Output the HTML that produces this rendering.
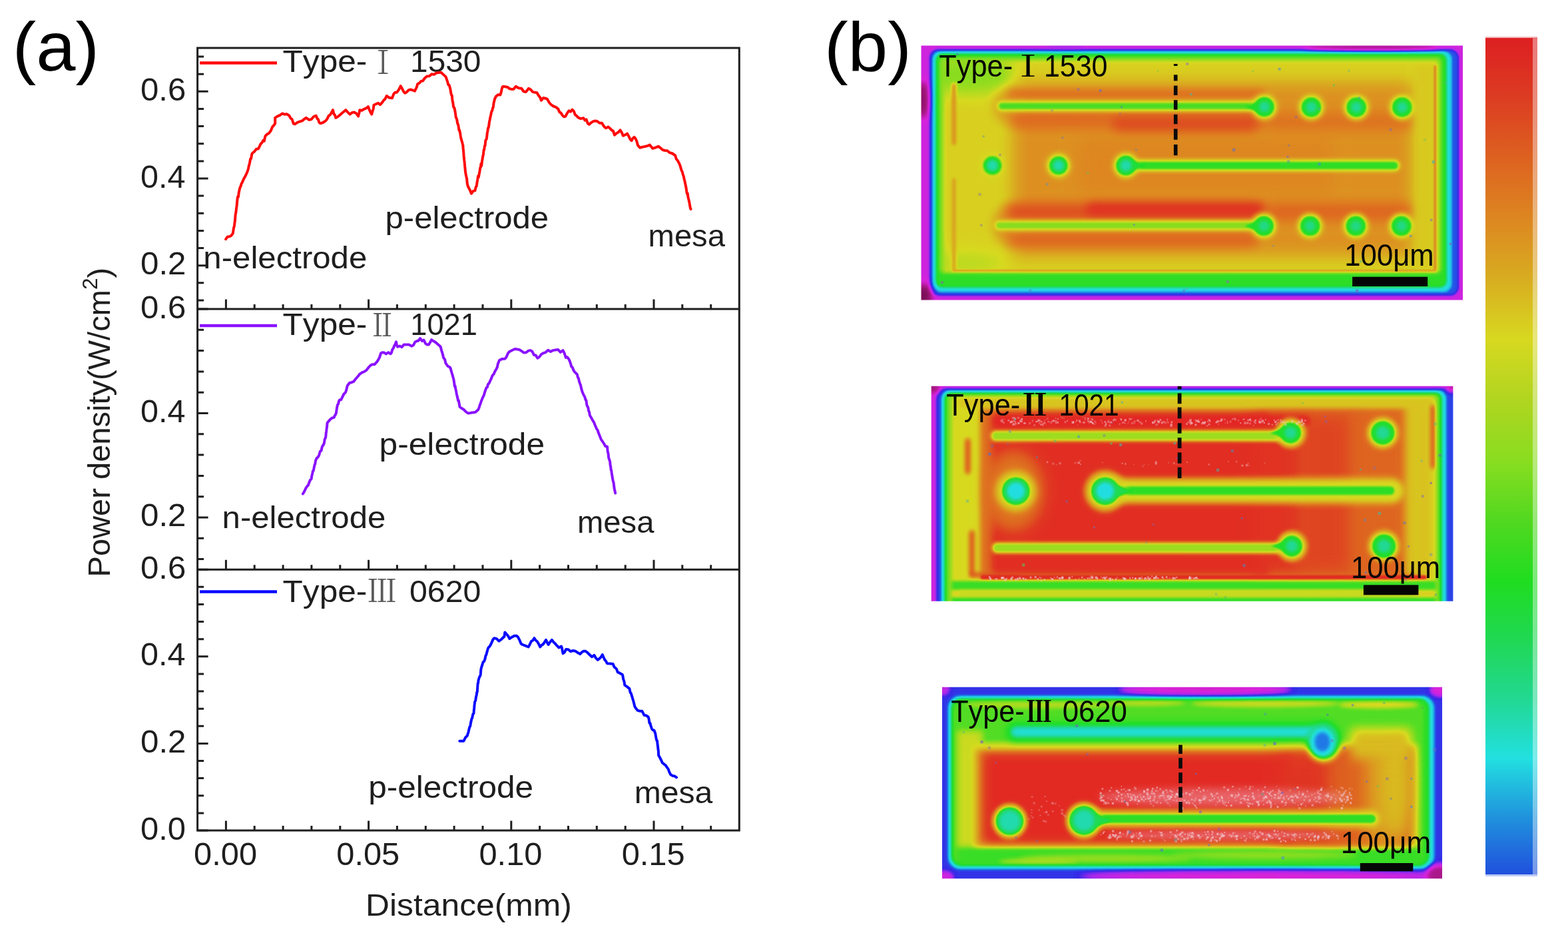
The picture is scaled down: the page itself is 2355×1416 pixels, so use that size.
<!DOCTYPE html>
<html><head><meta charset="utf-8"><title>Figure</title>
<style>
html,body{margin:0;padding:0;background:#fff;}
body{width:2355px;height:1416px;overflow:hidden;}
svg{display:block;font-kerning:none;}
text{font-kerning:none;}
</style></head><body>
<svg width="2355" height="1416" viewBox="0 0 2355 1416">
<rect width="2355" height="1416" fill="#fff"/>
<g stroke="#1e1e1e" stroke-width="3" fill="none" stroke-linecap="butt">
<rect x="296.6" y="72.0" width="813.6999999999999" height="1175.0"/>
<line x1="296.6" y1="464.0" x2="1110.3" y2="464.0"/>
<line x1="296.6" y1="855.2" x2="1110.3" y2="855.2"/>
<path d="M339.4 464.0V449.5M382.2 464.0V457.0M425.1 464.0V457.0M467.9 464.0V457.0M510.8 464.0V457.0M553.6 464.0V449.5M596.4 464.0V457.0M639.3 464.0V457.0M682.1 464.0V457.0M725.0 464.0V457.0M767.8 464.0V449.5M810.6 464.0V457.0M853.5 464.0V457.0M896.3 464.0V457.0M939.2 464.0V457.0M982.0 464.0V449.5M1024.8 464.0V457.0M1067.7 464.0V457.0M339.4 855.2V840.7M382.2 855.2V848.2M425.1 855.2V848.2M467.9 855.2V848.2M510.8 855.2V848.2M553.6 855.2V840.7M596.4 855.2V848.2M639.3 855.2V848.2M682.1 855.2V848.2M725.0 855.2V848.2M767.8 855.2V840.7M810.6 855.2V848.2M853.5 855.2V848.2M896.3 855.2V848.2M939.2 855.2V848.2M982.0 855.2V840.7M1024.8 855.2V848.2M1067.7 855.2V848.2M339.4 1247.0V1232.5M382.2 1247.0V1240.0M425.1 1247.0V1240.0M467.9 1247.0V1240.0M510.8 1247.0V1240.0M553.6 1247.0V1232.5M596.4 1247.0V1240.0M639.3 1247.0V1240.0M682.1 1247.0V1240.0M725.0 1247.0V1240.0M767.8 1247.0V1232.5M810.6 1247.0V1240.0M853.5 1247.0V1240.0M896.3 1247.0V1240.0M939.2 1247.0V1240.0M982.0 1247.0V1232.5M1024.8 1247.0V1240.0M1067.7 1247.0V1240.0M296.6 450.9H306.1M296.6 424.8H306.1M296.6 398.7H312.6M296.6 372.5H306.1M296.6 346.4H306.1M296.6 320.3H306.1M296.6 294.1H306.1M296.6 268.0H312.6M296.6 241.9H306.1M296.6 215.7H306.1M296.6 189.6H306.1M296.6 163.5H306.1M296.6 137.3H312.6M296.6 111.2H306.1M296.6 85.1H306.1M296.6 839.6H306.1M296.6 808.3H306.1M296.6 777.0H312.6M296.6 745.7H306.1M296.6 714.4H306.1M296.6 683.1H306.1M296.6 651.8H306.1M296.6 620.5H312.6M296.6 589.2H306.1M296.6 557.9H306.1M296.6 526.6H306.1M296.6 495.3H306.1M296.6 464.0H312.6M296.6 1247.0H312.6M296.6 1220.9H306.1M296.6 1194.8H306.1M296.6 1168.6H306.1M296.6 1142.5H306.1M296.6 1116.4H312.6M296.6 1090.3H306.1M296.6 1064.2H306.1M296.6 1038.0H306.1M296.6 1011.9H306.1M296.6 985.8H312.6M296.6 959.7H306.1M296.6 933.6H306.1M296.6 907.4H306.1M296.6 881.3H306.1M296.6 855.2H312.6"/>
</g>
<text transform="translate(210.98,412.17) scale(1.0387,1)" font-size="47.5" font-family='"Liberation Sans", Arial, sans-serif' fill="#1e1e1e">0.2</text>
<text transform="translate(211.01,281.50) scale(1.0222,1)" font-size="47.5" font-family='"Liberation Sans", Arial, sans-serif' fill="#1e1e1e">0.4</text>
<text transform="translate(210.99,150.83) scale(1.0345,1)" font-size="47.5" font-family='"Liberation Sans", Arial, sans-serif' fill="#1e1e1e">0.6</text>
<text transform="translate(210.98,790.46) scale(1.0387,1)" font-size="47.5" font-family='"Liberation Sans", Arial, sans-serif' fill="#1e1e1e">0.2</text>
<text transform="translate(211.01,633.98) scale(1.0222,1)" font-size="47.5" font-family='"Liberation Sans", Arial, sans-serif' fill="#1e1e1e">0.4</text>
<text transform="translate(210.99,477.50) scale(1.0345,1)" font-size="47.5" font-family='"Liberation Sans", Arial, sans-serif' fill="#1e1e1e">0.6</text>
<text transform="translate(211.00,1260.50) scale(1.0304,1)" font-size="47.5" font-family='"Liberation Sans", Arial, sans-serif' fill="#1e1e1e">0.0</text>
<text transform="translate(210.98,1129.90) scale(1.0387,1)" font-size="47.5" font-family='"Liberation Sans", Arial, sans-serif' fill="#1e1e1e">0.2</text>
<text transform="translate(211.01,999.30) scale(1.0222,1)" font-size="47.5" font-family='"Liberation Sans", Arial, sans-serif' fill="#1e1e1e">0.4</text>
<text transform="translate(210.99,868.70) scale(1.0345,1)" font-size="47.5" font-family='"Liberation Sans", Arial, sans-serif' fill="#1e1e1e">0.6</text>
<text transform="translate(291.10,1298.80) scale(1.0270,1)" font-size="47.5" font-family='"Liberation Sans", Arial, sans-serif' fill="#1e1e1e">0.00</text>
<text transform="translate(505.30,1298.80) scale(1.0270,1)" font-size="47.5" font-family='"Liberation Sans", Arial, sans-serif' fill="#1e1e1e">0.05</text>
<text transform="translate(719.50,1298.80) scale(1.0270,1)" font-size="47.5" font-family='"Liberation Sans", Arial, sans-serif' fill="#1e1e1e">0.10</text>
<text transform="translate(933.70,1298.80) scale(1.0270,1)" font-size="47.5" font-family='"Liberation Sans", Arial, sans-serif' fill="#1e1e1e">0.15</text>
<text transform="translate(549.03,1374.50) scale(1.0593,1)" font-size="47" font-family='"Liberation Sans", Arial, sans-serif' fill="#1e1e1e">Distance(mm)</text>
<g transform="translate(165.2,866.4) rotate(-90)"><text transform="scale(1.023,1)" font-size="46" font-family='"Liberation Sans", Arial, sans-serif' fill="#1e1e1e">Power density(W/cm<tspan font-size="31" dy="-19">2</tspan><tspan dy="19">)</tspan></text></g>
<text transform="translate(18.74,106.00) scale(1.0241,1)" font-size="104" font-family='"Liberation Sans", Arial, sans-serif' fill="#000">(a)</text>
<text transform="translate(1237.90,106.00) scale(1.0311,1)" font-size="104" font-family='"Liberation Sans", Arial, sans-serif' fill="#000">(b)</text>
<text transform="translate(578.46,342.50) scale(1.0453,1)" font-size="47" font-family='"Liberation Sans", Arial, sans-serif' fill="#1e1e1e">p-electrode</text>
<text transform="translate(973.59,369.50) scale(1.0040,1)" font-size="47" font-family='"Liberation Sans", Arial, sans-serif' fill="#1e1e1e">mesa</text>
<text transform="translate(305.36,402.50) scale(1.0462,1)" font-size="47" font-family='"Liberation Sans", Arial, sans-serif' fill="#1e1e1e">n-electrode</text>
<text transform="translate(569.53,682.70) scale(1.0574,1)" font-size="47" font-family='"Liberation Sans", Arial, sans-serif' fill="#1e1e1e">p-electrode</text>
<text transform="translate(333.56,793.00) scale(1.0453,1)" font-size="47" font-family='"Liberation Sans", Arial, sans-serif' fill="#1e1e1e">n-electrode</text>
<text transform="translate(867.09,800.30) scale(1.0031,1)" font-size="47" font-family='"Liberation Sans", Arial, sans-serif' fill="#1e1e1e">mesa</text>
<text transform="translate(553.14,1197.90) scale(1.0548,1)" font-size="47" font-family='"Liberation Sans", Arial, sans-serif' fill="#1e1e1e">p-electrode</text>
<text transform="translate(952.63,1206.00) scale(1.0236,1)" font-size="47" font-family='"Liberation Sans", Arial, sans-serif' fill="#1e1e1e">mesa</text>
<line x1="300" y1="94.4" x2="416" y2="94.4" stroke="#ff0a0a" stroke-width="4.5"/>
<text transform="translate(424.54,108.40) scale(1.0559,1)" font-size="47" font-family='"Liberation Sans", Arial, sans-serif' fill="#1e1e1e">Type-</text>
<text transform="translate(616.04,108.40) scale(1.0181,1)" font-size="47" font-family='"Liberation Sans", Arial, sans-serif' fill="#1e1e1e">1530</text>
<text transform="translate(554.67,111.00) scale(0.8597,1)" font-size="47.7" font-family='"Liberation Serif", "Noto Serif CJK SC", serif' fill="#5a5a5a">Ⅰ</text>
<line x1="300" y1="489.0" x2="416" y2="489.0" stroke="#8a12ff" stroke-width="4.5"/>
<text transform="translate(424.54,502.80) scale(1.0559,1)" font-size="47" font-family='"Liberation Sans", Arial, sans-serif' fill="#1e1e1e">Type-</text>
<text transform="translate(616.23,502.80) scale(0.9636,1)" font-size="47" font-family='"Liberation Sans", Arial, sans-serif' fill="#1e1e1e">1021</text>
<text transform="translate(553.16,505.00) scale(0.8966,1)" font-size="46.6" font-family='"Liberation Serif", "Noto Serif CJK SC", serif' fill="#5a5a5a">Ⅱ</text>
<line x1="300" y1="888.6" x2="416" y2="888.6" stroke="#0a0aff" stroke-width="4.5"/>
<text transform="translate(424.54,903.70) scale(1.0559,1)" font-size="47" font-family='"Liberation Sans", Arial, sans-serif' fill="#1e1e1e">Type-</text>
<text transform="translate(615.00,903.70) scale(1.0281,1)" font-size="47" font-family='"Liberation Sans", Arial, sans-serif' fill="#1e1e1e">0620</text>
<text transform="translate(551.58,904.30) scale(0.9435,1)" font-size="47.0" font-family='"Liberation Serif", "Noto Serif CJK SC", serif' fill="#5a5a5a">Ⅲ</text>
<polyline points="339.1,359.1 341.8,355.4 344.4,355.3 347.1,354.0 349.7,350.6 350.4,346.4 351.1,341.8 351.8,340.0 352.2,336.5 352.6,333.7 353.0,331.1 353.4,324.7 353.8,321.1 354.2,320.3 354.6,316.6 355.0,312.5 355.4,311.1 355.8,307.0 356.2,302.2 356.6,298.5 357.0,295.5 357.9,295.7 358.8,288.8 359.7,284.9 360.6,281.3 361.5,279.7 362.4,276.4 364.1,273.2 365.8,269.2 367.4,266.2 369.1,263.2 370.8,259.5 371.9,256.7 372.9,253.5 373.9,248.7 375.0,244.7 376.1,238.6 377.1,238.2 378.2,231.7 379.3,229.8 382.1,227.5 385.0,223.7 387.8,223.5 389.6,220.3 391.5,216.1 393.4,214.3 395.2,210.8 396.8,211.9 398.4,204.4 401.2,201.5 404.1,199.9 406.9,196.0 409.0,190.7 411.1,188.5 413.2,185.3 413.2,182.0 413.2,176.9 416.7,174.6 420.3,173.1 423.8,170.5 427.3,171.7 430.9,171.3 434.4,173.7 436.5,177.6 438.6,179.0 440.8,185.7 442.9,186.4 447.1,183.6 451.4,182.2 454.2,181.3 457.0,178.7 459.8,176.9 464.1,180.0 467.6,179.1 471.2,175.0 474.7,173.7 476.3,177.9 477.9,179.3 479.4,184.0 481.0,185.3 485.2,184.0 489.5,181.1 491.6,178.1 493.7,173.7 495.8,172.6 497.9,169.0 500.0,165.2 501.4,171.2 502.9,172.5 504.3,176.9 507.3,175.3 510.3,172.9 513.2,170.2 516.2,167.8 519.2,165.2 522.4,168.6 525.5,171.6 528.7,169.2 531.9,168.4 535.0,170.2 538.2,174.7 538.9,171.0 539.6,169.1 540.3,165.2 543.5,165.9 546.6,163.9 549.8,162.7 553.0,160.0 554.8,164.9 556.5,168.6 558.3,171.6 559.1,168.4 559.9,165.7 560.7,163.6 561.5,157.8 564.7,156.3 567.9,154.8 571.0,157.2 574.2,153.6 576.3,150.7 578.5,148.5 580.6,144.0 584.8,146.7 589.0,147.2 591.1,141.5 593.3,138.7 596.1,138.7 599.0,134.7 601.8,129.2 603.9,133.0 606.0,137.2 608.1,139.8 610.9,138.2 613.8,135.1 616.6,134.5 619.8,135.4 623.0,136.6 624.4,133.6 625.8,131.0 627.2,126.0 629.9,124.8 632.5,121.8 635.1,121.4 637.8,117.5 641.3,114.4 644.9,114.3 648.4,111.2 651.9,111.9 655.5,109.4 659.0,109.0 662.5,108.8 666.1,112.1 669.6,115.4 670.9,119.1 672.2,122.9 673.4,127.6 674.7,127.7 676.0,132.4 676.7,135.9 677.4,140.3 678.1,142.8 678.8,143.5 679.5,151.1 680.2,153.6 681.0,159.9 681.7,161.5 682.5,162.2 683.3,166.2 684.0,170.3 684.8,176.5 685.5,177.3 686.3,179.9 687.1,185.1 687.8,186.2 688.6,189.6 689.4,195.5 690.2,195.6 691.0,199.3 691.8,204.3 692.6,208.6 693.4,211.1 694.2,214.1 695.0,217.1 695.3,218.0 695.6,222.7 696.0,226.1 696.3,229.5 696.6,234.2 696.9,236.2 697.3,241.0 697.6,243.3 697.9,246.0 698.2,249.9 698.6,253.5 698.9,257.4 699.2,259.5 699.8,262.3 700.5,266.0 701.1,268.0 701.7,275.3 702.4,278.5 703.0,280.0 704.7,283.3 706.3,286.5 708.0,290.7 710.6,286.9 713.3,286.4 714.1,283.4 714.9,280.3 715.7,279.7 716.5,274.0 717.3,269.5 718.1,264.2 718.9,266.0 719.7,261.0 720.4,258.0 721.1,252.3 721.8,251.4 722.5,245.8 723.2,249.1 723.9,242.7 724.6,238.7 725.3,234.5 726.0,231.4 726.6,225.2 727.3,224.5 727.9,219.2 728.6,218.6 729.2,211.7 729.8,209.9 730.5,209.3 731.1,206.4 731.8,199.4 732.4,197.5 733.0,192.1 733.7,191.8 734.3,188.4 735.0,182.6 735.6,180.5 736.3,176.4 737.1,173.2 737.8,169.4 738.6,166.9 739.3,166.2 740.0,162.3 740.8,160.9 741.5,154.9 742.3,151.7 743.0,148.7 745.1,144.5 748.2,142.2 751.4,142.4 752.5,139.1 753.5,134.3 754.6,130.6 755.7,129.7 762.0,130.7 765.2,133.2 768.4,133.9 771.5,133.7 774.7,129.7 779.0,132.3 783.2,132.8 786.4,137.2 789.6,138.1 791.7,135.8 793.8,132.8 797.0,134.5 800.2,138.1 806.5,139.2 808.1,142.2 809.7,144.5 811.3,146.5 812.9,150.8 816.0,147.0 819.2,147.7 822.0,148.9 824.9,154.0 827.7,157.2 831.2,159.5 834.8,160.8 838.3,163.6 840.4,168.4 842.5,169.6 844.7,173.1 846.8,175.2 849.3,174.7 851.9,169.9 854.4,166.3 857.0,167.7 859.5,164.6 861.6,166.6 863.8,172.2 865.9,173.8 868.0,176.3 872.2,178.1 876.4,177.3 878.5,180.7 880.6,179.4 882.8,185.4 884.9,186.9 887.7,184.3 890.6,182.4 893.4,181.6 896.9,182.1 900.5,184.7 904.0,184.7 906.1,188.3 908.2,191.0 910.3,192.2 913.5,190.5 916.7,193.2 918.8,195.6 920.9,196.5 923.0,202.8 925.8,200.2 928.7,198.6 931.5,195.3 933.6,198.6 935.8,203.8 939.0,202.5 942.1,200.6 944.2,204.4 946.4,209.0 948.5,211.2 950.6,207.5 952.7,205.9 954.4,208.0 956.1,211.3 957.8,217.7 959.5,220.0 961.2,221.8 965.5,220.6 969.7,219.7 972.9,218.9 976.0,217.6 978.1,220.4 980.3,222.9 984.5,221.6 988.7,219.7 991.9,222.1 995.1,225.0 998.6,226.0 1002.2,226.2 1005.7,229.2 1010.0,230.5 1014.2,233.5 1015.8,238.8 1017.4,240.5 1018.9,243.1 1020.5,246.2 1021.6,249.1 1022.6,252.6 1023.7,256.2 1024.8,258.1 1025.8,262.4 1026.9,265.3 1027.6,269.1 1028.3,271.4 1029.0,274.8 1029.7,278.1 1030.4,281.5 1031.1,286.4 1031.9,291.0 1032.7,290.2 1033.5,296.4 1034.3,299.4 1035.1,302.8 1035.9,307.2 1036.7,312.0 1037.5,314.0" fill="none" stroke="#ff0a0a" stroke-width="4" stroke-linejoin="round" stroke-linecap="round"/>
<polyline points="454.9,741.6 456.5,738.9 458.1,735.8 459.7,732.4 461.2,730.3 462.8,728.8 464.4,724.4 466.0,720.6 467.6,719.3 468.4,714.2 469.2,711.0 470.0,707.1 470.8,706.9 471.6,702.5 472.4,698.3 473.2,697.0 474.0,691.7 475.7,687.9 477.4,686.7 479.1,683.8 480.8,677.8 482.5,676.8 483.6,671.6 484.6,669.2 485.6,668.4 486.7,665.8 487.8,659.3 488.8,657.7 489.3,655.7 489.7,650.5 490.2,647.2 490.6,643.7 491.1,640.6 491.5,635.4 492.0,634.4 495.2,630.6 498.4,627.8 501.6,626.9 502.7,624.2 503.7,623.0 504.8,620.5 505.9,613.2 506.9,608.1 508.0,606.5 509.0,602.5 510.1,600.4 512.2,600.3 514.4,595.8 516.5,591.5 518.6,589.8 519.6,587.5 520.7,583.4 521.7,579.2 524.9,575.0 528.1,574.2 531.3,572.8 533.4,569.8 535.5,567.5 537.7,565.0 539.8,562.2 543.3,559.6 546.9,558.2 550.4,555.8 553.2,552.2 556.1,549.0 558.9,547.3 562.6,547.2 566.3,543.1 568.2,540.1 570.0,536.8 571.9,530.7 573.8,529.3 577.0,529.6 580.1,531.4 583.3,529.2 586.5,531.4 587.9,529.8 589.3,524.9 590.8,522.9 592.2,519.2 593.6,516.7 595.0,513.4 596.0,518.7 597.1,520.8 600.3,519.5 603.5,521.2 606.7,517.4 609.9,517.6 614.1,517.4 618.3,519.7 620.9,518.3 623.4,513.6 626.0,512.2 628.5,511.5 631.1,508.0 633.8,512.0 636.4,510.5 639.1,515.9 641.7,517.6 643.8,517.6 646.0,514.2 648.1,510.2 651.3,512.3 654.5,514.2 657.6,516.9 660.8,519.7 661.9,521.4 662.9,525.7 664.0,529.0 665.0,532.3 666.1,537.2 667.2,538.5 668.2,540.1 669.3,545.2 672.5,549.8 675.7,551.6 676.8,553.4 677.8,557.4 678.9,561.0 679.9,564.3 680.6,567.0 681.3,569.4 682.0,573.5 682.8,579.9 683.5,579.4 684.2,583.4 685.0,586.7 685.8,591.8 686.6,594.7 687.4,598.2 688.1,601.8 688.9,601.5 689.7,606.4 690.5,611.0 693.7,613.3 696.9,615.3 700.1,618.6 703.3,620.6 709.6,619.5 713.9,619.1 718.1,615.3 719.4,612.5 720.7,608.2 721.9,605.2 723.2,601.4 724.5,598.3 725.7,595.6 726.9,593.1 728.1,588.7 729.4,585.1 730.6,582.0 731.8,581.5 733.0,577.0 734.6,575.5 736.2,571.9 737.8,568.6 739.4,564.3 741.5,561.8 743.6,557.2 745.7,553.7 746.8,551.4 747.9,546.0 748.9,543.9 750.0,541.0 754.2,538.9 758.4,538.8 760.5,536.2 762.7,531.0 764.8,528.2 769.1,526.0 773.4,524.0 779.7,525.0 783.2,527.0 786.8,529.6 790.3,529.3 793.5,526.7 796.7,526.1 799.4,527.8 802.0,533.0 804.6,533.4 807.3,537.8 810.1,535.9 813.0,532.1 815.8,530.3 819.5,529.1 823.2,525.8 827.0,528.1 830.7,526.1 834.4,525.4 838.1,524.9 841.8,528.8 845.5,526.1 847.6,530.2 849.8,537.0 851.9,536.2 854.0,538.8 855.4,541.5 856.8,545.3 858.2,550.4 859.7,551.5 861.1,555.3 862.5,557.9 866.8,562.2 867.8,566.4 868.9,568.1 870.0,573.0 871.0,575.7 872.0,578.2 873.1,583.4 874.4,587.9 875.7,591.1 876.9,593.7 878.2,595.8 879.5,600.4 880.4,601.1 881.3,607.7 882.2,610.3 883.2,611.6 884.1,617.0 885.0,618.5 885.9,623.8 888.0,627.3 890.1,631.1 892.2,634.4 893.5,638.0 894.9,641.1 896.2,644.2 897.5,645.7 898.8,649.8 900.1,652.9 901.5,656.4 902.8,659.9 904.9,662.9 907.0,666.0 909.2,670.0 911.3,670.5 912.0,670.7 912.7,678.1 913.5,680.8 914.2,687.6 914.9,689.4 915.6,691.7 916.1,692.7 916.6,698.6 917.2,700.6 917.7,705.7 918.2,706.3 918.8,710.7 919.3,713.8 919.8,717.2 920.4,720.4 921.0,723.1 921.6,724.8 922.3,731.1 922.9,735.1 923.5,737.1 924.1,740.5" fill="none" stroke="#8a12ff" stroke-width="4" stroke-linejoin="round" stroke-linecap="round"/>
<polyline points="690.3,1112.7 696.5,1112.7 699.1,1107.4 701.8,1104.8 702.7,1101.8 703.6,1099.0 704.5,1094.8 705.3,1091.8 706.2,1090.4 707.1,1085.3 708.2,1080.3 709.3,1077.5 710.4,1072.2 711.5,1071.2 711.8,1066.8 712.2,1063.2 712.5,1059.4 712.9,1056.2 713.2,1053.6 714.1,1052.4 715.0,1046.3 715.9,1043.0 716.3,1039.3 716.8,1038.8 717.2,1032.3 717.6,1026.6 718.1,1025.9 718.5,1021.8 719.9,1017.0 721.2,1014.7 721.8,1012.7 722.4,1004.9 723.0,1002.4 724.3,998.5 725.6,994.1 727.0,993.2 728.3,990.0 729.3,985.2 730.4,982.9 731.4,979.0 732.5,975.1 733.5,972.4 735.3,970.8 737.1,967.9 738.8,964.0 740.6,959.9 742.4,958.2 745.9,959.1 749.4,962.7 753.0,960.0 756.5,956.5 757.4,956.1 758.3,949.4 760.6,952.0 763.0,954.8 765.3,959.1 768.8,956.7 772.4,954.7 775.9,954.7 778.1,956.8 780.3,961.1 782.5,966.5 784.7,968.0 789.2,969.7 793.6,971.5 795.8,967.5 798.0,962.8 800.2,961.8 802.4,958.2 804.6,961.5 806.8,963.3 809.0,966.8 811.2,971.5 813.4,968.8 815.6,967.5 817.8,964.4 820.0,960.9 821.8,964.7 823.6,968.0 826.2,964.0 828.9,960.9 831.2,964.0 833.6,966.2 835.9,968.8 839.5,972.5 843.0,970.6 843.9,972.7 844.7,977.2 845.6,981.2 847.8,979.7 850.0,975.0 853.5,975.3 857.1,978.2 860.7,977.0 864.2,977.7 867.7,980.1 871.2,982.1 873.9,979.4 876.5,977.7 879.5,977.7 882.4,980.0 885.4,983.0 888.9,986.3 892.4,983.8 895.0,988.2 897.7,990.9 900.1,989.1 902.4,986.9 904.8,983.0 906.5,987.0 908.3,990.9 910.0,992.6 911.8,996.2 916.2,996.4 920.7,997.1 922.5,1001.5 924.2,1002.8 926.0,1004.6 927.7,1009.4 931.2,1010.9 934.8,1013.0 935.5,1015.5 936.2,1020.2 936.9,1021.6 937.6,1024.3 938.3,1028.9 941.8,1031.1 945.4,1034.1 946.6,1039.7 947.7,1041.1 948.9,1044.7 950.0,1048.4 951.0,1051.8 952.1,1055.7 953.1,1060.1 954.2,1062.4 957.8,1066.9 961.3,1067.7 964.4,1067.8 967.5,1073.9 970.5,1074.3 973.6,1076.5 974.5,1079.2 975.4,1085.8 976.3,1085.6 977.2,1088.9 979.0,1094.5 980.7,1096.3 982.5,1096.8 984.2,1101.2 984.9,1105.4 985.6,1109.2 986.3,1111.7 987.0,1112.3 987.7,1118.9 988.1,1121.6 988.4,1125.0 988.8,1127.0 989.1,1134.0 989.5,1134.8 991.3,1138.0 993.0,1141.4 994.8,1145.4 997.2,1147.3 999.5,1149.0 1001.9,1152.4 1003.7,1154.9 1005.4,1159.6 1007.2,1163.0 1010.1,1164.9 1013.1,1165.3 1016.0,1167.4" fill="none" stroke="#0a0aff" stroke-width="4" stroke-linejoin="round" stroke-linecap="round"/>
<clipPath id="cp1"><rect x="1383.5" y="68.5" width="813.5" height="382.0"/></clipPath>
<g clip-path="url(#cp1)"><g filter="url(#cm)">
<rect x="1378.5" y="63.5" width="823.5" height="392.0" rx="0" fill="#999999"/>
<rect x="1400.0" y="80.0" width="780.0" height="360.0" rx="0" fill="#999999"/>
<ellipse cx="1455.0" cy="112.0" rx="70.0" ry="30.0" fill="#808080" filter="url(#f0)"/>
<ellipse cx="1450.0" cy="395.0" rx="60.0" ry="18.0" fill="#8c8c8c" filter="url(#f1)"/>
<rect x="1522.0" y="124.0" width="600.0" height="260.0" rx="0" fill="#b8b8b8" filter="url(#f2)"/>
<rect x="1620.0" y="205.0" width="380.0" height="85.0" rx="0" fill="#bdbdbd" filter="url(#f3)"/>
<ellipse cx="1515.0" cy="160.0" rx="22.0" ry="26.0" fill="#b2b2b2" filter="url(#f4)"/>
<ellipse cx="1515.0" cy="338.0" rx="22.0" ry="30.0" fill="#b8b8b8" filter="url(#f5)"/>
<line x1="1520.0" y1="141.0" x2="1895.0" y2="141.0" stroke="#cccccc" stroke-width="12" stroke-linecap="round" filter="url(#f6)"/>
<line x1="1530.0" y1="180.0" x2="1890.0" y2="180.0" stroke="#cccccc" stroke-width="26" stroke-linecap="round" filter="url(#f7)"/>
<line x1="1680.0" y1="186.0" x2="1880.0" y2="186.0" stroke="#dedede" stroke-width="20" stroke-linecap="round" filter="url(#f8)"/>
<line x1="1525.0" y1="318.0" x2="1890.0" y2="318.0" stroke="#dbdbdb" stroke-width="26" stroke-linecap="round" filter="url(#f9)"/>
<line x1="1640.0" y1="314.0" x2="1890.0" y2="314.0" stroke="#ebebeb" stroke-width="18" stroke-linecap="round" filter="url(#f10)"/>
<line x1="1525.0" y1="360.0" x2="1880.0" y2="360.0" stroke="#d1d1d1" stroke-width="20" stroke-linecap="round" filter="url(#f11)"/>
<line x1="1910.0" y1="182.0" x2="2110.0" y2="182.0" stroke="#c9c9c9" stroke-width="24" stroke-linecap="round" filter="url(#f12)"/>
<line x1="1910.0" y1="318.0" x2="2110.0" y2="318.0" stroke="#d1d1d1" stroke-width="24" stroke-linecap="round" filter="url(#f13)"/>
<rect x="2126.0" y="100.0" width="26.0" height="300.0" rx="0" fill="#9c9c9c" filter="url(#f14)"/>
<line x1="1432.7" y1="128.0" x2="1432.7" y2="215.0" stroke="#b8b8b8" stroke-width="6" stroke-linecap="round" filter="url(#f15)"/>
<line x1="1432.7" y1="270.0" x2="1432.7" y2="405.0" stroke="#b2b2b2" stroke-width="5" stroke-linecap="round" filter="url(#f16)"/>
<line x1="2155.5" y1="100.0" x2="2155.5" y2="407.0" stroke="#bdbdbd" stroke-width="4" stroke-linecap="round" filter="url(#f17)"/>
<line x1="1432.7" y1="407.0" x2="2155.5" y2="407.0" stroke="#b8b8b8" stroke-width="4" stroke-linecap="round" filter="url(#f18)"/>
<line x1="1505.0" y1="159.3" x2="1890.0" y2="159.3" stroke="#8f8f8f" stroke-width="17" stroke-linecap="round" filter="url(#f19)"/>
<line x1="1505.0" y1="159.3" x2="1890.0" y2="159.3" stroke="#737373" stroke-width="9" stroke-linecap="round" filter="url(#f20)"/>
<ellipse cx="1899.0" cy="160.5" rx="20.0" ry="20.0" fill="#949494" filter="url(#f21)"/>
<path d="M1870.5 160.5L1899.0 147.8L1899.0 173.2Z" fill="#6b6b6b" filter="url(#f22)"/>
<ellipse cx="1899.0" cy="160.5" rx="15.0" ry="15.0" fill="#6b6b6b" filter="url(#f23)"/>
<ellipse cx="1899.0" cy="160.5" rx="8.0" ry="8.0" fill="#5c5c5c" filter="url(#f24)"/>
<ellipse cx="1969.5" cy="161.0" rx="20.0" ry="20.0" fill="#949494" filter="url(#f25)"/>
<ellipse cx="1969.5" cy="161.0" rx="15.0" ry="15.0" fill="#6b6b6b" filter="url(#f26)"/>
<ellipse cx="1969.5" cy="161.0" rx="8.0" ry="8.0" fill="#5c5c5c" filter="url(#f27)"/>
<ellipse cx="2037.2" cy="161.0" rx="20.0" ry="20.0" fill="#949494" filter="url(#f28)"/>
<ellipse cx="2037.2" cy="161.0" rx="15.0" ry="15.0" fill="#6b6b6b" filter="url(#f29)"/>
<ellipse cx="2037.2" cy="161.0" rx="8.0" ry="8.0" fill="#5c5c5c" filter="url(#f30)"/>
<ellipse cx="2105.8" cy="161.0" rx="20.0" ry="20.0" fill="#949494" filter="url(#f31)"/>
<ellipse cx="2105.8" cy="161.0" rx="15.0" ry="15.0" fill="#6b6b6b" filter="url(#f32)"/>
<ellipse cx="2105.8" cy="161.0" rx="8.0" ry="8.0" fill="#5c5c5c" filter="url(#f33)"/>
<line x1="1691.0" y1="248.6" x2="2094.0" y2="248.6" stroke="#8f8f8f" stroke-width="19" stroke-linecap="round" filter="url(#f34)"/>
<line x1="1691.0" y1="248.6" x2="2094.0" y2="248.6" stroke="#6e6e6e" stroke-width="11" stroke-linecap="round" filter="url(#f35)"/>
<ellipse cx="1691.0" cy="248.6" rx="20.0" ry="20.0" fill="#949494" filter="url(#f36)"/>
<path d="M1719.5 248.6L1691.0 235.8L1691.0 261.4Z" fill="#696969" filter="url(#f37)"/>
<ellipse cx="1691.0" cy="248.6" rx="15.0" ry="15.0" fill="#696969" filter="url(#f38)"/>
<ellipse cx="1691.0" cy="248.6" rx="8.0" ry="8.0" fill="#575757" filter="url(#f39)"/>
<ellipse cx="1490.5" cy="248.6" rx="19.0" ry="19.0" fill="#949494" filter="url(#f40)"/>
<ellipse cx="1490.5" cy="248.6" rx="14.0" ry="14.0" fill="#6b6b6b" filter="url(#f41)"/>
<ellipse cx="1490.5" cy="248.6" rx="8.0" ry="8.0" fill="#575757" filter="url(#f42)"/>
<ellipse cx="1589.8" cy="248.6" rx="19.0" ry="19.0" fill="#949494" filter="url(#f43)"/>
<ellipse cx="1589.8" cy="248.6" rx="14.0" ry="14.0" fill="#6b6b6b" filter="url(#f44)"/>
<ellipse cx="1589.8" cy="248.6" rx="8.0" ry="8.0" fill="#575757" filter="url(#f45)"/>
<line x1="1501.0" y1="338.4" x2="1890.0" y2="338.4" stroke="#949494" stroke-width="17" stroke-linecap="round" filter="url(#f46)"/>
<line x1="1501.0" y1="338.4" x2="1890.0" y2="338.4" stroke="#808080" stroke-width="9" stroke-linecap="round" filter="url(#f47)"/>
<ellipse cx="1898.2" cy="339.3" rx="20.0" ry="20.0" fill="#949494" filter="url(#f48)"/>
<path d="M1869.7 339.3L1898.2 326.6L1898.2 352.1Z" fill="#6b6b6b" filter="url(#f49)"/>
<ellipse cx="1898.2" cy="339.3" rx="15.0" ry="15.0" fill="#6b6b6b" filter="url(#f50)"/>
<ellipse cx="1898.2" cy="339.3" rx="8.0" ry="8.0" fill="#5e5e5e" filter="url(#f51)"/>
<ellipse cx="1967.7" cy="339.3" rx="20.0" ry="20.0" fill="#949494" filter="url(#f52)"/>
<ellipse cx="1967.7" cy="339.3" rx="15.0" ry="15.0" fill="#6b6b6b" filter="url(#f53)"/>
<ellipse cx="1967.7" cy="339.3" rx="8.0" ry="8.0" fill="#5e5e5e" filter="url(#f54)"/>
<ellipse cx="2036.3" cy="339.3" rx="20.0" ry="20.0" fill="#949494" filter="url(#f55)"/>
<ellipse cx="2036.3" cy="339.3" rx="15.0" ry="15.0" fill="#6b6b6b" filter="url(#f56)"/>
<ellipse cx="2036.3" cy="339.3" rx="8.0" ry="8.0" fill="#5e5e5e" filter="url(#f57)"/>
<ellipse cx="2104.8" cy="339.3" rx="20.0" ry="20.0" fill="#949494" filter="url(#f58)"/>
<ellipse cx="2104.8" cy="339.3" rx="15.0" ry="15.0" fill="#6b6b6b" filter="url(#f59)"/>
<ellipse cx="2104.8" cy="339.3" rx="8.0" ry="8.0" fill="#5e5e5e" filter="url(#f60)"/>
<path d="M1323.5 8.5H2257V510.5H1323.5ZM1424.0 92.0H2154.0A6 6 0 0 1 2160.0 98.0V403.0A6 6 0 0 1 2154.0 409.0H1424.0A6 6 0 0 1 1418.0 403.0V98.0A6 6 0 0 1 1424.0 92.0Z" fill-rule="evenodd" fill="#808080" filter="url(#f61)"/>
<path d="M1323.5 8.5H2257V510.5H1323.5ZM1419.0 86.0H2157.0A8 8 0 0 1 2165.0 94.0V403.0A8 8 0 0 1 2157.0 411.0H1419.0A8 8 0 0 1 1411.0 403.0V94.0A8 8 0 0 1 1419.0 86.0Z" fill-rule="evenodd" fill="#6e6e6e" filter="url(#f62)"/>
<path d="M1323.5 8.5H2257V510.5H1323.5ZM1415.0 80.0H2163.0A10 10 0 0 1 2173.0 90.0V422.0A10 10 0 0 1 2163.0 432.0H1415.0A10 10 0 0 1 1405.0 422.0V90.0A10 10 0 0 1 1415.0 80.0Z" fill-rule="evenodd" fill="#4c4c4c" filter="url(#f62)"/>
<path d="M1323.5 8.5H2257V510.5H1323.5ZM1413.0 77.0H2168.0A12 12 0 0 1 2180.0 89.0V426.0A12 12 0 0 1 2168.0 438.0H1413.0A12 12 0 0 1 1401.0 426.0V89.0A12 12 0 0 1 1413.0 77.0Z" fill-rule="evenodd" fill="#363636" filter="url(#f62)"/>
<path d="M1323.5 8.5H2257V510.5H1323.5ZM1409.0 74.0H2178.0A13 13 0 0 1 2191.0 87.0V431.0A13 13 0 0 1 2178.0 444.0H1409.0A13 13 0 0 1 1396.0 431.0V87.0A13 13 0 0 1 1409.0 74.0Z" fill-rule="evenodd" fill="#1c1c1c" filter="url(#f62)"/>
<ellipse cx="1386.0" cy="150.0" rx="7.0" ry="28.0" fill="#080808" filter="url(#f63)"/>
<ellipse cx="1387.0" cy="445.0" rx="12.0" ry="18.0" fill="#050505" filter="url(#f64)"/>
<ellipse cx="2060.0" cy="71.0" rx="100.0" ry="4.0" fill="#0f0f0f" filter="url(#f65)"/>
<ellipse cx="1600.0" cy="70.0" rx="30.0" ry="3.0" fill="#242424" filter="url(#f66)"/>
</g>
<rect x="1650.8" y="134.3" width="3.8" height="3.8" fill="#5a70c8" opacity="0.64"/>
<rect x="1469.4" y="289.8" width="4.3" height="4.3" fill="#7a60c0" opacity="0.36"/>
<rect x="1737.6" y="105.1" width="2.7" height="2.7" fill="#60c060" opacity="0.37"/>
<rect x="1841.7" y="421.1" width="3.8" height="3.8" fill="#8070b0" opacity="0.68"/>
<rect x="1850.9" y="222.8" width="4.5" height="4.5" fill="#5a70c8" opacity="0.54"/>
<rect x="1500.2" y="230.9" width="3.6" height="3.6" fill="#8070b0" opacity="0.46"/>
<rect x="2039.7" y="145.1" width="3.7" height="3.7" fill="#4a8ad0" opacity="0.42"/>
<rect x="1472.0" y="336.4" width="3.6" height="3.6" fill="#8070b0" opacity="0.42"/>
<rect x="1932.5" y="233.9" width="3.1" height="3.1" fill="#8070b0" opacity="0.67"/>
<rect x="1680.7" y="169.4" width="2.9" height="2.9" fill="#7a60c0" opacity="0.38"/>
<rect x="1632.2" y="258.2" width="3.2" height="3.2" fill="#60c060" opacity="0.45"/>
<rect x="2169.3" y="122.5" width="3.3" height="3.3" fill="#50b0a0" opacity="0.40"/>
<rect x="1781.3" y="94.1" width="3.8" height="3.8" fill="#8070b0" opacity="0.55"/>
<rect x="2086.6" y="192.9" width="3.9" height="3.9" fill="#8070b0" opacity="0.52"/>
<rect x="2024.5" y="104.8" width="2.7" height="2.7" fill="#50b0a0" opacity="0.52"/>
<rect x="1919.7" y="101.8" width="3.9" height="3.9" fill="#4a8ad0" opacity="0.55"/>
<rect x="1933.2" y="240.4" width="3.9" height="3.9" fill="#4a8ad0" opacity="0.47"/>
<rect x="2138.1" y="208.0" width="3.7" height="3.7" fill="#60c060" opacity="0.37"/>
<rect x="2001.9" y="126.6" width="3.0" height="3.0" fill="#60c060" opacity="0.67"/>
<rect x="1787.2" y="139.9" width="3.3" height="3.3" fill="#50b0a0" opacity="0.66"/>
<rect x="2042.2" y="391.0" width="3.1" height="3.1" fill="#60c060" opacity="0.70"/>
<rect x="1934.4" y="217.0" width="3.0" height="3.0" fill="#5a70c8" opacity="0.41"/>
<rect x="1578.2" y="164.0" width="3.5" height="3.5" fill="#8070b0" opacity="0.41"/>
<rect x="1617.7" y="132.4" width="3.6" height="3.6" fill="#8070b0" opacity="0.55"/>
<rect x="2147.9" y="328.6" width="3.5" height="3.5" fill="#8070b0" opacity="0.58"/>
<rect x="1979.4" y="244.4" width="4.2" height="4.2" fill="#4a8ad0" opacity="0.63"/>
<rect x="1705.0" y="223.6" width="2.7" height="2.7" fill="#4a8ad0" opacity="0.49"/>
<rect x="1545.6" y="434.5" width="3.4" height="3.4" fill="#5a70c8" opacity="0.47"/>
<rect x="1436.5" y="80.1" width="2.8" height="2.8" fill="#5a70c8" opacity="0.68"/>
<rect x="1879.9" y="105.3" width="2.9" height="2.9" fill="#60c060" opacity="0.40"/>
<rect x="1594.3" y="205.1" width="3.2" height="3.2" fill="#5a70c8" opacity="0.39"/>
<rect x="1780.6" y="432.0" width="3.5" height="3.5" fill="#50b0a0" opacity="0.38"/>
<rect x="1475.7" y="203.3" width="3.0" height="3.0" fill="#4a8ad0" opacity="0.41"/>
<rect x="1413.2" y="422.4" width="3.6" height="3.6" fill="#7a60c0" opacity="0.59"/>
<rect x="2117.2" y="352.9" width="3.1" height="3.1" fill="#4a8ad0" opacity="0.65"/>
<rect x="1945.0" y="174.0" width="3.2" height="3.2" fill="#7a60c0" opacity="0.47"/>
<rect x="1571.0" y="275.0" width="3.5" height="3.5" fill="#4a8ad0" opacity="0.43"/>
<rect x="2036.1" y="434.6" width="4.2" height="4.2" fill="#7a60c0" opacity="0.64"/>
<rect x="1979.5" y="161.6" width="3.5" height="3.5" fill="#50b0a0" opacity="0.61"/>
<rect x="2176.8" y="364.4" width="3.4" height="3.4" fill="#7a60c0" opacity="0.59"/>
<rect x="2150.6" y="241.0" width="4.4" height="4.4" fill="#50b0a0" opacity="0.68"/>
<rect x="1683.1" y="159.4" width="3.0" height="3.0" fill="#7a60c0" opacity="0.47"/>
<rect x="1776.3" y="434.7" width="3.7" height="3.7" fill="#5a70c8" opacity="0.52"/>
<rect x="1910.9" y="367.9" width="2.7" height="2.7" fill="#4a8ad0" opacity="0.39"/>
<rect x="1701.9" y="336.1" width="2.9" height="2.9" fill="#7a60c0" opacity="0.50"/>
<rect x="1762.9" y="96" width="5.6" height="3.0" fill="#0a0a0a"/>
<rect x="1762.9" y="112.3" width="5.6" height="9.1" fill="#0a0a0a"/>
<rect x="1762.9" y="128.6" width="5.6" height="14.4" fill="#0a0a0a"/>
<rect x="1762.9" y="150.2" width="5.6" height="14.5" fill="#0a0a0a"/>
<rect x="1762.9" y="171.9" width="5.6" height="14.4" fill="#0a0a0a"/>
<rect x="1762.9" y="193.5" width="5.6" height="16.3" fill="#0a0a0a"/>
<rect x="1762.9" y="217" width="5.6" height="16.3" fill="#0a0a0a"/>
<text transform="translate(1410.36,114.60) scale(0.9418,1)" font-size="46" font-family='"Liberation Sans", Arial, sans-serif' fill="#050505">Type-</text>
<text transform="translate(1567.93,114.60) scale(0.9344,1)" font-size="46" font-family='"Liberation Sans", Arial, sans-serif' fill="#050505">1530</text>
<text transform="translate(2019.28,399.40) scale(0.9499,1)" font-size="46" font-family='"Liberation Sans", Arial, sans-serif' fill="#050505">100μm</text>
<rect x="2031.1" y="415.7" width="113.1" height="14.3" fill="#050505"/>
<text transform="translate(1518.06,114.60) scale(1.1683,1)" font-size="44.7" font-family='"Liberation Serif", "Noto Serif CJK SC", serif' font-weight="500" fill="#050505">Ⅰ</text>
</g>
<clipPath id="cp2"><rect x="1398.7" y="579.7" width="783.7" height="323.0999999999999"/></clipPath>
<g clip-path="url(#cp2)"><g filter="url(#cm)">
<rect x="1393.7" y="574.7" width="793.7" height="333.1" rx="0" fill="#999999"/>
<rect x="1410.0" y="590.0" width="762.0" height="320.0" rx="0" fill="#999999"/>
<rect x="1470.0" y="613.0" width="665.0" height="253.0" rx="0" fill="#cccccc" filter="url(#f67)"/>
<rect x="1490.0" y="621.0" width="415.0" height="241.0" rx="0" fill="#f2f2f2" filter="url(#f68)"/>
<rect x="1880.0" y="622.0" width="80.0" height="238.0" rx="0" fill="#ededed" filter="url(#f69)"/>
<rect x="1950.0" y="620.0" width="90.0" height="242.0" rx="0" fill="#e0e0e0" filter="url(#f70)"/>
<line x1="1500.0" y1="632.0" x2="1960.0" y2="632.0" stroke="#fafafa" stroke-width="14" stroke-linecap="round" filter="url(#f71)"/>
<ellipse cx="1522.0" cy="737.0" rx="48.0" ry="62.0" fill="#c7c7c7" filter="url(#f72)"/>
<rect x="2030.0" y="618.0" width="96.0" height="246.0" rx="0" fill="#cfcfcf" filter="url(#f73)"/>
<rect x="2110.0" y="605.0" width="38.0" height="260.0" rx="0" fill="#9e9e9e" filter="url(#f74)"/>
<rect x="1430.0" y="598.0" width="40.0" height="274.0" rx="0" fill="#949494" filter="url(#f75)"/>
<rect x="1440.0" y="596.0" width="710.0" height="16.0" rx="0" fill="#9e9e9e" filter="url(#f76)"/>
<line x1="1453.5" y1="662.0" x2="1453.5" y2="708.0" stroke="#e0e0e0" stroke-width="7" stroke-linecap="round" filter="url(#f77)"/>
<line x1="1459.6" y1="800.0" x2="1459.6" y2="862.0" stroke="#e0e0e0" stroke-width="7" stroke-linecap="round" filter="url(#f78)"/>
<line x1="1460.0" y1="863.0" x2="1530.0" y2="865.0" stroke="#e0e0e0" stroke-width="6" stroke-linecap="round" filter="url(#f79)"/>
<line x1="2152.6" y1="612.0" x2="2152.6" y2="700.0" stroke="#e0e0e0" stroke-width="7" stroke-linecap="round" filter="url(#f80)"/>
<line x1="1476.0" y1="867.0" x2="2140.0" y2="867.0" stroke="#f7f7f7" stroke-width="6" stroke-linecap="round" filter="url(#f81)"/>
<rect x="1420.0" y="872.0" width="745.0" height="14.0" rx="0" fill="#707070" filter="url(#f82)"/>
<rect x="1440.0" y="887.0" width="685.0" height="8.0" rx="0" fill="#8f8f8f" filter="url(#f83)"/>
<rect x="1420.0" y="897.0" width="745.0" height="18.0" rx="0" fill="#6e6e6e" filter="url(#f84)"/>
<line x1="1660.0" y1="737.0" x2="2090.0" y2="737.0" stroke="#949494" stroke-width="38" stroke-linecap="round" filter="url(#f85)"/>
<line x1="1496.0" y1="654.4" x2="1925.0" y2="654.4" stroke="#9e9e9e" stroke-width="18" stroke-linecap="round" filter="url(#f86)"/>
<line x1="1496.0" y1="654.4" x2="1925.0" y2="654.4" stroke="#858585" stroke-width="12" stroke-linecap="round" filter="url(#f87)"/>
<ellipse cx="1938.4" cy="650.0" rx="23.0" ry="23.0" fill="#999999" filter="url(#f88)"/>
<path d="M1908.0 650.0L1938.4 636.4L1938.4 663.6Z" fill="#6b6b6b" filter="url(#f89)"/>
<ellipse cx="1938.4" cy="650.0" rx="16.0" ry="16.0" fill="#6b6b6b" filter="url(#f90)"/>
<ellipse cx="1938.4" cy="650.0" rx="9.0" ry="9.0" fill="#5c5c5c" filter="url(#f91)"/>
<ellipse cx="2076.8" cy="650.0" rx="24.0" ry="24.0" fill="#999999" filter="url(#f92)"/>
<ellipse cx="2076.8" cy="650.0" rx="18.0" ry="18.0" fill="#6b6b6b" filter="url(#f93)"/>
<ellipse cx="2076.8" cy="650.0" rx="10.0" ry="10.0" fill="#5c5c5c" filter="url(#f94)"/>
<line x1="1659.8" y1="736.8" x2="2088.0" y2="736.8" stroke="#6e6e6e" stroke-width="13" stroke-linecap="round" filter="url(#f95)"/>
<ellipse cx="1659.8" cy="737.4" rx="31.0" ry="31.0" fill="#999999" filter="url(#f96)"/>
<path d="M1699.7 737.4L1659.8 719.5L1659.8 755.2Z" fill="#666666" filter="url(#f97)"/>
<ellipse cx="1659.8" cy="737.4" rx="21.0" ry="21.0" fill="#666666" filter="url(#f98)"/>
<ellipse cx="1659.8" cy="737.4" rx="13.0" ry="13.0" fill="#4c4c4c" filter="url(#f99)"/>
<ellipse cx="1525.8" cy="737.4" rx="31.0" ry="31.0" fill="#999999" filter="url(#f100)"/>
<ellipse cx="1525.8" cy="737.4" rx="21.0" ry="21.0" fill="#666666" filter="url(#f101)"/>
<ellipse cx="1525.8" cy="737.4" rx="13.0" ry="13.0" fill="#4c4c4c" filter="url(#f102)"/>
<line x1="1498.0" y1="822.7" x2="1925.0" y2="822.7" stroke="#9e9e9e" stroke-width="18" stroke-linecap="round" filter="url(#f103)"/>
<line x1="1498.0" y1="822.7" x2="1925.0" y2="822.7" stroke="#858585" stroke-width="12" stroke-linecap="round" filter="url(#f104)"/>
<ellipse cx="1940.2" cy="820.0" rx="23.0" ry="23.0" fill="#999999" filter="url(#f105)"/>
<path d="M1909.8 820.0L1940.2 806.4L1940.2 833.6Z" fill="#6b6b6b" filter="url(#f106)"/>
<ellipse cx="1940.2" cy="820.0" rx="16.0" ry="16.0" fill="#6b6b6b" filter="url(#f107)"/>
<ellipse cx="1940.2" cy="820.0" rx="9.0" ry="9.0" fill="#5c5c5c" filter="url(#f108)"/>
<ellipse cx="2078.6" cy="820.0" rx="24.0" ry="24.0" fill="#999999" filter="url(#f109)"/>
<ellipse cx="2078.6" cy="820.0" rx="18.0" ry="18.0" fill="#6b6b6b" filter="url(#f110)"/>
<ellipse cx="2078.6" cy="820.0" rx="10.0" ry="10.0" fill="#5c5c5c" filter="url(#f111)"/>
<path d="M1338.7 519.7H2242.4V1020H1338.7ZM1436.0 596.0H2150.0A6 6 0 0 1 2156.0 602.0V994.0A6 6 0 0 1 2150.0 1000.0H1436.0A6 6 0 0 1 1430.0 994.0V602.0A6 6 0 0 1 1436.0 596.0Z" fill-rule="evenodd" fill="#808080" filter="url(#f112)"/>
<path d="M1338.7 519.7H2242.4V1020H1338.7ZM1431.0 592.0H2153.0A8 8 0 0 1 2161.0 600.0V992.0A8 8 0 0 1 2153.0 1000.0H1431.0A8 8 0 0 1 1423.0 992.0V600.0A8 8 0 0 1 1431.0 592.0Z" fill-rule="evenodd" fill="#6e6e6e" filter="url(#f113)"/>
<path d="M1338.7 519.7H2242.4V1020H1338.7ZM1428.0 589.0H2156.0A10 10 0 0 1 2166.0 599.0V990.0A10 10 0 0 1 2156.0 1000.0H1428.0A10 10 0 0 1 1418.0 990.0V599.0A10 10 0 0 1 1428.0 589.0Z" fill-rule="evenodd" fill="#4c4c4c" filter="url(#f113)"/>
<path d="M1338.7 519.7H2242.4V1020H1338.7ZM1426.0 586.0H2160.0A12 12 0 0 1 2172.0 598.0V988.0A12 12 0 0 1 2160.0 1000.0H1426.0A12 12 0 0 1 1414.0 988.0V598.0A12 12 0 0 1 1426.0 586.0Z" fill-rule="evenodd" fill="#333333" filter="url(#f113)"/>
<path d="M1338.7 519.7H2242.4V1020H1338.7ZM1419.0 583.0H2179.0A13 13 0 0 1 2192.0 596.0V987.0A13 13 0 0 1 2179.0 1000.0H1419.0A13 13 0 0 1 1406.0 987.0V596.0A13 13 0 0 1 1419.0 583.0Z" fill-rule="evenodd" fill="#1c1c1c" filter="url(#f113)"/>
<ellipse cx="1401.0" cy="583.0" rx="10.0" ry="8.0" fill="#0d0d0d" filter="url(#f114)"/>
<ellipse cx="2180.0" cy="583.0" rx="8.0" ry="6.0" fill="#141414" filter="url(#f115)"/>
</g>
<rect x="1665.3" y="637.5" width="2.9" height="2.9" fill="#f2c8d0" opacity="0.39"/>
<rect x="1693.3" y="635.3" width="1.7" height="1.7" fill="#f2c8d0" opacity="0.26"/>
<rect x="1758.2" y="635.5" width="2.4" height="2.4" fill="#f2c8d0" opacity="0.46"/>
<rect x="1659.0" y="632.6" width="2.7" height="2.7" fill="#f2c8d0" opacity="0.39"/>
<rect x="1743.7" y="633.9" width="1.5" height="1.5" fill="#f2c8d0" opacity="0.52"/>
<rect x="1688.9" y="634.8" width="1.7" height="1.7" fill="#f2c8d0" opacity="0.50"/>
<rect x="1536.2" y="633.7" width="3.2" height="3.2" fill="#f2c8d0" opacity="0.21"/>
<rect x="1555.3" y="631.9" width="2.5" height="2.5" fill="#f2c8d0" opacity="0.51"/>
<rect x="1584.8" y="627.2" width="1.6" height="1.6" fill="#f2c8d0" opacity="0.50"/>
<rect x="1733.4" y="630.6" width="2.8" height="2.8" fill="#f2c8d0" opacity="0.53"/>
<rect x="1634.4" y="634.5" width="1.8" height="1.8" fill="#f2c8d0" opacity="0.26"/>
<rect x="1632.7" y="627.2" width="3.2" height="3.2" fill="#f2c8d0" opacity="0.51"/>
<rect x="1658.2" y="632.2" width="1.8" height="1.8" fill="#f2c8d0" opacity="0.45"/>
<rect x="1531.3" y="630.5" width="1.6" height="1.6" fill="#f2c8d0" opacity="0.47"/>
<rect x="1638.0" y="627.5" width="3.3" height="3.3" fill="#f2c8d0" opacity="0.22"/>
<rect x="1549.7" y="632.5" width="1.6" height="1.6" fill="#f2c8d0" opacity="0.24"/>
<rect x="1617.6" y="637.5" width="1.6" height="1.6" fill="#f2c8d0" opacity="0.33"/>
<rect x="1753.1" y="633.0" width="2.7" height="2.7" fill="#f2c8d0" opacity="0.28"/>
<rect x="1572.1" y="627.2" width="2.5" height="2.5" fill="#f2c8d0" opacity="0.30"/>
<rect x="1636.0" y="631.8" width="3.3" height="3.3" fill="#f2c8d0" opacity="0.57"/>
<rect x="1739.9" y="633.4" width="2.4" height="2.4" fill="#f2c8d0" opacity="0.37"/>
<rect x="1602.0" y="630.9" width="2.1" height="2.1" fill="#f2c8d0" opacity="0.47"/>
<rect x="1611.4" y="632.5" width="1.7" height="1.7" fill="#f2c8d0" opacity="0.51"/>
<rect x="1744.3" y="634.2" width="2.8" height="2.8" fill="#f2c8d0" opacity="0.35"/>
<rect x="1565.8" y="633.9" width="3.0" height="3.0" fill="#f2c8d0" opacity="0.24"/>
<rect x="1730.1" y="634.3" width="1.8" height="1.8" fill="#f2c8d0" opacity="0.47"/>
<rect x="1558.2" y="629.7" width="2.3" height="2.3" fill="#f2c8d0" opacity="0.37"/>
<rect x="1592.7" y="626.0" width="1.7" height="1.7" fill="#f2c8d0" opacity="0.35"/>
<rect x="1587.9" y="628.0" width="2.3" height="2.3" fill="#f2c8d0" opacity="0.41"/>
<rect x="1576.8" y="633.1" width="3.4" height="3.4" fill="#f2c8d0" opacity="0.25"/>
<rect x="1738.8" y="632.7" width="1.7" height="1.7" fill="#f2c8d0" opacity="0.31"/>
<rect x="1735.5" y="637.3" width="1.9" height="1.9" fill="#f2c8d0" opacity="0.50"/>
<rect x="1713.1" y="634.3" width="3.4" height="3.4" fill="#f2c8d0" opacity="0.36"/>
<rect x="1639.5" y="628.8" width="2.5" height="2.5" fill="#f2c8d0" opacity="0.40"/>
<rect x="1585.0" y="631.1" width="1.9" height="1.9" fill="#f2c8d0" opacity="0.56"/>
<rect x="1569.9" y="636.7" width="1.5" height="1.5" fill="#f2c8d0" opacity="0.24"/>
<rect x="1567.7" y="630.5" width="2.0" height="2.0" fill="#f2c8d0" opacity="0.25"/>
<rect x="1503.0" y="630.8" width="3.5" height="3.5" fill="#f2c8d0" opacity="0.37"/>
<rect x="1738.0" y="631.4" width="2.9" height="2.9" fill="#f2c8d0" opacity="0.58"/>
<rect x="1752.0" y="631.5" width="2.0" height="2.0" fill="#f2c8d0" opacity="0.27"/>
<rect x="1742.4" y="629.8" width="1.9" height="1.9" fill="#f2c8d0" opacity="0.38"/>
<rect x="1674.8" y="629.7" width="2.0" height="2.0" fill="#f2c8d0" opacity="0.52"/>
<rect x="1758.6" y="632.5" width="2.5" height="2.5" fill="#f2c8d0" opacity="0.59"/>
<rect x="1633.7" y="632.1" width="2.0" height="2.0" fill="#f2c8d0" opacity="0.38"/>
<rect x="1671.2" y="629.7" width="2.6" height="2.6" fill="#f2c8d0" opacity="0.56"/>
<rect x="1752.3" y="628.9" width="2.1" height="2.1" fill="#f2c8d0" opacity="0.29"/>
<rect x="1559.7" y="633.7" width="3.0" height="3.0" fill="#f2c8d0" opacity="0.26"/>
<rect x="1757.3" y="637.2" width="3.5" height="3.5" fill="#f2c8d0" opacity="0.53"/>
<rect x="1503.7" y="628.2" width="2.4" height="2.4" fill="#f2c8d0" opacity="0.22"/>
<rect x="1673.0" y="628.1" width="2.3" height="2.3" fill="#f2c8d0" opacity="0.40"/>
<rect x="1752.4" y="628.7" width="1.6" height="1.6" fill="#f2c8d0" opacity="0.27"/>
<rect x="1569.9" y="629.6" width="1.5" height="1.5" fill="#f2c8d0" opacity="0.35"/>
<rect x="1585.5" y="634.3" width="1.6" height="1.6" fill="#f2c8d0" opacity="0.55"/>
<rect x="1556.6" y="631.8" width="1.9" height="1.9" fill="#f2c8d0" opacity="0.33"/>
<rect x="1521.8" y="631.3" width="2.0" height="2.0" fill="#f2c8d0" opacity="0.51"/>
<rect x="1523.6" y="635.8" width="3.1" height="3.1" fill="#f2c8d0" opacity="0.26"/>
<rect x="1652.6" y="630.2" width="2.8" height="2.8" fill="#f2c8d0" opacity="0.23"/>
<rect x="1749.0" y="633.4" width="3.2" height="3.2" fill="#f2c8d0" opacity="0.26"/>
<rect x="1732.1" y="632.8" width="3.0" height="3.0" fill="#f2c8d0" opacity="0.49"/>
<rect x="1628.5" y="628.5" width="2.1" height="2.1" fill="#f2c8d0" opacity="0.45"/>
<rect x="1537.6" y="633.9" width="2.5" height="2.5" fill="#f2c8d0" opacity="0.37"/>
<rect x="1682.3" y="628.3" width="2.5" height="2.5" fill="#f2c8d0" opacity="0.56"/>
<rect x="1695.7" y="627.6" width="1.5" height="1.5" fill="#f2c8d0" opacity="0.47"/>
<rect x="1707.5" y="630.0" width="2.9" height="2.9" fill="#f2c8d0" opacity="0.58"/>
<rect x="1667.2" y="632.7" width="2.8" height="2.8" fill="#f2c8d0" opacity="0.58"/>
<rect x="1597.9" y="632.4" width="2.4" height="2.4" fill="#f2c8d0" opacity="0.22"/>
<rect x="1504.9" y="630.1" width="2.0" height="2.0" fill="#f2c8d0" opacity="0.38"/>
<rect x="1518.2" y="631.6" width="3.4" height="3.4" fill="#f2c8d0" opacity="0.56"/>
<rect x="1523.9" y="627.7" width="2.4" height="2.4" fill="#f2c8d0" opacity="0.52"/>
<rect x="1720.0" y="631.3" width="2.0" height="2.0" fill="#f2c8d0" opacity="0.50"/>
<rect x="1560.0" y="630.3" width="3.2" height="3.2" fill="#f2c8d0" opacity="0.23"/>
<rect x="1736.7" y="629.6" width="2.1" height="2.1" fill="#f2c8d0" opacity="0.22"/>
<rect x="1664.5" y="633.1" width="2.2" height="2.2" fill="#f2c8d0" opacity="0.46"/>
<rect x="1680.2" y="635.4" width="2.7" height="2.7" fill="#f2c8d0" opacity="0.25"/>
<rect x="1625.4" y="626.0" width="1.7" height="1.7" fill="#f2c8d0" opacity="0.29"/>
<rect x="1627.3" y="632.6" width="2.9" height="2.9" fill="#f2c8d0" opacity="0.31"/>
<rect x="1621.1" y="632.9" width="2.6" height="2.6" fill="#f2c8d0" opacity="0.32"/>
<rect x="1522.3" y="626.0" width="2.4" height="2.4" fill="#f2c8d0" opacity="0.32"/>
<rect x="1519.9" y="626.0" width="3.5" height="3.5" fill="#f2c8d0" opacity="0.35"/>
<rect x="1738.3" y="631.6" width="3.4" height="3.4" fill="#f2c8d0" opacity="0.23"/>
<rect x="1523.5" y="632.0" width="2.2" height="2.2" fill="#f2c8d0" opacity="0.44"/>
<rect x="1664.2" y="629.9" width="2.1" height="2.1" fill="#f2c8d0" opacity="0.25"/>
<rect x="1594.9" y="626.6" width="2.3" height="2.3" fill="#f2c8d0" opacity="0.26"/>
<rect x="1747.0" y="632.1" width="2.9" height="2.9" fill="#f2c8d0" opacity="0.36"/>
<rect x="1689.1" y="629.8" width="1.7" height="1.7" fill="#f2c8d0" opacity="0.33"/>
<rect x="1584.4" y="633.3" width="2.2" height="2.2" fill="#f2c8d0" opacity="0.36"/>
<rect x="1744.4" y="632.1" width="3.0" height="3.0" fill="#f2c8d0" opacity="0.30"/>
<rect x="1516.9" y="632.4" width="2.3" height="2.3" fill="#f2c8d0" opacity="0.55"/>
<rect x="1519.9" y="636.0" width="3.2" height="3.2" fill="#f2c8d0" opacity="0.31"/>
<rect x="1513.4" y="630.0" width="2.8" height="2.8" fill="#f2c8d0" opacity="0.45"/>
<rect x="1538.7" y="634.8" width="2.1" height="2.1" fill="#f2c8d0" opacity="0.51"/>
<rect x="1704.1" y="631.5" width="2.4" height="2.4" fill="#f2c8d0" opacity="0.21"/>
<rect x="1698.0" y="627.6" width="2.6" height="2.6" fill="#f2c8d0" opacity="0.28"/>
<rect x="1520.9" y="635.2" width="3.4" height="3.4" fill="#f2c8d0" opacity="0.36"/>
<rect x="1659.9" y="635.4" width="2.5" height="2.5" fill="#f2c8d0" opacity="0.56"/>
<rect x="1643.0" y="636.1" width="1.8" height="1.8" fill="#f2c8d0" opacity="0.37"/>
<rect x="1573.3" y="631.8" width="2.8" height="2.8" fill="#f2c8d0" opacity="0.36"/>
<rect x="1562.1" y="636.3" width="2.5" height="2.5" fill="#f2c8d0" opacity="0.47"/>
<rect x="1531.1" y="631.4" width="2.5" height="2.5" fill="#f2c8d0" opacity="0.52"/>
<rect x="1643.1" y="631.2" width="2.4" height="2.4" fill="#f2c8d0" opacity="0.33"/>
<rect x="1697.4" y="629.0" width="2.0" height="2.0" fill="#f2c8d0" opacity="0.27"/>
<rect x="1644.5" y="633.5" width="2.1" height="2.1" fill="#f2c8d0" opacity="0.35"/>
<rect x="1710.4" y="632.2" width="3.2" height="3.2" fill="#f2c8d0" opacity="0.35"/>
<rect x="1693.9" y="632.5" width="1.9" height="1.9" fill="#f2c8d0" opacity="0.31"/>
<rect x="1695.5" y="628.6" width="2.2" height="2.2" fill="#f2c8d0" opacity="0.47"/>
<rect x="1637.6" y="632.0" width="3.1" height="3.1" fill="#f2c8d0" opacity="0.54"/>
<rect x="1524.1" y="634.1" width="2.8" height="2.8" fill="#f2c8d0" opacity="0.37"/>
<rect x="1581.1" y="630.4" width="3.1" height="3.1" fill="#f2c8d0" opacity="0.59"/>
<rect x="1533.1" y="628.0" width="3.1" height="3.1" fill="#f2c8d0" opacity="0.59"/>
<rect x="1627.4" y="634.0" width="1.6" height="1.6" fill="#f2c8d0" opacity="0.57"/>
<rect x="1741.3" y="629.1" width="2.4" height="2.4" fill="#f2c8d0" opacity="0.51"/>
<rect x="1558.2" y="631.5" width="1.8" height="1.8" fill="#f2c8d0" opacity="0.59"/>
<rect x="1528.3" y="633.9" width="3.2" height="3.2" fill="#f2c8d0" opacity="0.56"/>
<rect x="1522.1" y="628.3" width="3.1" height="3.1" fill="#f2c8d0" opacity="0.20"/>
<rect x="1532.7" y="631.3" width="2.9" height="2.9" fill="#f2c8d0" opacity="0.58"/>
<rect x="1662.9" y="631.7" width="2.6" height="2.6" fill="#f2c8d0" opacity="0.37"/>
<rect x="1698.6" y="633.8" width="3.4" height="3.4" fill="#f2c8d0" opacity="0.28"/>
<rect x="1567.8" y="633.3" width="3.1" height="3.1" fill="#f2c8d0" opacity="0.20"/>
<rect x="1639.7" y="634.1" width="2.1" height="2.1" fill="#f2c8d0" opacity="0.54"/>
<rect x="1563.0" y="632.0" width="2.6" height="2.6" fill="#f2c8d0" opacity="0.42"/>
<rect x="1507.6" y="628.7" width="1.6" height="1.6" fill="#f2c8d0" opacity="0.28"/>
<rect x="1730.1" y="634.0" width="2.8" height="2.8" fill="#f2c8d0" opacity="0.23"/>
<rect x="1559.2" y="629.7" width="2.5" height="2.5" fill="#f2c8d0" opacity="0.48"/>
<rect x="1686.8" y="633.2" width="2.2" height="2.2" fill="#f2c8d0" opacity="0.36"/>
<rect x="1501.8" y="630.7" width="1.6" height="1.6" fill="#f2c8d0" opacity="0.40"/>
<rect x="1552.1" y="636.9" width="3.0" height="3.0" fill="#f2c8d0" opacity="0.28"/>
<rect x="1620.9" y="631.5" width="1.7" height="1.7" fill="#f2c8d0" opacity="0.45"/>
<rect x="1658.6" y="637.5" width="3.3" height="3.3" fill="#f2c8d0" opacity="0.39"/>
<rect x="1736.7" y="635.3" width="3.3" height="3.3" fill="#f2c8d0" opacity="0.22"/>
<rect x="1506.1" y="633.2" width="2.7" height="2.7" fill="#f2c8d0" opacity="0.37"/>
<rect x="1684.6" y="633.2" width="2.9" height="2.9" fill="#f2c8d0" opacity="0.33"/>
<rect x="1529.4" y="634.6" width="1.7" height="1.7" fill="#f2c8d0" opacity="0.27"/>
<rect x="1549.6" y="630.1" width="2.4" height="2.4" fill="#f2c8d0" opacity="0.32"/>
<rect x="1688.6" y="629.4" width="3.2" height="3.2" fill="#f2c8d0" opacity="0.59"/>
<rect x="1615.0" y="632.8" width="1.7" height="1.7" fill="#f2c8d0" opacity="0.37"/>
<rect x="1730.1" y="632.7" width="2.6" height="2.6" fill="#f2c8d0" opacity="0.50"/>
<rect x="1598.8" y="632.3" width="3.1" height="3.1" fill="#f2c8d0" opacity="0.24"/>
<rect x="1683.4" y="629.7" width="1.9" height="1.9" fill="#f2c8d0" opacity="0.42"/>
<rect x="1616.1" y="630.1" width="2.4" height="2.4" fill="#f2c8d0" opacity="0.45"/>
<rect x="1564.5" y="635.9" width="2.8" height="2.8" fill="#f2c8d0" opacity="0.36"/>
<rect x="1597.6" y="627.4" width="1.6" height="1.6" fill="#f2c8d0" opacity="0.28"/>
<rect x="1516.3" y="633.1" width="2.7" height="2.7" fill="#f2c8d0" opacity="0.35"/>
<rect x="1587.1" y="632.8" width="3.0" height="3.0" fill="#f2c8d0" opacity="0.48"/>
<rect x="1740.3" y="631.8" width="2.1" height="2.1" fill="#f2c8d0" opacity="0.49"/>
<rect x="1654.8" y="634.2" width="1.6" height="1.6" fill="#f2c8d0" opacity="0.53"/>
<rect x="1527.9" y="626.0" width="2.9" height="2.9" fill="#f2c8d0" opacity="0.39"/>
<rect x="1701.9" y="633.4" width="3.1" height="3.1" fill="#f2c8d0" opacity="0.25"/>
<rect x="1629.1" y="626.3" width="1.5" height="1.5" fill="#f2c8d0" opacity="0.57"/>
<rect x="1578.9" y="631.5" width="2.0" height="2.0" fill="#f2c8d0" opacity="0.54"/>
<rect x="1619.8" y="630.6" width="3.1" height="3.1" fill="#f2c8d0" opacity="0.44"/>
<rect x="1633.1" y="630.8" width="2.3" height="2.3" fill="#f2c8d0" opacity="0.46"/>
<rect x="1625.2" y="633.0" width="2.6" height="2.6" fill="#f2c8d0" opacity="0.26"/>
<rect x="1610.9" y="632.8" width="2.7" height="2.7" fill="#f2c8d0" opacity="0.28"/>
<rect x="1609.5" y="632.6" width="3.5" height="3.5" fill="#f2c8d0" opacity="0.59"/>
<rect x="1545.0" y="634.0" width="3.3" height="3.3" fill="#f2c8d0" opacity="0.29"/>
<rect x="1640.0" y="634.2" width="3.0" height="3.0" fill="#f2c8d0" opacity="0.50"/>
<rect x="1702.7" y="631.4" width="2.0" height="2.0" fill="#f2c8d0" opacity="0.30"/>
<rect x="1567.7" y="634.1" width="2.4" height="2.4" fill="#f2c8d0" opacity="0.27"/>
<rect x="1561.2" y="630.9" width="1.9" height="1.9" fill="#f2c8d0" opacity="0.23"/>
<rect x="1565.4" y="637.6" width="2.0" height="2.0" fill="#f2c8d0" opacity="0.41"/>
<rect x="1896.9" y="634.4" width="1.6" height="1.6" fill="#f2c8d0" opacity="0.20"/>
<rect x="1938.9" y="633.7" width="2.0" height="2.0" fill="#f2c8d0" opacity="0.38"/>
<rect x="1847.3" y="633.4" width="1.6" height="1.6" fill="#f2c8d0" opacity="0.44"/>
<rect x="1929.0" y="630.7" width="1.9" height="1.9" fill="#f2c8d0" opacity="0.23"/>
<rect x="1872.3" y="633.6" width="3.0" height="3.0" fill="#f2c8d0" opacity="0.47"/>
<rect x="1781.1" y="635.2" width="2.8" height="2.8" fill="#f2c8d0" opacity="0.48"/>
<rect x="1842.9" y="634.3" width="1.6" height="1.6" fill="#f2c8d0" opacity="0.60"/>
<rect x="1786.9" y="632.6" width="3.0" height="3.0" fill="#f2c8d0" opacity="0.57"/>
<rect x="1926.7" y="633.1" width="2.2" height="2.2" fill="#f2c8d0" opacity="0.45"/>
<rect x="1794.0" y="629.5" width="1.6" height="1.6" fill="#f2c8d0" opacity="0.40"/>
<rect x="1867.0" y="628.1" width="2.8" height="2.8" fill="#f2c8d0" opacity="0.26"/>
<rect x="1876.1" y="634.6" width="2.8" height="2.8" fill="#f2c8d0" opacity="0.36"/>
<rect x="1828.8" y="635.9" width="2.3" height="2.3" fill="#f2c8d0" opacity="0.22"/>
<rect x="1914.2" y="631.7" width="3.3" height="3.3" fill="#f2c8d0" opacity="0.37"/>
<rect x="1783.3" y="632.5" width="2.8" height="2.8" fill="#f2c8d0" opacity="0.36"/>
<rect x="1852.9" y="627.3" width="3.4" height="3.4" fill="#f2c8d0" opacity="0.37"/>
<rect x="1808.2" y="632.9" width="2.7" height="2.7" fill="#f2c8d0" opacity="0.35"/>
<rect x="1919.1" y="632.8" width="1.8" height="1.8" fill="#f2c8d0" opacity="0.22"/>
<rect x="1805.6" y="632.9" width="2.6" height="2.6" fill="#f2c8d0" opacity="0.57"/>
<rect x="1912.7" y="629.5" width="1.8" height="1.8" fill="#f2c8d0" opacity="0.34"/>
<rect x="1809.1" y="632.5" width="2.3" height="2.3" fill="#f2c8d0" opacity="0.50"/>
<rect x="1922.6" y="632.9" width="3.1" height="3.1" fill="#f2c8d0" opacity="0.32"/>
<rect x="1930.7" y="637.6" width="2.1" height="2.1" fill="#f2c8d0" opacity="0.44"/>
<rect x="1894.5" y="633.6" width="1.7" height="1.7" fill="#f2c8d0" opacity="0.48"/>
<rect x="1903.9" y="634.9" width="3.2" height="3.2" fill="#f2c8d0" opacity="0.45"/>
<rect x="1890.7" y="629.6" width="1.9" height="1.9" fill="#f2c8d0" opacity="0.39"/>
<rect x="1881.8" y="638.0" width="1.8" height="1.8" fill="#f2c8d0" opacity="0.34"/>
<rect x="1806.9" y="633.6" width="3.4" height="3.4" fill="#f2c8d0" opacity="0.53"/>
<rect x="1814.7" y="635.8" width="2.8" height="2.8" fill="#f2c8d0" opacity="0.47"/>
<rect x="1838.4" y="628.6" width="2.3" height="2.3" fill="#f2c8d0" opacity="0.38"/>
<rect x="1932.8" y="632.7" width="2.1" height="2.1" fill="#f2c8d0" opacity="0.30"/>
<rect x="1850.1" y="628.2" width="2.2" height="2.2" fill="#f2c8d0" opacity="0.40"/>
<rect x="1812.2" y="638.0" width="2.4" height="2.4" fill="#f2c8d0" opacity="0.38"/>
<rect x="1891.3" y="632.2" width="3.1" height="3.1" fill="#f2c8d0" opacity="0.53"/>
<rect x="1925.9" y="631.2" width="2.2" height="2.2" fill="#f2c8d0" opacity="0.35"/>
<rect x="1924.4" y="632.6" width="2.5" height="2.5" fill="#f2c8d0" opacity="0.46"/>
<rect x="1787.3" y="636.1" width="2.1" height="2.1" fill="#f2c8d0" opacity="0.49"/>
<rect x="1794.4" y="636.4" width="3.0" height="3.0" fill="#f2c8d0" opacity="0.56"/>
<rect x="1897.5" y="632.1" width="1.6" height="1.6" fill="#f2c8d0" opacity="0.45"/>
<rect x="1904.7" y="631.4" width="1.7" height="1.7" fill="#f2c8d0" opacity="0.25"/>
<rect x="1939.4" y="630.9" width="3.1" height="3.1" fill="#f2c8d0" opacity="0.47"/>
<rect x="1909.8" y="636.7" width="1.9" height="1.9" fill="#f2c8d0" opacity="0.53"/>
<rect x="1889.9" y="632.0" width="2.7" height="2.7" fill="#f2c8d0" opacity="0.56"/>
<rect x="1862.2" y="634.3" width="2.0" height="2.0" fill="#f2c8d0" opacity="0.59"/>
<rect x="1866.4" y="628.9" width="2.0" height="2.0" fill="#f2c8d0" opacity="0.35"/>
<rect x="1815.8" y="630.0" width="2.3" height="2.3" fill="#f2c8d0" opacity="0.45"/>
<rect x="1830.1" y="630.8" width="3.1" height="3.1" fill="#f2c8d0" opacity="0.31"/>
<rect x="1918.3" y="634.3" width="1.6" height="1.6" fill="#f2c8d0" opacity="0.54"/>
<rect x="1953.9" y="628.9" width="2.9" height="2.9" fill="#f2c8d0" opacity="0.56"/>
<rect x="1825.4" y="632.9" width="2.6" height="2.6" fill="#f2c8d0" opacity="0.54"/>
<rect x="1912.8" y="630.2" width="2.2" height="2.2" fill="#f2c8d0" opacity="0.26"/>
<rect x="1839.5" y="633.9" width="1.7" height="1.7" fill="#f2c8d0" opacity="0.29"/>
<rect x="1890.8" y="634.1" width="2.5" height="2.5" fill="#f2c8d0" opacity="0.32"/>
<rect x="1953.9" y="631.4" width="3.2" height="3.2" fill="#f2c8d0" opacity="0.57"/>
<rect x="1941.2" y="631.5" width="1.9" height="1.9" fill="#f2c8d0" opacity="0.32"/>
<rect x="1892.6" y="627.6" width="2.3" height="2.3" fill="#f2c8d0" opacity="0.35"/>
<rect x="1788.6" y="628.4" width="1.6" height="1.6" fill="#f2c8d0" opacity="0.22"/>
<rect x="1882.1" y="632.3" width="2.1" height="2.1" fill="#f2c8d0" opacity="0.41"/>
<rect x="1876.1" y="630.1" width="1.8" height="1.8" fill="#f2c8d0" opacity="0.35"/>
<rect x="1929.1" y="633.2" width="1.8" height="1.8" fill="#f2c8d0" opacity="0.21"/>
<rect x="1924.3" y="631.2" width="1.6" height="1.6" fill="#f2c8d0" opacity="0.26"/>
<rect x="1899.8" y="629.2" width="2.0" height="2.0" fill="#f2c8d0" opacity="0.52"/>
<rect x="1954.1" y="636.6" width="3.3" height="3.3" fill="#f2c8d0" opacity="0.44"/>
<rect x="1884.1" y="633.7" width="2.7" height="2.7" fill="#f2c8d0" opacity="0.41"/>
<rect x="1868.7" y="632.0" width="1.6" height="1.6" fill="#f2c8d0" opacity="0.21"/>
<rect x="1813.4" y="632.1" width="1.8" height="1.8" fill="#f2c8d0" opacity="0.56"/>
<rect x="1798.9" y="629.1" width="1.9" height="1.9" fill="#f2c8d0" opacity="0.37"/>
<rect x="1873.3" y="629.5" width="2.8" height="2.8" fill="#f2c8d0" opacity="0.46"/>
<rect x="1854.7" y="629.6" width="1.6" height="1.6" fill="#f2c8d0" opacity="0.45"/>
<rect x="1958.9" y="629.9" width="2.9" height="2.9" fill="#f2c8d0" opacity="0.39"/>
<rect x="1876.9" y="630.0" width="3.3" height="3.3" fill="#f2c8d0" opacity="0.23"/>
<rect x="1898.0" y="634.0" width="1.9" height="1.9" fill="#f2c8d0" opacity="0.60"/>
<rect x="1827.1" y="631.2" width="3.3" height="3.3" fill="#f2c8d0" opacity="0.57"/>
<rect x="1949.7" y="630.9" width="2.0" height="2.0" fill="#f2c8d0" opacity="0.22"/>
<rect x="1894.5" y="630.3" width="3.3" height="3.3" fill="#f2c8d0" opacity="0.59"/>
<rect x="1833.2" y="628.4" width="3.4" height="3.4" fill="#f2c8d0" opacity="0.56"/>
<rect x="1795.4" y="630.4" width="3.3" height="3.3" fill="#f2c8d0" opacity="0.54"/>
<rect x="1816.5" y="631.9" width="1.8" height="1.8" fill="#f2c8d0" opacity="0.57"/>
<rect x="1814.5" y="629.3" width="2.3" height="2.3" fill="#f2c8d0" opacity="0.54"/>
<rect x="1945.9" y="634.3" width="3.5" height="3.5" fill="#f2c8d0" opacity="0.54"/>
<rect x="1876.5" y="628.8" width="1.5" height="1.5" fill="#f2c8d0" opacity="0.21"/>
<rect x="1952.0" y="632.6" width="2.0" height="2.0" fill="#f2c8d0" opacity="0.55"/>
<rect x="1922.1" y="629.3" width="2.6" height="2.6" fill="#f2c8d0" opacity="0.27"/>
<rect x="1785.9" y="634.2" width="1.7" height="1.7" fill="#f2c8d0" opacity="0.45"/>
<rect x="1809.1" y="636.1" width="1.6" height="1.6" fill="#f2c8d0" opacity="0.26"/>
<rect x="1895.8" y="631.4" width="1.6" height="1.6" fill="#f2c8d0" opacity="0.23"/>
<rect x="1788.4" y="634.8" width="1.9" height="1.9" fill="#f2c8d0" opacity="0.58"/>
<rect x="1876.1" y="628.5" width="2.8" height="2.8" fill="#f2c8d0" opacity="0.55"/>
<rect x="1916.0" y="631.4" width="2.0" height="2.0" fill="#f2c8d0" opacity="0.28"/>
<rect x="1786.1" y="629.5" width="3.4" height="3.4" fill="#f2c8d0" opacity="0.56"/>
<rect x="1915.7" y="635.8" width="2.8" height="2.8" fill="#f2c8d0" opacity="0.39"/>
<rect x="1803.9" y="634.3" width="3.1" height="3.1" fill="#f2c8d0" opacity="0.46"/>
<rect x="1833.0" y="630.9" width="2.2" height="2.2" fill="#f2c8d0" opacity="0.57"/>
<rect x="1788.7" y="633.8" width="3.0" height="3.0" fill="#f2c8d0" opacity="0.56"/>
<rect x="1918.5" y="629.6" width="2.1" height="2.1" fill="#f2c8d0" opacity="0.50"/>
<rect x="1922.0" y="630.2" width="1.6" height="1.6" fill="#f2c8d0" opacity="0.41"/>
<rect x="1797.7" y="631.2" width="2.6" height="2.6" fill="#f2c8d0" opacity="0.49"/>
<rect x="1929.0" y="632.2" width="2.6" height="2.6" fill="#f2c8d0" opacity="0.31"/>
<rect x="1858.5" y="629.8" width="3.0" height="3.0" fill="#f2c8d0" opacity="0.22"/>
<rect x="1842.6" y="631.7" width="1.7" height="1.7" fill="#f2c8d0" opacity="0.48"/>
<rect x="1928.6" y="635.5" width="3.4" height="3.4" fill="#f2c8d0" opacity="0.41"/>
<rect x="1884.0" y="631.3" width="1.8" height="1.8" fill="#f2c8d0" opacity="0.53"/>
<rect x="1948.9" y="632.2" width="3.4" height="3.4" fill="#f2c8d0" opacity="0.51"/>
<rect x="1868.3" y="633.6" width="3.5" height="3.5" fill="#f2c8d0" opacity="0.42"/>
<rect x="1798.8" y="631.5" width="3.4" height="3.4" fill="#f2c8d0" opacity="0.56"/>
<rect x="1914.1" y="633.0" width="2.3" height="2.3" fill="#f2c8d0" opacity="0.46"/>
<rect x="1847.0" y="631.1" width="2.6" height="2.6" fill="#f2c8d0" opacity="0.27"/>
<rect x="1956.8" y="634.6" width="2.8" height="2.8" fill="#f2c8d0" opacity="0.58"/>
<rect x="1802.8" y="628.6" width="2.7" height="2.7" fill="#f2c8d0" opacity="0.21"/>
<rect x="1884.7" y="629.8" width="2.5" height="2.5" fill="#f2c8d0" opacity="0.55"/>
<rect x="1624.1" y="865.9" width="2.4" height="2.4" fill="#f2c8d0" opacity="0.64"/>
<rect x="1562.3" y="866.6" width="2.0" height="2.0" fill="#f2c8d0" opacity="0.47"/>
<rect x="1685.7" y="866.5" width="2.0" height="2.0" fill="#f2c8d0" opacity="0.68"/>
<rect x="1744.5" y="865.5" width="2.7" height="2.7" fill="#f2c8d0" opacity="0.66"/>
<rect x="1791.9" y="866.7" width="2.2" height="2.2" fill="#f2c8d0" opacity="0.42"/>
<rect x="1785.9" y="865.2" width="2.0" height="2.0" fill="#f2c8d0" opacity="0.78"/>
<rect x="1798.4" y="868.0" width="1.9" height="1.9" fill="#f2c8d0" opacity="0.38"/>
<rect x="1527.5" y="868.7" width="2.1" height="2.1" fill="#f2c8d0" opacity="0.45"/>
<rect x="1567.6" y="869.2" width="2.1" height="2.1" fill="#f2c8d0" opacity="0.74"/>
<rect x="1628.5" y="868.8" width="1.5" height="1.5" fill="#f2c8d0" opacity="0.73"/>
<rect x="1619.7" y="867.6" width="2.1" height="2.1" fill="#f2c8d0" opacity="0.31"/>
<rect x="1562.3" y="870.0" width="3.0" height="3.0" fill="#f2c8d0" opacity="0.30"/>
<rect x="1557.5" y="868.2" width="2.7" height="2.7" fill="#f2c8d0" opacity="0.62"/>
<rect x="1750.7" y="865.4" width="2.8" height="2.8" fill="#f2c8d0" opacity="0.63"/>
<rect x="1760.8" y="865.9" width="2.0" height="2.0" fill="#f2c8d0" opacity="0.39"/>
<rect x="1519.7" y="865.6" width="2.4" height="2.4" fill="#f2c8d0" opacity="0.43"/>
<rect x="1704.2" y="867.8" width="2.3" height="2.3" fill="#f2c8d0" opacity="0.66"/>
<rect x="1530.1" y="866.4" width="3.2" height="3.2" fill="#f2c8d0" opacity="0.54"/>
<rect x="1486.3" y="868.0" width="2.8" height="2.8" fill="#f2c8d0" opacity="0.74"/>
<rect x="1766.2" y="865.8" width="2.2" height="2.2" fill="#f2c8d0" opacity="0.31"/>
<rect x="1746.2" y="867.5" width="2.0" height="2.0" fill="#f2c8d0" opacity="0.41"/>
<rect x="1709.2" y="866.7" width="3.4" height="3.4" fill="#f2c8d0" opacity="0.40"/>
<rect x="1591.4" y="867.8" width="1.9" height="1.9" fill="#f2c8d0" opacity="0.54"/>
<rect x="1485.2" y="865.8" width="3.1" height="3.1" fill="#f2c8d0" opacity="0.48"/>
<rect x="1589.7" y="866.9" width="3.5" height="3.5" fill="#f2c8d0" opacity="0.39"/>
<rect x="1644.4" y="865.5" width="3.4" height="3.4" fill="#f2c8d0" opacity="0.66"/>
<rect x="1676.5" y="866.3" width="2.3" height="2.3" fill="#f2c8d0" opacity="0.33"/>
<rect x="1504.1" y="866.2" width="3.3" height="3.3" fill="#f2c8d0" opacity="0.61"/>
<rect x="1696.0" y="866.4" width="2.1" height="2.1" fill="#f2c8d0" opacity="0.50"/>
<rect x="1785.1" y="866.7" width="3.4" height="3.4" fill="#f2c8d0" opacity="0.80"/>
<rect x="1787.5" y="866.2" width="3.4" height="3.4" fill="#f2c8d0" opacity="0.33"/>
<rect x="1735.5" y="867.2" width="1.9" height="1.9" fill="#f2c8d0" opacity="0.62"/>
<rect x="1710.6" y="867.3" width="2.8" height="2.8" fill="#f2c8d0" opacity="0.72"/>
<rect x="1734.5" y="866.3" width="2.3" height="2.3" fill="#f2c8d0" opacity="0.80"/>
<rect x="1723.2" y="865.6" width="2.4" height="2.4" fill="#f2c8d0" opacity="0.69"/>
<rect x="1553.7" y="865.1" width="2.9" height="2.9" fill="#f2c8d0" opacity="0.64"/>
<rect x="1794.5" y="866.3" width="3.1" height="3.1" fill="#f2c8d0" opacity="0.70"/>
<rect x="1594.6" y="865.6" width="2.8" height="2.8" fill="#f2c8d0" opacity="0.46"/>
<rect x="1635.2" y="866.6" width="3.3" height="3.3" fill="#f2c8d0" opacity="0.38"/>
<rect x="1577.0" y="866.6" width="2.3" height="2.3" fill="#f2c8d0" opacity="0.34"/>
<rect x="1660.7" y="865.6" width="2.6" height="2.6" fill="#f2c8d0" opacity="0.47"/>
<rect x="1666.4" y="869.8" width="2.8" height="2.8" fill="#f2c8d0" opacity="0.40"/>
<rect x="1503.0" y="866.5" width="2.7" height="2.7" fill="#f2c8d0" opacity="0.73"/>
<rect x="1539.4" y="868.7" width="2.4" height="2.4" fill="#f2c8d0" opacity="0.69"/>
<rect x="1546.7" y="865.7" width="2.7" height="2.7" fill="#f2c8d0" opacity="0.64"/>
<rect x="1792.7" y="867.9" width="1.7" height="1.7" fill="#f2c8d0" opacity="0.75"/>
<rect x="1655.5" y="866.3" width="2.5" height="2.5" fill="#f2c8d0" opacity="0.41"/>
<rect x="1505.2" y="866.2" width="3.2" height="3.2" fill="#f2c8d0" opacity="0.64"/>
<rect x="1517.4" y="868.0" width="3.2" height="3.2" fill="#f2c8d0" opacity="0.54"/>
<rect x="1658.3" y="867.9" width="2.5" height="2.5" fill="#f2c8d0" opacity="0.75"/>
<rect x="1704.1" y="867.0" width="2.7" height="2.7" fill="#f2c8d0" opacity="0.67"/>
<rect x="1531.3" y="867.8" width="2.1" height="2.1" fill="#f2c8d0" opacity="0.65"/>
<rect x="1639.2" y="866.6" width="2.4" height="2.4" fill="#f2c8d0" opacity="0.80"/>
<rect x="1696.3" y="868.4" width="1.9" height="1.9" fill="#f2c8d0" opacity="0.48"/>
<rect x="1686.9" y="867.4" width="3.0" height="3.0" fill="#f2c8d0" opacity="0.80"/>
<rect x="1738.8" y="867.1" width="1.7" height="1.7" fill="#f2c8d0" opacity="0.54"/>
<rect x="1722.3" y="867.6" width="2.3" height="2.3" fill="#f2c8d0" opacity="0.36"/>
<rect x="1510.2" y="867.7" width="2.8" height="2.8" fill="#f2c8d0" opacity="0.47"/>
<rect x="1729.1" y="864.3" width="2.1" height="2.1" fill="#f2c8d0" opacity="0.47"/>
<rect x="1560.5" y="866.0" width="1.6" height="1.6" fill="#f2c8d0" opacity="0.44"/>
<rect x="1593.7" y="865.8" width="3.5" height="3.5" fill="#f2c8d0" opacity="0.74"/>
<rect x="1590.3" y="867.0" width="1.9" height="1.9" fill="#f2c8d0" opacity="0.55"/>
<rect x="1517.7" y="867.7" width="1.8" height="1.8" fill="#f2c8d0" opacity="0.79"/>
<rect x="1508.0" y="869.0" width="3.5" height="3.5" fill="#f2c8d0" opacity="0.50"/>
<rect x="1657.4" y="865.6" width="2.3" height="2.3" fill="#f2c8d0" opacity="0.35"/>
<rect x="1494.8" y="868.0" width="3.1" height="3.1" fill="#f2c8d0" opacity="0.54"/>
<rect x="1725.1" y="868.4" width="2.6" height="2.6" fill="#f2c8d0" opacity="0.49"/>
<rect x="1527.1" y="867.6" width="2.8" height="2.8" fill="#f2c8d0" opacity="0.64"/>
<rect x="1760.4" y="867.3" width="2.8" height="2.8" fill="#f2c8d0" opacity="0.61"/>
<rect x="1535.6" y="867.2" width="2.8" height="2.8" fill="#f2c8d0" opacity="0.73"/>
<rect x="1614.9" y="869.5" width="1.5" height="1.5" fill="#f2c8d0" opacity="0.74"/>
<rect x="1524.4" y="868.8" width="2.1" height="2.1" fill="#f2c8d0" opacity="0.66"/>
<rect x="1756.0" y="867.1" width="1.5" height="1.5" fill="#f2c8d0" opacity="0.58"/>
<rect x="1665.0" y="867.3" width="3.3" height="3.3" fill="#f2c8d0" opacity="0.55"/>
<rect x="1647.1" y="868.0" width="2.3" height="2.3" fill="#f2c8d0" opacity="0.65"/>
<rect x="1609.5" y="865.0" width="1.6" height="1.6" fill="#f2c8d0" opacity="0.64"/>
<rect x="1670.0" y="868.9" width="1.8" height="1.8" fill="#f2c8d0" opacity="0.68"/>
<rect x="1655.6" y="866.9" width="1.7" height="1.7" fill="#f2c8d0" opacity="0.54"/>
<rect x="1766.6" y="866.0" width="1.5" height="1.5" fill="#f2c8d0" opacity="0.63"/>
<rect x="1795.7" y="866.0" width="3.2" height="3.2" fill="#f2c8d0" opacity="0.41"/>
<rect x="1518.8" y="866.0" width="2.6" height="2.6" fill="#f2c8d0" opacity="0.53"/>
<rect x="1718.1" y="867.2" width="3.3" height="3.3" fill="#f2c8d0" opacity="0.48"/>
<rect x="1719.1" y="866.7" width="3.0" height="3.0" fill="#f2c8d0" opacity="0.45"/>
<rect x="1658.4" y="866.3" width="2.5" height="2.5" fill="#f2c8d0" opacity="0.63"/>
<rect x="1764.8" y="867.4" width="1.6" height="1.6" fill="#f2c8d0" opacity="0.33"/>
<rect x="1762.7" y="866.8" width="2.9" height="2.9" fill="#f2c8d0" opacity="0.61"/>
<rect x="1604.5" y="866.3" width="3.4" height="3.4" fill="#f2c8d0" opacity="0.72"/>
<rect x="1674.9" y="868.7" width="2.1" height="2.1" fill="#f2c8d0" opacity="0.77"/>
<rect x="1712.9" y="866.2" width="3.4" height="3.4" fill="#f2c8d0" opacity="0.36"/>
<rect x="1785.2" y="867.2" width="1.8" height="1.8" fill="#f2c8d0" opacity="0.70"/>
<rect x="1632.6" y="867.3" width="2.0" height="2.0" fill="#f2c8d0" opacity="0.68"/>
<rect x="1586.8" y="865.6" width="2.1" height="2.1" fill="#f2c8d0" opacity="0.61"/>
<rect x="1688.3" y="867.6" width="3.2" height="3.2" fill="#f2c8d0" opacity="0.66"/>
<rect x="1485.0" y="865.3" width="1.8" height="1.8" fill="#f2c8d0" opacity="0.72"/>
<rect x="1667.1" y="868.0" width="2.3" height="2.3" fill="#f2c8d0" opacity="0.49"/>
<rect x="1726.9" y="866.9" width="2.0" height="2.0" fill="#f2c8d0" opacity="0.53"/>
<rect x="1700.3" y="866.5" width="1.8" height="1.8" fill="#f2c8d0" opacity="0.76"/>
<rect x="1724.3" y="867.9" width="3.1" height="3.1" fill="#f2c8d0" opacity="0.44"/>
<rect x="1525.0" y="870.0" width="1.8" height="1.8" fill="#f2c8d0" opacity="0.79"/>
<rect x="1735.1" y="864.4" width="2.6" height="2.6" fill="#f2c8d0" opacity="0.69"/>
<rect x="1640.0" y="865.4" width="2.5" height="2.5" fill="#f2c8d0" opacity="0.49"/>
<rect x="1732.1" y="866.6" width="2.9" height="2.9" fill="#f2c8d0" opacity="0.79"/>
<rect x="1579.0" y="868.2" width="2.9" height="2.9" fill="#f2c8d0" opacity="0.76"/>
<rect x="1667.6" y="867.5" width="1.5" height="1.5" fill="#f2c8d0" opacity="0.49"/>
<rect x="1653.0" y="865.8" width="1.6" height="1.6" fill="#f2c8d0" opacity="0.50"/>
<rect x="1646.7" y="866.7" width="2.0" height="2.0" fill="#f2c8d0" opacity="0.72"/>
<rect x="1582.7" y="866.1" width="1.9" height="1.9" fill="#f2c8d0" opacity="0.35"/>
<rect x="1737.9" y="867.0" width="2.1" height="2.1" fill="#f2c8d0" opacity="0.59"/>
<rect x="1594.8" y="867.5" width="2.0" height="2.0" fill="#f2c8d0" opacity="0.76"/>
<rect x="1637.8" y="864.4" width="3.2" height="3.2" fill="#f2c8d0" opacity="0.49"/>
<rect x="1717.6" y="696.7" width="1.6" height="1.6" fill="#f2c8d0" opacity="0.28"/>
<rect x="1766.4" y="695.9" width="1.7" height="1.7" fill="#f2c8d0" opacity="0.26"/>
<rect x="1856.1" y="692.3" width="1.9" height="1.9" fill="#f2c8d0" opacity="0.48"/>
<rect x="1655.1" y="693.8" width="1.7" height="1.7" fill="#f2c8d0" opacity="0.33"/>
<rect x="1761.7" y="694.1" width="3.2" height="3.2" fill="#f2c8d0" opacity="0.30"/>
<rect x="1898.2" y="694.3" width="2.3" height="2.3" fill="#f2c8d0" opacity="0.21"/>
<rect x="1571.8" y="692.7" width="2.5" height="2.5" fill="#f2c8d0" opacity="0.45"/>
<rect x="1864.2" y="697.5" width="3.2" height="3.2" fill="#f2c8d0" opacity="0.39"/>
<rect x="1873.5" y="694.7" width="2.1" height="2.1" fill="#f2c8d0" opacity="0.27"/>
<rect x="1590.5" y="694.1" width="3.3" height="3.3" fill="#f2c8d0" opacity="0.35"/>
<rect x="1622.1" y="696.2" width="2.0" height="2.0" fill="#f2c8d0" opacity="0.42"/>
<rect x="1618.5" y="693.3" width="3.4" height="3.4" fill="#f2c8d0" opacity="0.48"/>
<rect x="1580.2" y="694.5" width="3.3" height="3.3" fill="#f2c8d0" opacity="0.28"/>
<rect x="1734.5" y="694.8" width="3.0" height="3.0" fill="#f2c8d0" opacity="0.43"/>
<rect x="1724.4" y="696.5" width="1.5" height="1.5" fill="#f2c8d0" opacity="0.26"/>
<rect x="1814.4" y="696.1" width="2.7" height="2.7" fill="#f2c8d0" opacity="0.33"/>
<rect x="1781.9" y="692.9" width="2.3" height="2.3" fill="#f2c8d0" opacity="0.31"/>
<rect x="1689.1" y="695.4" width="2.4" height="2.4" fill="#f2c8d0" opacity="0.44"/>
<rect x="1870.9" y="696.9" width="3.3" height="3.3" fill="#f2c8d0" opacity="0.44"/>
<rect x="1613.4" y="693.5" width="3.2" height="3.2" fill="#f2c8d0" opacity="0.22"/>
<rect x="1770.3" y="692.4" width="3.1" height="3.1" fill="#f2c8d0" opacity="0.49"/>
<rect x="1874.8" y="697.6" width="2.3" height="2.3" fill="#f2c8d0" opacity="0.21"/>
<rect x="1585.6" y="696.9" width="2.0" height="2.0" fill="#f2c8d0" opacity="0.23"/>
<rect x="1684.5" y="694.7" width="2.2" height="2.2" fill="#f2c8d0" opacity="0.42"/>
<rect x="1621.3" y="690.6" width="2.4" height="2.4" fill="#f2c8d0" opacity="0.24"/>
<rect x="1702.2" y="696.4" width="2.0" height="2.0" fill="#f2c8d0" opacity="0.21"/>
<rect x="1754.1" y="693.9" width="2.0" height="2.0" fill="#f2c8d0" opacity="0.23"/>
<rect x="1715.1" y="698.8" width="2.5" height="2.5" fill="#f2c8d0" opacity="0.25"/>
<rect x="1734.6" y="692.4" width="3.4" height="3.4" fill="#f2c8d0" opacity="0.37"/>
<rect x="1844.0" y="692.2" width="1.7" height="1.7" fill="#f2c8d0" opacity="0.43"/>
<rect x="2147.7" y="723.9" width="3.0" height="3.0" fill="#7a60c0" opacity="0.67"/>
<rect x="1484.1" y="679.7" width="4.3" height="4.3" fill="#5a70c8" opacity="0.64"/>
<rect x="2153.7" y="634.7" width="3.8" height="3.8" fill="#60c060" opacity="0.63"/>
<rect x="1669.1" y="633.4" width="2.5" height="2.5" fill="#8070b0" opacity="0.45"/>
<rect x="1683.7" y="602.6" width="3.3" height="3.3" fill="#50b0a0" opacity="0.55"/>
<rect x="1514.9" y="645.8" width="4.0" height="4.0" fill="#4a8ad0" opacity="0.41"/>
<rect x="1866.5" y="847.0" width="4.3" height="4.3" fill="#4a8ad0" opacity="0.52"/>
<rect x="1618.2" y="653.9" width="3.7" height="3.7" fill="#4a8ad0" opacity="0.57"/>
<rect x="1556.1" y="685.5" width="2.5" height="2.5" fill="#4a8ad0" opacity="0.61"/>
<rect x="1720.2" y="813.7" width="2.6" height="2.6" fill="#50b0a0" opacity="0.47"/>
<rect x="2049.8" y="858.0" width="3.5" height="3.5" fill="#5a70c8" opacity="0.49"/>
<rect x="1989.9" y="631.3" width="3.8" height="3.8" fill="#7a60c0" opacity="0.42"/>
<rect x="2042.0" y="703.8" width="2.8" height="2.8" fill="#50b0a0" opacity="0.55"/>
<rect x="2062.1" y="700.4" width="4.4" height="4.4" fill="#8070b0" opacity="0.37"/>
<rect x="1681.1" y="665.9" width="4.2" height="4.2" fill="#50b0a0" opacity="0.62"/>
<rect x="2069.7" y="768.7" width="4.3" height="4.3" fill="#50b0a0" opacity="0.66"/>
<rect x="2135.1" y="743.4" width="3.5" height="3.5" fill="#8070b0" opacity="0.63"/>
<rect x="1512.1" y="665.5" width="2.7" height="2.7" fill="#8070b0" opacity="0.41"/>
<rect x="1488.0" y="667.6" width="4.1" height="4.1" fill="#5a70c8" opacity="0.36"/>
<rect x="2114.0" y="819.0" width="3.0" height="3.0" fill="#8070b0" opacity="0.57"/>
<rect x="1762.6" y="663.9" width="3.4" height="3.4" fill="#50b0a0" opacity="0.65"/>
<rect x="1955.0" y="604.0" width="2.7" height="2.7" fill="#60c060" opacity="0.56"/>
<rect x="1988.7" y="624.1" width="2.7" height="2.7" fill="#7a60c0" opacity="0.54"/>
<rect x="1582.8" y="660.4" width="3.8" height="3.8" fill="#60c060" opacity="0.61"/>
<rect x="1534.9" y="846.1" width="4.4" height="4.4" fill="#60c060" opacity="0.59"/>
<rect x="1863.8" y="776.9" width="2.6" height="2.6" fill="#5a70c8" opacity="0.62"/>
<rect x="1667.3" y="664.5" width="3.2" height="3.2" fill="#60c060" opacity="0.65"/>
<rect x="1839.0" y="895.6" width="3.1" height="3.1" fill="#60c060" opacity="0.65"/>
<rect x="1450.7" y="750.4" width="4.4" height="4.4" fill="#50b0a0" opacity="0.44"/>
<rect x="1730.8" y="786.1" width="3.2" height="3.2" fill="#8070b0" opacity="0.42"/>
<rect x="1656.5" y="652.2" width="3.8" height="3.8" fill="#7a60c0" opacity="0.40"/>
<rect x="2147.0" y="830.7" width="4.4" height="4.4" fill="#4a8ad0" opacity="0.37"/>
<rect x="2154.9" y="891.7" width="2.6" height="2.6" fill="#4a8ad0" opacity="0.57"/>
<rect x="2107.6" y="783.3" width="3.8" height="3.8" fill="#5a70c8" opacity="0.57"/>
<rect x="1600.4" y="751.3" width="3.4" height="3.4" fill="#5a70c8" opacity="0.45"/>
<rect x="1642.1" y="790.7" width="2.7" height="2.7" fill="#8070b0" opacity="0.69"/>
<rect x="2110.0" y="869.4" width="2.7" height="2.7" fill="#8070b0" opacity="0.54"/>
<rect x="1522.8" y="628.4" width="2.8" height="2.8" fill="#50b0a0" opacity="0.67"/>
<rect x="1848.8" y="675.0" width="4.0" height="4.0" fill="#4a8ad0" opacity="0.54"/>
<rect x="2048.2" y="779.1" width="3.6" height="3.6" fill="#4a8ad0" opacity="0.49"/>
<rect x="1826.9" y="703.7" width="4.3" height="4.3" fill="#50b0a0" opacity="0.56"/>
<rect x="1766.4" y="686.3" width="3.0" height="3.0" fill="#7a60c0" opacity="0.42"/>
<rect x="1824.9" y="890.6" width="3.3" height="3.3" fill="#50b0a0" opacity="0.41"/>
<rect x="2133.6" y="690.4" width="3.2" height="3.2" fill="#50b0a0" opacity="0.45"/>
<rect x="2160.5" y="681.6" width="4.0" height="4.0" fill="#7a60c0" opacity="0.54"/>
<rect x="1768.7" y="579.8" width="5.8" height="4.7" fill="#0a0a0a"/>
<rect x="1768.7" y="590.4" width="5.8" height="15.9" fill="#0a0a0a"/>
<rect x="1768.7" y="611.6" width="5.8" height="16.9" fill="#0a0a0a"/>
<rect x="1768.7" y="635.4" width="5.8" height="15.4" fill="#0a0a0a"/>
<rect x="1768.7" y="657.2" width="5.8" height="15.9" fill="#0a0a0a"/>
<rect x="1768.7" y="679.4" width="5.8" height="16.5" fill="#0a0a0a"/>
<rect x="1768.7" y="701.7" width="5.8" height="16.4" fill="#0a0a0a"/>
<text transform="translate(1421.36,624.40) scale(0.9427,1)" font-size="46" font-family='"Liberation Sans", Arial, sans-serif' fill="#050505">Type-</text>
<text transform="translate(1590.41,624.40) scale(0.8821,1)" font-size="46" font-family='"Liberation Sans", Arial, sans-serif' fill="#050505">1021</text>
<text transform="translate(2028.88,868.20) scale(0.9484,1)" font-size="46" font-family='"Liberation Sans", Arial, sans-serif' fill="#050505">100μm</text>
<rect x="2047.9" y="878.4" width="82.5" height="15" fill="#050505"/>
<text transform="translate(1529.74,624.40) scale(1.0571,1)" font-size="46.0" font-family='"Liberation Serif", "Noto Serif CJK SC", serif' font-weight="700" fill="#050505">Ⅱ</text>
</g>
<clipPath id="cp3"><rect x="1415" y="1031.8" width="751" height="287.5"/></clipPath>
<g clip-path="url(#cp3)"><g filter="url(#cm)">
<rect x="1410.0" y="1026.8" width="761.0" height="297.5" rx="0" fill="#999999"/>
<rect x="1420.0" y="1040.0" width="740.0" height="270.0" rx="0" fill="#757575"/>
<rect x="1438.0" y="1098.0" width="37.0" height="174.0" rx="0" fill="#919191" filter="url(#f116)"/>
<rect x="1462.0" y="1118.0" width="666.0" height="154.0" rx="0" fill="#9e9e9e" filter="url(#f117)"/>
<rect x="1470.0" y="1126.0" width="648.0" height="142.0" rx="0" fill="#d6d6d6" filter="url(#f118)"/>
<rect x="1482.0" y="1136.0" width="458.0" height="126.0" rx="0" fill="#f5f5f5" filter="url(#f119)"/>
<rect x="1920.0" y="1134.0" width="90.0" height="130.0" rx="0" fill="#ebebeb" filter="url(#f120)"/>
<rect x="1995.0" y="1130.0" width="65.0" height="136.0" rx="0" fill="#d1d1d1" filter="url(#f121)"/>
<rect x="2050.0" y="1126.0" width="68.0" height="142.0" rx="0" fill="#b2b2b2" filter="url(#f122)"/>
<ellipse cx="2095.0" cy="1180.0" rx="22.0" ry="70.0" fill="#a3a3a3" filter="url(#f123)"/>
<rect x="2030.0" y="1095.0" width="88.0" height="45.0" rx="0" fill="#a3a3a3" filter="url(#f124)"/>
<line x1="1465.0" y1="1120.0" x2="1990.0" y2="1120.0" stroke="#8f8f8f" stroke-width="6" stroke-linecap="round" filter="url(#f125)"/>
<rect x="1440.0" y="1275.0" width="695.0" height="23.0" rx="0" fill="#707070" filter="url(#f126)"/>
<ellipse cx="1660.0" cy="1289.0" rx="130.0" ry="5.0" fill="#878787" filter="url(#f127)"/>
<ellipse cx="1900.0" cy="1284.0" rx="140.0" ry="5.0" fill="#858585" filter="url(#f128)"/>
<ellipse cx="1560.0" cy="1294.0" rx="60.0" ry="4.0" fill="#8c8c8c" filter="url(#f129)"/>
<ellipse cx="1560.0" cy="1058.0" rx="110.0" ry="5.0" fill="#8c8c8c" filter="url(#f130)"/>
<ellipse cx="1720.0" cy="1055.0" rx="60.0" ry="4.0" fill="#919191" filter="url(#f131)"/>
<ellipse cx="1900.0" cy="1056.0" rx="110.0" ry="5.0" fill="#949494" filter="url(#f132)"/>
<ellipse cx="2070.0" cy="1058.0" rx="60.0" ry="5.0" fill="#999999" filter="url(#f133)"/>
<line x1="1526.0" y1="1099.0" x2="1990.0" y2="1099.0" stroke="#6b6b6b" stroke-width="32" stroke-linecap="round" filter="url(#f134)"/>
<line x1="1526.0" y1="1099.0" x2="1975.0" y2="1099.0" stroke="#4f4f4f" stroke-width="14" stroke-linecap="round" filter="url(#f135)"/>
<ellipse cx="1988.0" cy="1114.0" rx="26.0" ry="29.0" fill="#616161" filter="url(#f136)"/>
<ellipse cx="1986.0" cy="1114.0" rx="16.0" ry="19.0" fill="#3b3b3b" filter="url(#f137)"/>
<line x1="1628.0" y1="1229.5" x2="2060.0" y2="1229.5" stroke="#949494" stroke-width="26" stroke-linecap="round" filter="url(#f138)"/>
<line x1="1628.0" y1="1229.5" x2="2060.0" y2="1229.5" stroke="#6e6e6e" stroke-width="13" stroke-linecap="round" filter="url(#f139)"/>
<ellipse cx="1628.0" cy="1232.0" rx="28.0" ry="28.0" fill="#999999" filter="url(#f140)"/>
<path d="M1669.8 1232.0L1628.0 1213.3L1628.0 1250.7Z" fill="#666666" filter="url(#f141)"/>
<ellipse cx="1628.0" cy="1232.0" rx="22.0" ry="22.0" fill="#666666" filter="url(#f142)"/>
<ellipse cx="1628.0" cy="1232.0" rx="15.0" ry="15.0" fill="#575757" filter="url(#f143)"/>
<ellipse cx="1516.5" cy="1233.0" rx="27.0" ry="27.0" fill="#999999" filter="url(#f144)"/>
<ellipse cx="1516.5" cy="1233.0" rx="21.0" ry="21.0" fill="#666666" filter="url(#f145)"/>
<ellipse cx="1516.5" cy="1233.0" rx="15.0" ry="15.0" fill="#575757" filter="url(#f146)"/>
<path d="M1355 971.8H2226V1379.3H1355ZM1446.0 1052.0H2124.0A14 14 0 0 1 2138.0 1066.0V1284.0A14 14 0 0 1 2124.0 1298.0H1446.0A14 14 0 0 1 1432.0 1284.0V1066.0A14 14 0 0 1 1446.0 1052.0Z" fill-rule="evenodd" fill="#6e6e6e" filter="url(#f147)"/>
<path d="M1355 971.8H2226V1379.3H1355ZM1444.0 1048.0H2131.0A16 16 0 0 1 2147.0 1064.0V1285.0A16 16 0 0 1 2131.0 1301.0H1444.0A16 16 0 0 1 1428.0 1285.0V1064.0A16 16 0 0 1 1444.0 1048.0Z" fill-rule="evenodd" fill="#4c4c4c" filter="url(#f148)"/>
<path d="M1355 971.8H2226V1379.3H1355ZM1442.0 1045.0H2136.0A18 18 0 0 1 2154.0 1063.0V1287.0A18 18 0 0 1 2136.0 1305.0H1442.0A18 18 0 0 1 1424.0 1287.0V1063.0A18 18 0 0 1 1442.0 1045.0Z" fill-rule="evenodd" fill="#303030" filter="url(#f147)"/>
<ellipse cx="1810.0" cy="1035.0" rx="130.0" ry="8.0" fill="#171717" filter="url(#f149)"/>
<ellipse cx="1416.0" cy="1034.0" rx="10.0" ry="10.0" fill="#1f1f1f" filter="url(#f150)"/>
<ellipse cx="2164.0" cy="1036.0" rx="16.0" ry="10.0" fill="#1a1a1a" filter="url(#f151)"/>
<ellipse cx="1900.0" cy="1316.0" rx="280.0" ry="7.0" fill="#171717" filter="url(#f152)"/>
<ellipse cx="1418.0" cy="1318.0" rx="14.0" ry="10.0" fill="#1c1c1c" filter="url(#f153)"/>
<ellipse cx="2162.0" cy="1314.0" rx="20.0" ry="16.0" fill="#0f0f0f" filter="url(#f154)"/>
</g>
<ellipse cx="1840.0" cy="1197.0" rx="190.0" ry="13.0" fill="#f0a8b8" opacity="0.45" filter="url(#f155)"/>
<ellipse cx="1835.0" cy="1254.0" rx="175.0" ry="6.0" fill="#f0a8b8" opacity="0.45" filter="url(#f156)"/>
<rect x="1880.3" y="1190.0" width="2.5" height="2.5" fill="#f2c8d0" opacity="0.63"/>
<rect x="1784.6" y="1204.4" width="3.0" height="3.0" fill="#f2c8d0" opacity="0.48"/>
<rect x="2025.9" y="1188.8" width="2.3" height="2.3" fill="#f2c8d0" opacity="0.55"/>
<rect x="1703.3" y="1181.3" width="1.9" height="1.9" fill="#f2c8d0" opacity="0.52"/>
<rect x="1755.2" y="1197.7" width="3.2" height="3.2" fill="#f2c8d0" opacity="0.66"/>
<rect x="2028.3" y="1193.3" width="2.0" height="2.0" fill="#f2c8d0" opacity="0.53"/>
<rect x="1890.2" y="1193.9" width="1.7" height="1.7" fill="#f2c8d0" opacity="0.43"/>
<rect x="1859.0" y="1189.0" width="1.7" height="1.7" fill="#f2c8d0" opacity="0.43"/>
<rect x="2027.3" y="1204.1" width="2.1" height="2.1" fill="#f2c8d0" opacity="0.53"/>
<rect x="1692.2" y="1207.1" width="3.2" height="3.2" fill="#f2c8d0" opacity="0.56"/>
<rect x="1759.5" y="1192.1" width="2.6" height="2.6" fill="#f2c8d0" opacity="0.52"/>
<rect x="1896.3" y="1201.3" width="1.5" height="1.5" fill="#f2c8d0" opacity="0.59"/>
<rect x="2026.1" y="1191.6" width="2.6" height="2.6" fill="#f2c8d0" opacity="0.61"/>
<rect x="1815.5" y="1200.1" width="2.3" height="2.3" fill="#f2c8d0" opacity="0.35"/>
<rect x="1962.2" y="1187.1" width="2.7" height="2.7" fill="#f2c8d0" opacity="0.36"/>
<rect x="1773.8" y="1212.0" width="3.4" height="3.4" fill="#f2c8d0" opacity="0.65"/>
<rect x="2013.2" y="1201.4" width="3.3" height="3.3" fill="#f2c8d0" opacity="0.38"/>
<rect x="1853.8" y="1196.9" width="2.1" height="2.1" fill="#f2c8d0" opacity="0.53"/>
<rect x="1816.1" y="1201.2" width="2.4" height="2.4" fill="#f2c8d0" opacity="0.46"/>
<rect x="1665.5" y="1185.9" width="2.9" height="2.9" fill="#f2c8d0" opacity="0.45"/>
<rect x="1653.9" y="1200.6" width="2.3" height="2.3" fill="#f2c8d0" opacity="0.48"/>
<rect x="1896.4" y="1198.1" width="3.4" height="3.4" fill="#f2c8d0" opacity="0.32"/>
<rect x="1721.5" y="1189.7" width="3.0" height="3.0" fill="#f2c8d0" opacity="0.65"/>
<rect x="1873.2" y="1199.4" width="2.9" height="2.9" fill="#f2c8d0" opacity="0.59"/>
<rect x="1685.1" y="1191.6" width="1.7" height="1.7" fill="#f2c8d0" opacity="0.39"/>
<rect x="1716.7" y="1201.1" width="2.8" height="2.8" fill="#f2c8d0" opacity="0.38"/>
<rect x="1780.5" y="1203.7" width="3.4" height="3.4" fill="#f2c8d0" opacity="0.53"/>
<rect x="1849.1" y="1192.7" width="3.1" height="3.1" fill="#f2c8d0" opacity="0.34"/>
<rect x="1989.4" y="1193.9" width="2.6" height="2.6" fill="#f2c8d0" opacity="0.30"/>
<rect x="1866.5" y="1197.3" width="2.8" height="2.8" fill="#f2c8d0" opacity="0.58"/>
<rect x="1912.9" y="1196.5" width="2.9" height="2.9" fill="#f2c8d0" opacity="0.50"/>
<rect x="1998.5" y="1196.0" width="2.3" height="2.3" fill="#f2c8d0" opacity="0.29"/>
<rect x="1655.9" y="1200.3" width="3.0" height="3.0" fill="#f2c8d0" opacity="0.51"/>
<rect x="1981.0" y="1196.8" width="3.3" height="3.3" fill="#f2c8d0" opacity="0.48"/>
<rect x="1704.6" y="1199.0" width="1.8" height="1.8" fill="#f2c8d0" opacity="0.48"/>
<rect x="1843.6" y="1205.1" width="1.6" height="1.6" fill="#f2c8d0" opacity="0.28"/>
<rect x="2010.2" y="1188.1" width="2.4" height="2.4" fill="#f2c8d0" opacity="0.61"/>
<rect x="1897.0" y="1196.5" width="2.9" height="2.9" fill="#f2c8d0" opacity="0.51"/>
<rect x="1704.7" y="1196.4" width="1.6" height="1.6" fill="#f2c8d0" opacity="0.53"/>
<rect x="1976.5" y="1201.6" width="3.4" height="3.4" fill="#f2c8d0" opacity="0.28"/>
<rect x="1722.8" y="1195.0" width="1.9" height="1.9" fill="#f2c8d0" opacity="0.43"/>
<rect x="1940.3" y="1195.0" width="1.6" height="1.6" fill="#f2c8d0" opacity="0.27"/>
<rect x="1740.6" y="1196.7" width="2.7" height="2.7" fill="#f2c8d0" opacity="0.33"/>
<rect x="1652.3" y="1200.1" width="3.2" height="3.2" fill="#f2c8d0" opacity="0.45"/>
<rect x="1809.0" y="1195.8" width="3.5" height="3.5" fill="#f2c8d0" opacity="0.28"/>
<rect x="1907.4" y="1210.7" width="2.8" height="2.8" fill="#f2c8d0" opacity="0.51"/>
<rect x="1807.1" y="1187.1" width="1.5" height="1.5" fill="#f2c8d0" opacity="0.64"/>
<rect x="1683.2" y="1202.6" width="1.8" height="1.8" fill="#f2c8d0" opacity="0.42"/>
<rect x="1652.9" y="1201.2" width="2.2" height="2.2" fill="#f2c8d0" opacity="0.40"/>
<rect x="1981.2" y="1191.2" width="2.2" height="2.2" fill="#f2c8d0" opacity="0.54"/>
<rect x="2015.3" y="1182.3" width="2.6" height="2.6" fill="#f2c8d0" opacity="0.42"/>
<rect x="1827.5" y="1203.3" width="2.2" height="2.2" fill="#f2c8d0" opacity="0.45"/>
<rect x="1756.1" y="1208.6" width="2.0" height="2.0" fill="#f2c8d0" opacity="0.31"/>
<rect x="1724.6" y="1198.0" width="2.6" height="2.6" fill="#f2c8d0" opacity="0.60"/>
<rect x="1860.9" y="1183.7" width="2.0" height="2.0" fill="#f2c8d0" opacity="0.42"/>
<rect x="1732.3" y="1198.6" width="2.3" height="2.3" fill="#f2c8d0" opacity="0.53"/>
<rect x="1870.7" y="1193.7" width="1.9" height="1.9" fill="#f2c8d0" opacity="0.64"/>
<rect x="1906.6" y="1203.7" width="3.4" height="3.4" fill="#f2c8d0" opacity="0.70"/>
<rect x="1876.5" y="1180.0" width="2.6" height="2.6" fill="#f2c8d0" opacity="0.43"/>
<rect x="1843.9" y="1203.8" width="1.8" height="1.8" fill="#f2c8d0" opacity="0.59"/>
<rect x="1907.6" y="1207.5" width="3.0" height="3.0" fill="#f2c8d0" opacity="0.59"/>
<rect x="1660.9" y="1203.5" width="2.9" height="2.9" fill="#f2c8d0" opacity="0.32"/>
<rect x="1655.7" y="1193.3" width="3.1" height="3.1" fill="#f2c8d0" opacity="0.35"/>
<rect x="1721.6" y="1185.5" width="3.3" height="3.3" fill="#f2c8d0" opacity="0.28"/>
<rect x="1997.3" y="1200.0" width="1.9" height="1.9" fill="#f2c8d0" opacity="0.57"/>
<rect x="1683.4" y="1184.8" width="2.1" height="2.1" fill="#f2c8d0" opacity="0.62"/>
<rect x="1801.6" y="1187.6" width="2.4" height="2.4" fill="#f2c8d0" opacity="0.53"/>
<rect x="1888.9" y="1206.7" width="3.2" height="3.2" fill="#f2c8d0" opacity="0.67"/>
<rect x="1717.0" y="1187.6" width="2.9" height="2.9" fill="#f2c8d0" opacity="0.65"/>
<rect x="1659.6" y="1205.4" width="2.9" height="2.9" fill="#f2c8d0" opacity="0.46"/>
<rect x="2030.0" y="1183.6" width="1.7" height="1.7" fill="#f2c8d0" opacity="0.38"/>
<rect x="1752.9" y="1205.0" width="2.7" height="2.7" fill="#f2c8d0" opacity="0.35"/>
<rect x="1907.4" y="1188.0" width="2.4" height="2.4" fill="#f2c8d0" opacity="0.59"/>
<rect x="1709.4" y="1201.4" width="3.0" height="3.0" fill="#f2c8d0" opacity="0.50"/>
<rect x="1889.2" y="1204.5" width="2.0" height="2.0" fill="#f2c8d0" opacity="0.47"/>
<rect x="1847.9" y="1192.7" width="3.4" height="3.4" fill="#f2c8d0" opacity="0.55"/>
<rect x="1868.6" y="1199.2" width="3.0" height="3.0" fill="#f2c8d0" opacity="0.54"/>
<rect x="1992.4" y="1194.7" width="3.3" height="3.3" fill="#f2c8d0" opacity="0.51"/>
<rect x="1914.5" y="1206.5" width="1.6" height="1.6" fill="#f2c8d0" opacity="0.39"/>
<rect x="1945.3" y="1194.3" width="2.2" height="2.2" fill="#f2c8d0" opacity="0.66"/>
<rect x="1808.5" y="1195.0" width="2.7" height="2.7" fill="#f2c8d0" opacity="0.35"/>
<rect x="1850.4" y="1180.0" width="2.2" height="2.2" fill="#f2c8d0" opacity="0.68"/>
<rect x="1818.2" y="1191.5" width="2.9" height="2.9" fill="#f2c8d0" opacity="0.63"/>
<rect x="1887.9" y="1203.0" width="2.5" height="2.5" fill="#f2c8d0" opacity="0.55"/>
<rect x="1728.3" y="1189.7" width="3.1" height="3.1" fill="#f2c8d0" opacity="0.47"/>
<rect x="1721.9" y="1183.9" width="3.4" height="3.4" fill="#f2c8d0" opacity="0.62"/>
<rect x="1862.5" y="1197.9" width="3.1" height="3.1" fill="#f2c8d0" opacity="0.36"/>
<rect x="1748.9" y="1199.7" width="3.4" height="3.4" fill="#f2c8d0" opacity="0.33"/>
<rect x="1781.9" y="1204.4" width="1.8" height="1.8" fill="#f2c8d0" opacity="0.56"/>
<rect x="1834.8" y="1201.5" width="2.5" height="2.5" fill="#f2c8d0" opacity="0.57"/>
<rect x="1652.2" y="1194.6" width="2.8" height="2.8" fill="#f2c8d0" opacity="0.56"/>
<rect x="1700.7" y="1192.5" width="2.9" height="2.9" fill="#f2c8d0" opacity="0.51"/>
<rect x="1741.5" y="1193.6" width="2.3" height="2.3" fill="#f2c8d0" opacity="0.67"/>
<rect x="1907.3" y="1193.4" width="1.8" height="1.8" fill="#f2c8d0" opacity="0.69"/>
<rect x="1969.0" y="1192.0" width="2.9" height="2.9" fill="#f2c8d0" opacity="0.26"/>
<rect x="1834.9" y="1198.7" width="1.6" height="1.6" fill="#f2c8d0" opacity="0.65"/>
<rect x="1765.5" y="1200.6" width="3.4" height="3.4" fill="#f2c8d0" opacity="0.32"/>
<rect x="1819.1" y="1199.9" width="2.6" height="2.6" fill="#f2c8d0" opacity="0.38"/>
<rect x="1861.9" y="1203.6" width="3.5" height="3.5" fill="#f2c8d0" opacity="0.47"/>
<rect x="1934.0" y="1198.2" width="2.2" height="2.2" fill="#f2c8d0" opacity="0.58"/>
<rect x="1750.5" y="1185.2" width="2.5" height="2.5" fill="#f2c8d0" opacity="0.60"/>
<rect x="1772.3" y="1182.1" width="2.2" height="2.2" fill="#f2c8d0" opacity="0.29"/>
<rect x="1758.7" y="1187.4" width="2.9" height="2.9" fill="#f2c8d0" opacity="0.54"/>
<rect x="1679.7" y="1188.5" width="3.0" height="3.0" fill="#f2c8d0" opacity="0.26"/>
<rect x="1800.2" y="1200.1" width="3.4" height="3.4" fill="#f2c8d0" opacity="0.49"/>
<rect x="1990.3" y="1201.3" width="2.9" height="2.9" fill="#f2c8d0" opacity="0.30"/>
<rect x="1923.2" y="1192.4" width="2.3" height="2.3" fill="#f2c8d0" opacity="0.54"/>
<rect x="1785.4" y="1205.1" width="2.0" height="2.0" fill="#f2c8d0" opacity="0.31"/>
<rect x="1999.5" y="1198.8" width="1.6" height="1.6" fill="#f2c8d0" opacity="0.30"/>
<rect x="1955.1" y="1191.4" width="3.3" height="3.3" fill="#f2c8d0" opacity="0.70"/>
<rect x="1803.2" y="1200.7" width="2.3" height="2.3" fill="#f2c8d0" opacity="0.58"/>
<rect x="2028.3" y="1197.5" width="2.7" height="2.7" fill="#f2c8d0" opacity="0.53"/>
<rect x="1703.9" y="1196.5" width="2.8" height="2.8" fill="#f2c8d0" opacity="0.43"/>
<rect x="2022.0" y="1199.8" width="3.2" height="3.2" fill="#f2c8d0" opacity="0.47"/>
<rect x="1732.9" y="1194.8" width="2.7" height="2.7" fill="#f2c8d0" opacity="0.63"/>
<rect x="1844.3" y="1197.3" width="1.8" height="1.8" fill="#f2c8d0" opacity="0.28"/>
<rect x="1671.0" y="1192.4" width="1.6" height="1.6" fill="#f2c8d0" opacity="0.25"/>
<rect x="2013.3" y="1181.6" width="1.9" height="1.9" fill="#f2c8d0" opacity="0.58"/>
<rect x="1794.0" y="1208.7" width="2.9" height="2.9" fill="#f2c8d0" opacity="0.51"/>
<rect x="1828.2" y="1196.3" width="2.6" height="2.6" fill="#f2c8d0" opacity="0.48"/>
<rect x="1812.8" y="1186.4" width="1.8" height="1.8" fill="#f2c8d0" opacity="0.43"/>
<rect x="1881.4" y="1193.9" width="1.7" height="1.7" fill="#f2c8d0" opacity="0.61"/>
<rect x="1924.7" y="1190.9" width="2.6" height="2.6" fill="#f2c8d0" opacity="0.44"/>
<rect x="1790.1" y="1205.0" width="2.8" height="2.8" fill="#f2c8d0" opacity="0.31"/>
<rect x="1978.8" y="1186.2" width="3.2" height="3.2" fill="#f2c8d0" opacity="0.35"/>
<rect x="1931.1" y="1194.1" width="2.9" height="2.9" fill="#f2c8d0" opacity="0.32"/>
<rect x="1870.0" y="1180.1" width="2.2" height="2.2" fill="#f2c8d0" opacity="0.36"/>
<rect x="1817.7" y="1190.3" width="2.0" height="2.0" fill="#f2c8d0" opacity="0.35"/>
<rect x="2018.0" y="1199.4" width="1.9" height="1.9" fill="#f2c8d0" opacity="0.63"/>
<rect x="1896.9" y="1207.2" width="1.9" height="1.9" fill="#f2c8d0" opacity="0.55"/>
<rect x="1919.5" y="1197.1" width="2.6" height="2.6" fill="#f2c8d0" opacity="0.56"/>
<rect x="1929.5" y="1203.7" width="3.3" height="3.3" fill="#f2c8d0" opacity="0.51"/>
<rect x="1973.6" y="1190.6" width="1.8" height="1.8" fill="#f2c8d0" opacity="0.48"/>
<rect x="1842.7" y="1184.6" width="3.2" height="3.2" fill="#f2c8d0" opacity="0.68"/>
<rect x="1888.1" y="1204.2" width="2.4" height="2.4" fill="#f2c8d0" opacity="0.56"/>
<rect x="1856.8" y="1193.9" width="3.4" height="3.4" fill="#f2c8d0" opacity="0.34"/>
<rect x="1830.5" y="1201.7" width="2.7" height="2.7" fill="#f2c8d0" opacity="0.43"/>
<rect x="1667.9" y="1199.8" width="1.6" height="1.6" fill="#f2c8d0" opacity="0.57"/>
<rect x="2013.1" y="1192.5" width="1.8" height="1.8" fill="#f2c8d0" opacity="0.66"/>
<rect x="1683.3" y="1196.9" width="3.5" height="3.5" fill="#f2c8d0" opacity="0.34"/>
<rect x="1693.6" y="1195.1" width="2.2" height="2.2" fill="#f2c8d0" opacity="0.63"/>
<rect x="1955.6" y="1189.5" width="3.0" height="3.0" fill="#f2c8d0" opacity="0.26"/>
<rect x="1747.1" y="1196.6" width="2.5" height="2.5" fill="#f2c8d0" opacity="0.41"/>
<rect x="1835.8" y="1204.4" width="3.1" height="3.1" fill="#f2c8d0" opacity="0.41"/>
<rect x="1785.2" y="1191.5" width="1.6" height="1.6" fill="#f2c8d0" opacity="0.66"/>
<rect x="1742.1" y="1204.5" width="2.2" height="2.2" fill="#f2c8d0" opacity="0.56"/>
<rect x="1658.1" y="1203.6" width="3.1" height="3.1" fill="#f2c8d0" opacity="0.47"/>
<rect x="1678.0" y="1195.5" width="2.0" height="2.0" fill="#f2c8d0" opacity="0.32"/>
<rect x="2003.8" y="1203.3" width="3.2" height="3.2" fill="#f2c8d0" opacity="0.51"/>
<rect x="1745.1" y="1188.5" width="3.5" height="3.5" fill="#f2c8d0" opacity="0.59"/>
<rect x="1752.1" y="1194.5" width="3.5" height="3.5" fill="#f2c8d0" opacity="0.47"/>
<rect x="1833.9" y="1196.5" width="1.6" height="1.6" fill="#f2c8d0" opacity="0.63"/>
<rect x="1678.3" y="1188.6" width="2.7" height="2.7" fill="#f2c8d0" opacity="0.63"/>
<rect x="2017.7" y="1189.0" width="2.9" height="2.9" fill="#f2c8d0" opacity="0.45"/>
<rect x="1737.1" y="1204.2" width="2.2" height="2.2" fill="#f2c8d0" opacity="0.49"/>
<rect x="1768.3" y="1193.8" width="1.8" height="1.8" fill="#f2c8d0" opacity="0.53"/>
<rect x="1730.3" y="1200.8" width="2.2" height="2.2" fill="#f2c8d0" opacity="0.46"/>
<rect x="2006.2" y="1185.7" width="2.1" height="2.1" fill="#f2c8d0" opacity="0.40"/>
<rect x="1833.7" y="1196.8" width="3.3" height="3.3" fill="#f2c8d0" opacity="0.52"/>
<rect x="1889.7" y="1201.3" width="3.0" height="3.0" fill="#f2c8d0" opacity="0.31"/>
<rect x="1796.1" y="1212.0" width="2.2" height="2.2" fill="#f2c8d0" opacity="0.51"/>
<rect x="1872.1" y="1204.4" width="1.8" height="1.8" fill="#f2c8d0" opacity="0.56"/>
<rect x="1997.7" y="1198.6" width="1.9" height="1.9" fill="#f2c8d0" opacity="0.44"/>
<rect x="1867.3" y="1194.2" width="1.7" height="1.7" fill="#f2c8d0" opacity="0.61"/>
<rect x="1951.4" y="1196.9" width="1.8" height="1.8" fill="#f2c8d0" opacity="0.28"/>
<rect x="2015.9" y="1208.5" width="2.2" height="2.2" fill="#f2c8d0" opacity="0.41"/>
<rect x="1974.2" y="1196.4" width="2.9" height="2.9" fill="#f2c8d0" opacity="0.40"/>
<rect x="1917.6" y="1210.3" width="2.8" height="2.8" fill="#f2c8d0" opacity="0.65"/>
<rect x="1947.4" y="1181.1" width="3.1" height="3.1" fill="#f2c8d0" opacity="0.70"/>
<rect x="1707.3" y="1195.7" width="1.9" height="1.9" fill="#f2c8d0" opacity="0.65"/>
<rect x="1905.1" y="1190.2" width="3.0" height="3.0" fill="#f2c8d0" opacity="0.67"/>
<rect x="1873.0" y="1200.0" width="1.8" height="1.8" fill="#f2c8d0" opacity="0.57"/>
<rect x="1745.8" y="1186.7" width="3.4" height="3.4" fill="#f2c8d0" opacity="0.28"/>
<rect x="1722.3" y="1191.5" width="3.3" height="3.3" fill="#f2c8d0" opacity="0.51"/>
<rect x="1765.6" y="1191.2" width="3.4" height="3.4" fill="#f2c8d0" opacity="0.56"/>
<rect x="1924.1" y="1202.3" width="3.3" height="3.3" fill="#f2c8d0" opacity="0.63"/>
<rect x="1771.3" y="1202.8" width="2.6" height="2.6" fill="#f2c8d0" opacity="0.59"/>
<rect x="1888.1" y="1209.4" width="2.0" height="2.0" fill="#f2c8d0" opacity="0.26"/>
<rect x="1668.1" y="1181.9" width="2.1" height="2.1" fill="#f2c8d0" opacity="0.48"/>
<rect x="1687.8" y="1200.8" width="2.0" height="2.0" fill="#f2c8d0" opacity="0.28"/>
<rect x="1699.0" y="1198.6" width="3.1" height="3.1" fill="#f2c8d0" opacity="0.51"/>
<rect x="1923.2" y="1196.8" width="1.5" height="1.5" fill="#f2c8d0" opacity="0.37"/>
<rect x="1894.1" y="1202.2" width="1.6" height="1.6" fill="#f2c8d0" opacity="0.39"/>
<rect x="1979.7" y="1196.6" width="1.6" height="1.6" fill="#f2c8d0" opacity="0.47"/>
<rect x="1881.7" y="1197.4" width="3.2" height="3.2" fill="#f2c8d0" opacity="0.61"/>
<rect x="1683.1" y="1191.9" width="2.7" height="2.7" fill="#f2c8d0" opacity="0.60"/>
<rect x="2025.4" y="1182.5" width="3.2" height="3.2" fill="#f2c8d0" opacity="0.26"/>
<rect x="1770.4" y="1205.9" width="2.8" height="2.8" fill="#f2c8d0" opacity="0.39"/>
<rect x="1807.8" y="1192.7" width="1.8" height="1.8" fill="#f2c8d0" opacity="0.26"/>
<rect x="1730.0" y="1183.1" width="2.6" height="2.6" fill="#f2c8d0" opacity="0.63"/>
<rect x="1786.0" y="1191.8" width="2.9" height="2.9" fill="#f2c8d0" opacity="0.64"/>
<rect x="1708.3" y="1200.9" width="3.5" height="3.5" fill="#f2c8d0" opacity="0.51"/>
<rect x="1737.4" y="1186.5" width="2.5" height="2.5" fill="#f2c8d0" opacity="0.26"/>
<rect x="1896.0" y="1187.2" width="2.8" height="2.8" fill="#f2c8d0" opacity="0.50"/>
<rect x="1918.4" y="1189.8" width="2.6" height="2.6" fill="#f2c8d0" opacity="0.37"/>
<rect x="1746.1" y="1193.6" width="2.6" height="2.6" fill="#f2c8d0" opacity="0.29"/>
<rect x="1957.5" y="1200.0" width="2.8" height="2.8" fill="#f2c8d0" opacity="0.43"/>
<rect x="2022.1" y="1195.4" width="3.4" height="3.4" fill="#f2c8d0" opacity="0.53"/>
<rect x="1696.4" y="1191.4" width="3.1" height="3.1" fill="#f2c8d0" opacity="0.37"/>
<rect x="1880.3" y="1194.7" width="3.0" height="3.0" fill="#f2c8d0" opacity="0.66"/>
<rect x="1980.9" y="1203.5" width="2.6" height="2.6" fill="#f2c8d0" opacity="0.41"/>
<rect x="1919.7" y="1186.4" width="2.4" height="2.4" fill="#f2c8d0" opacity="0.64"/>
<rect x="1731.0" y="1208.9" width="2.3" height="2.3" fill="#f2c8d0" opacity="0.35"/>
<rect x="1950.1" y="1188.1" width="1.6" height="1.6" fill="#f2c8d0" opacity="0.55"/>
<rect x="1655.9" y="1201.4" width="2.8" height="2.8" fill="#f2c8d0" opacity="0.41"/>
<rect x="1736.7" y="1181.4" width="2.3" height="2.3" fill="#f2c8d0" opacity="0.66"/>
<rect x="1792.7" y="1188.3" width="1.6" height="1.6" fill="#f2c8d0" opacity="0.26"/>
<rect x="1919.5" y="1184.3" width="2.0" height="2.0" fill="#f2c8d0" opacity="0.41"/>
<rect x="1773.9" y="1190.9" width="3.3" height="3.3" fill="#f2c8d0" opacity="0.47"/>
<rect x="2022.9" y="1198.6" width="3.1" height="3.1" fill="#f2c8d0" opacity="0.46"/>
<rect x="2004.9" y="1198.1" width="1.8" height="1.8" fill="#f2c8d0" opacity="0.39"/>
<rect x="1683.6" y="1180.0" width="1.5" height="1.5" fill="#f2c8d0" opacity="0.64"/>
<rect x="1744.9" y="1191.9" width="3.4" height="3.4" fill="#f2c8d0" opacity="0.35"/>
<rect x="1669.8" y="1204.8" width="3.1" height="3.1" fill="#f2c8d0" opacity="0.63"/>
<rect x="1929.5" y="1207.6" width="2.4" height="2.4" fill="#f2c8d0" opacity="0.45"/>
<rect x="1703.1" y="1199.5" width="3.4" height="3.4" fill="#f2c8d0" opacity="0.56"/>
<rect x="1955.9" y="1205.0" width="1.8" height="1.8" fill="#f2c8d0" opacity="0.39"/>
<rect x="1841.0" y="1208.7" width="2.2" height="2.2" fill="#f2c8d0" opacity="0.59"/>
<rect x="1826.5" y="1190.2" width="2.8" height="2.8" fill="#f2c8d0" opacity="0.55"/>
<rect x="1800.7" y="1200.4" width="2.2" height="2.2" fill="#f2c8d0" opacity="0.65"/>
<rect x="1872.4" y="1199.0" width="1.5" height="1.5" fill="#f2c8d0" opacity="0.31"/>
<rect x="1876.2" y="1205.4" width="2.6" height="2.6" fill="#f2c8d0" opacity="0.56"/>
<rect x="1926.8" y="1210.2" width="1.6" height="1.6" fill="#f2c8d0" opacity="0.30"/>
<rect x="2013.7" y="1200.5" width="3.4" height="3.4" fill="#f2c8d0" opacity="0.49"/>
<rect x="1651.0" y="1197.4" width="2.8" height="2.8" fill="#f2c8d0" opacity="0.50"/>
<rect x="2027.5" y="1204.7" width="2.6" height="2.6" fill="#f2c8d0" opacity="0.63"/>
<rect x="2013.8" y="1212.0" width="3.2" height="3.2" fill="#f2c8d0" opacity="0.69"/>
<rect x="1735.1" y="1204.7" width="1.6" height="1.6" fill="#f2c8d0" opacity="0.57"/>
<rect x="1655.8" y="1193.8" width="1.9" height="1.9" fill="#f2c8d0" opacity="0.27"/>
<rect x="1950.0" y="1212.0" width="3.4" height="3.4" fill="#f2c8d0" opacity="0.37"/>
<rect x="1773.8" y="1203.5" width="2.1" height="2.1" fill="#f2c8d0" opacity="0.40"/>
<rect x="1805.9" y="1198.0" width="3.5" height="3.5" fill="#f2c8d0" opacity="0.59"/>
<rect x="1752.1" y="1188.3" width="2.3" height="2.3" fill="#f2c8d0" opacity="0.32"/>
<rect x="1939.2" y="1200.1" width="3.3" height="3.3" fill="#f2c8d0" opacity="0.61"/>
<rect x="1991.3" y="1192.6" width="2.5" height="2.5" fill="#f2c8d0" opacity="0.69"/>
<rect x="1913.6" y="1192.1" width="3.0" height="3.0" fill="#f2c8d0" opacity="0.70"/>
<rect x="1963.7" y="1194.4" width="2.7" height="2.7" fill="#f2c8d0" opacity="0.27"/>
<rect x="1922.2" y="1193.4" width="2.3" height="2.3" fill="#f2c8d0" opacity="0.50"/>
<rect x="1910.2" y="1186.2" width="2.4" height="2.4" fill="#f2c8d0" opacity="0.51"/>
<rect x="1829.9" y="1199.7" width="2.8" height="2.8" fill="#f2c8d0" opacity="0.46"/>
<rect x="1780.1" y="1189.4" width="3.1" height="3.1" fill="#f2c8d0" opacity="0.61"/>
<rect x="1980.4" y="1194.0" width="2.2" height="2.2" fill="#f2c8d0" opacity="0.28"/>
<rect x="2020.9" y="1194.9" width="3.2" height="3.2" fill="#f2c8d0" opacity="0.28"/>
<rect x="1953.0" y="1206.3" width="2.8" height="2.8" fill="#f2c8d0" opacity="0.67"/>
<rect x="1940.8" y="1195.0" width="3.2" height="3.2" fill="#f2c8d0" opacity="0.41"/>
<rect x="1874.0" y="1209.5" width="2.6" height="2.6" fill="#f2c8d0" opacity="0.70"/>
<rect x="1675.0" y="1196.3" width="1.9" height="1.9" fill="#f2c8d0" opacity="0.33"/>
<rect x="1789.0" y="1189.3" width="2.8" height="2.8" fill="#f2c8d0" opacity="0.32"/>
<rect x="1901.5" y="1203.5" width="3.2" height="3.2" fill="#f2c8d0" opacity="0.54"/>
<rect x="1996.0" y="1211.4" width="2.1" height="2.1" fill="#f2c8d0" opacity="0.41"/>
<rect x="1978.2" y="1189.5" width="2.9" height="2.9" fill="#f2c8d0" opacity="0.42"/>
<rect x="1788.6" y="1199.2" width="2.8" height="2.8" fill="#f2c8d0" opacity="0.49"/>
<rect x="1764.9" y="1193.0" width="2.1" height="2.1" fill="#f2c8d0" opacity="0.45"/>
<rect x="1692.5" y="1191.2" width="2.8" height="2.8" fill="#f2c8d0" opacity="0.58"/>
<rect x="1716.3" y="1195.2" width="1.8" height="1.8" fill="#f2c8d0" opacity="0.47"/>
<rect x="1900.9" y="1195.9" width="2.7" height="2.7" fill="#f2c8d0" opacity="0.49"/>
<rect x="1954.6" y="1195.8" width="1.5" height="1.5" fill="#f2c8d0" opacity="0.37"/>
<rect x="1874.4" y="1205.0" width="2.1" height="2.1" fill="#f2c8d0" opacity="0.50"/>
<rect x="1998.4" y="1195.8" width="2.4" height="2.4" fill="#f2c8d0" opacity="0.49"/>
<rect x="1837.5" y="1201.5" width="1.7" height="1.7" fill="#f2c8d0" opacity="0.31"/>
<rect x="2014.2" y="1192.9" width="3.3" height="3.3" fill="#f2c8d0" opacity="0.57"/>
<rect x="1792.8" y="1207.9" width="1.6" height="1.6" fill="#f2c8d0" opacity="0.59"/>
<rect x="2018.5" y="1187.3" width="2.0" height="2.0" fill="#f2c8d0" opacity="0.36"/>
<rect x="1972.9" y="1200.0" width="1.8" height="1.8" fill="#f2c8d0" opacity="0.53"/>
<rect x="2021.5" y="1201.5" width="1.6" height="1.6" fill="#f2c8d0" opacity="0.34"/>
<rect x="1976.9" y="1188.6" width="1.7" height="1.7" fill="#f2c8d0" opacity="0.45"/>
<rect x="1799.4" y="1181.8" width="2.8" height="2.8" fill="#f2c8d0" opacity="0.61"/>
<rect x="1691.0" y="1204.4" width="2.6" height="2.6" fill="#f2c8d0" opacity="0.67"/>
<rect x="1916.4" y="1180.0" width="1.9" height="1.9" fill="#f2c8d0" opacity="0.28"/>
<rect x="1801.1" y="1204.9" width="1.8" height="1.8" fill="#f2c8d0" opacity="0.59"/>
<rect x="1653.6" y="1196.5" width="2.6" height="2.6" fill="#f2c8d0" opacity="0.67"/>
<rect x="1761.7" y="1200.7" width="2.2" height="2.2" fill="#f2c8d0" opacity="0.42"/>
<rect x="1824.8" y="1207.5" width="2.6" height="2.6" fill="#f2c8d0" opacity="0.26"/>
<rect x="1838.8" y="1203.3" width="3.2" height="3.2" fill="#f2c8d0" opacity="0.35"/>
<rect x="1822.6" y="1198.1" width="2.2" height="2.2" fill="#f2c8d0" opacity="0.64"/>
<rect x="1859.1" y="1191.8" width="3.0" height="3.0" fill="#f2c8d0" opacity="0.63"/>
<rect x="1703.3" y="1194.1" width="2.8" height="2.8" fill="#f2c8d0" opacity="0.39"/>
<rect x="1722.3" y="1197.2" width="3.5" height="3.5" fill="#f2c8d0" opacity="0.33"/>
<rect x="1854.8" y="1193.0" width="2.3" height="2.3" fill="#f2c8d0" opacity="0.55"/>
<rect x="1763.5" y="1195.6" width="2.3" height="2.3" fill="#f2c8d0" opacity="0.65"/>
<rect x="1908.8" y="1194.1" width="2.3" height="2.3" fill="#f2c8d0" opacity="0.45"/>
<rect x="1855.0" y="1201.0" width="2.1" height="2.1" fill="#f2c8d0" opacity="0.31"/>
<rect x="1728.9" y="1186.6" width="2.8" height="2.8" fill="#f2c8d0" opacity="0.57"/>
<rect x="1703.7" y="1182.6" width="3.4" height="3.4" fill="#f2c8d0" opacity="0.40"/>
<rect x="1823.4" y="1193.2" width="3.0" height="3.0" fill="#f2c8d0" opacity="0.25"/>
<rect x="1675.7" y="1186.0" width="3.4" height="3.4" fill="#f2c8d0" opacity="0.62"/>
<rect x="1663.4" y="1197.4" width="1.9" height="1.9" fill="#f2c8d0" opacity="0.34"/>
<rect x="2019.8" y="1203.4" width="2.7" height="2.7" fill="#f2c8d0" opacity="0.43"/>
<rect x="1926.6" y="1197.4" width="1.9" height="1.9" fill="#f2c8d0" opacity="0.64"/>
<rect x="1697.3" y="1200.5" width="1.8" height="1.8" fill="#f2c8d0" opacity="0.65"/>
<rect x="1959.4" y="1194.8" width="2.9" height="2.9" fill="#f2c8d0" opacity="0.58"/>
<rect x="1712.4" y="1196.0" width="1.9" height="1.9" fill="#f2c8d0" opacity="0.57"/>
<rect x="1934.5" y="1198.8" width="1.8" height="1.8" fill="#f2c8d0" opacity="0.60"/>
<rect x="1921.8" y="1187.8" width="2.5" height="2.5" fill="#f2c8d0" opacity="0.46"/>
<rect x="1726.6" y="1197.9" width="1.9" height="1.9" fill="#f2c8d0" opacity="0.63"/>
<rect x="1918.4" y="1197.2" width="2.4" height="2.4" fill="#f2c8d0" opacity="0.44"/>
<rect x="1979.9" y="1199.3" width="1.8" height="1.8" fill="#f2c8d0" opacity="0.45"/>
<rect x="1938.1" y="1194.3" width="3.2" height="3.2" fill="#f2c8d0" opacity="0.61"/>
<rect x="1918.6" y="1194.8" width="2.0" height="2.0" fill="#f2c8d0" opacity="0.50"/>
<rect x="1731.5" y="1190.1" width="3.4" height="3.4" fill="#f2c8d0" opacity="0.55"/>
<rect x="1737.7" y="1202.2" width="1.8" height="1.8" fill="#f2c8d0" opacity="0.38"/>
<rect x="1898.8" y="1195.0" width="2.9" height="2.9" fill="#f2c8d0" opacity="0.34"/>
<rect x="1706.6" y="1198.6" width="2.3" height="2.3" fill="#f2c8d0" opacity="0.27"/>
<rect x="1783.7" y="1201.8" width="2.8" height="2.8" fill="#f2c8d0" opacity="0.34"/>
<rect x="1899.3" y="1193.3" width="2.5" height="2.5" fill="#f2c8d0" opacity="0.26"/>
<rect x="1947.0" y="1195.6" width="3.3" height="3.3" fill="#f2c8d0" opacity="0.66"/>
<rect x="1726.2" y="1194.9" width="2.7" height="2.7" fill="#f2c8d0" opacity="0.59"/>
<rect x="1726.5" y="1201.9" width="2.4" height="2.4" fill="#f2c8d0" opacity="0.60"/>
<rect x="1940.7" y="1203.6" width="2.1" height="2.1" fill="#f2c8d0" opacity="0.51"/>
<rect x="1688.3" y="1190.8" width="1.5" height="1.5" fill="#f2c8d0" opacity="0.34"/>
<rect x="1707.8" y="1194.7" width="2.2" height="2.2" fill="#f2c8d0" opacity="0.47"/>
<rect x="1775.2" y="1200.1" width="2.2" height="2.2" fill="#f2c8d0" opacity="0.30"/>
<rect x="1966.2" y="1200.1" width="2.4" height="2.4" fill="#f2c8d0" opacity="0.59"/>
<rect x="1692.9" y="1185.5" width="1.8" height="1.8" fill="#f2c8d0" opacity="0.43"/>
<rect x="1663.6" y="1205.0" width="2.3" height="2.3" fill="#f2c8d0" opacity="0.56"/>
<rect x="1807.8" y="1198.3" width="3.2" height="3.2" fill="#f2c8d0" opacity="0.28"/>
<rect x="1926.5" y="1195.3" width="2.8" height="2.8" fill="#f2c8d0" opacity="0.29"/>
<rect x="1651.9" y="1189.4" width="2.8" height="2.8" fill="#f2c8d0" opacity="0.63"/>
<rect x="1765.3" y="1195.8" width="2.0" height="2.0" fill="#f2c8d0" opacity="0.32"/>
<rect x="1752.8" y="1199.3" width="2.6" height="2.6" fill="#f2c8d0" opacity="0.40"/>
<rect x="1743.5" y="1194.1" width="2.0" height="2.0" fill="#f2c8d0" opacity="0.68"/>
<rect x="1757.7" y="1195.1" width="2.6" height="2.6" fill="#f2c8d0" opacity="0.69"/>
<rect x="1995.2" y="1194.7" width="2.0" height="2.0" fill="#f2c8d0" opacity="0.29"/>
<rect x="1690.2" y="1187.4" width="1.6" height="1.6" fill="#f2c8d0" opacity="0.61"/>
<rect x="1916.5" y="1198.8" width="1.7" height="1.7" fill="#f2c8d0" opacity="0.33"/>
<rect x="1969.6" y="1207.3" width="3.5" height="3.5" fill="#f2c8d0" opacity="0.44"/>
<rect x="1887.2" y="1203.1" width="1.7" height="1.7" fill="#f2c8d0" opacity="0.55"/>
<rect x="1732.7" y="1201.8" width="2.0" height="2.0" fill="#f2c8d0" opacity="0.60"/>
<rect x="1844.9" y="1201.5" width="1.6" height="1.6" fill="#f2c8d0" opacity="0.40"/>
<rect x="1687.3" y="1184.1" width="1.9" height="1.9" fill="#f2c8d0" opacity="0.60"/>
<rect x="1716.4" y="1195.0" width="3.0" height="3.0" fill="#f2c8d0" opacity="0.52"/>
<rect x="1719.5" y="1198.8" width="2.1" height="2.1" fill="#f2c8d0" opacity="0.67"/>
<rect x="1948.9" y="1208.2" width="1.8" height="1.8" fill="#f2c8d0" opacity="0.48"/>
<rect x="1713.5" y="1198.5" width="3.1" height="3.1" fill="#f2c8d0" opacity="0.60"/>
<rect x="1727.4" y="1205.5" width="2.9" height="2.9" fill="#f2c8d0" opacity="0.28"/>
<rect x="1651.1" y="1191.1" width="3.3" height="3.3" fill="#f2c8d0" opacity="0.27"/>
<rect x="1849.7" y="1194.7" width="2.7" height="2.7" fill="#f2c8d0" opacity="0.28"/>
<rect x="1979.3" y="1198.3" width="1.6" height="1.6" fill="#f2c8d0" opacity="0.41"/>
<rect x="1806.3" y="1185.1" width="2.7" height="2.7" fill="#f2c8d0" opacity="0.61"/>
<rect x="1837.2" y="1180.8" width="3.0" height="3.0" fill="#f2c8d0" opacity="0.47"/>
<rect x="1748.5" y="1193.9" width="1.6" height="1.6" fill="#f2c8d0" opacity="0.46"/>
<rect x="1949.6" y="1190.4" width="2.9" height="2.9" fill="#f2c8d0" opacity="0.32"/>
<rect x="1796.6" y="1185.4" width="2.5" height="2.5" fill="#f2c8d0" opacity="0.59"/>
<rect x="1875.6" y="1183.2" width="2.8" height="2.8" fill="#f2c8d0" opacity="0.53"/>
<rect x="1675.9" y="1198.6" width="3.0" height="3.0" fill="#f2c8d0" opacity="0.63"/>
<rect x="1741.2" y="1183.6" width="2.7" height="2.7" fill="#f2c8d0" opacity="0.50"/>
<rect x="1983.5" y="1181.4" width="3.3" height="3.3" fill="#f2c8d0" opacity="0.27"/>
<rect x="1902.2" y="1188.6" width="2.3" height="2.3" fill="#f2c8d0" opacity="0.53"/>
<rect x="1944.1" y="1192.2" width="3.4" height="3.4" fill="#f2c8d0" opacity="0.35"/>
<rect x="1905.3" y="1201.7" width="3.1" height="3.1" fill="#f2c8d0" opacity="0.55"/>
<rect x="1993.6" y="1190.6" width="2.1" height="2.1" fill="#f2c8d0" opacity="0.52"/>
<rect x="2011.4" y="1198.7" width="3.3" height="3.3" fill="#f2c8d0" opacity="0.46"/>
<rect x="1806.1" y="1194.8" width="2.6" height="2.6" fill="#f2c8d0" opacity="0.29"/>
<rect x="1799.7" y="1199.8" width="2.4" height="2.4" fill="#f2c8d0" opacity="0.26"/>
<rect x="1777.6" y="1200.5" width="3.3" height="3.3" fill="#f2c8d0" opacity="0.43"/>
<rect x="1854.5" y="1195.8" width="2.0" height="2.0" fill="#f2c8d0" opacity="0.35"/>
<rect x="1888.3" y="1185.4" width="2.3" height="2.3" fill="#f2c8d0" opacity="0.40"/>
<rect x="1707.3" y="1206.6" width="1.8" height="1.8" fill="#f2c8d0" opacity="0.41"/>
<rect x="1960.0" y="1209.2" width="2.1" height="2.1" fill="#f2c8d0" opacity="0.39"/>
<rect x="1983.0" y="1183.9" width="3.1" height="3.1" fill="#f2c8d0" opacity="0.52"/>
<rect x="1975.6" y="1202.9" width="1.5" height="1.5" fill="#f2c8d0" opacity="0.63"/>
<rect x="1689.4" y="1194.6" width="2.0" height="2.0" fill="#f2c8d0" opacity="0.50"/>
<rect x="1899.7" y="1195.1" width="3.5" height="3.5" fill="#f2c8d0" opacity="0.58"/>
<rect x="1936.2" y="1185.5" width="2.8" height="2.8" fill="#f2c8d0" opacity="0.31"/>
<rect x="1936.3" y="1195.8" width="2.5" height="2.5" fill="#f2c8d0" opacity="0.40"/>
<rect x="1751.2" y="1203.3" width="2.1" height="2.1" fill="#f2c8d0" opacity="0.39"/>
<rect x="1919.5" y="1189.5" width="3.1" height="3.1" fill="#f2c8d0" opacity="0.28"/>
<rect x="1898.7" y="1180.7" width="2.5" height="2.5" fill="#f2c8d0" opacity="0.56"/>
<rect x="1656.8" y="1206.4" width="1.7" height="1.7" fill="#f2c8d0" opacity="0.42"/>
<rect x="1768.2" y="1185.6" width="2.5" height="2.5" fill="#f2c8d0" opacity="0.32"/>
<rect x="1880.7" y="1180.0" width="2.5" height="2.5" fill="#f2c8d0" opacity="0.25"/>
<rect x="2005.9" y="1200.4" width="2.0" height="2.0" fill="#f2c8d0" opacity="0.33"/>
<rect x="1998.8" y="1180.0" width="1.8" height="1.8" fill="#f2c8d0" opacity="0.52"/>
<rect x="2023.2" y="1194.8" width="2.8" height="2.8" fill="#f2c8d0" opacity="0.36"/>
<rect x="1943.7" y="1204.8" width="2.3" height="2.3" fill="#f2c8d0" opacity="0.29"/>
<rect x="2011.0" y="1197.4" width="2.8" height="2.8" fill="#f2c8d0" opacity="0.47"/>
<rect x="2020.3" y="1186.3" width="2.1" height="2.1" fill="#f2c8d0" opacity="0.63"/>
<rect x="1838.4" y="1207.7" width="1.6" height="1.6" fill="#f2c8d0" opacity="0.49"/>
<rect x="1989.6" y="1199.9" width="1.6" height="1.6" fill="#f2c8d0" opacity="0.39"/>
<rect x="1847.8" y="1208.2" width="2.9" height="2.9" fill="#f2c8d0" opacity="0.66"/>
<rect x="1873.2" y="1208.0" width="2.2" height="2.2" fill="#f2c8d0" opacity="0.56"/>
<rect x="1753.5" y="1193.8" width="3.3" height="3.3" fill="#f2c8d0" opacity="0.46"/>
<rect x="1885.9" y="1202.4" width="2.9" height="2.9" fill="#f2c8d0" opacity="0.41"/>
<rect x="1771.5" y="1192.9" width="3.1" height="3.1" fill="#f2c8d0" opacity="0.46"/>
<rect x="1692.7" y="1204.8" width="2.5" height="2.5" fill="#f2c8d0" opacity="0.43"/>
<rect x="1710.7" y="1191.6" width="3.3" height="3.3" fill="#f2c8d0" opacity="0.27"/>
<rect x="1756.0" y="1185.9" width="3.2" height="3.2" fill="#f2c8d0" opacity="0.44"/>
<rect x="1679.1" y="1193.7" width="2.3" height="2.3" fill="#f2c8d0" opacity="0.57"/>
<rect x="1800.3" y="1201.1" width="1.7" height="1.7" fill="#f2c8d0" opacity="0.45"/>
<rect x="1654.5" y="1183.2" width="2.6" height="2.6" fill="#f2c8d0" opacity="0.56"/>
<rect x="1766.1" y="1190.7" width="3.5" height="3.5" fill="#f2c8d0" opacity="0.65"/>
<rect x="1982.7" y="1192.0" width="1.7" height="1.7" fill="#f2c8d0" opacity="0.52"/>
<rect x="1964.8" y="1201.6" width="3.4" height="3.4" fill="#f2c8d0" opacity="0.32"/>
<rect x="1717.0" y="1186.4" width="2.9" height="2.9" fill="#f2c8d0" opacity="0.58"/>
<rect x="1694.8" y="1184.9" width="3.1" height="3.1" fill="#f2c8d0" opacity="0.63"/>
<rect x="1802.0" y="1203.7" width="2.5" height="2.5" fill="#f2c8d0" opacity="0.40"/>
<rect x="1978.7" y="1195.1" width="3.0" height="3.0" fill="#f2c8d0" opacity="0.44"/>
<rect x="2002.4" y="1192.2" width="2.1" height="2.1" fill="#f2c8d0" opacity="0.35"/>
<rect x="1909.1" y="1198.3" width="1.5" height="1.5" fill="#f2c8d0" opacity="0.51"/>
<rect x="1739.5" y="1194.8" width="2.4" height="2.4" fill="#f2c8d0" opacity="0.35"/>
<rect x="1926.9" y="1198.3" width="3.2" height="3.2" fill="#f2c8d0" opacity="0.31"/>
<rect x="1734.4" y="1185.6" width="3.2" height="3.2" fill="#f2c8d0" opacity="0.36"/>
<rect x="1697.5" y="1195.6" width="3.4" height="3.4" fill="#f2c8d0" opacity="0.67"/>
<rect x="1794.8" y="1197.8" width="2.1" height="2.1" fill="#f2c8d0" opacity="0.54"/>
<rect x="1982.7" y="1184.8" width="2.9" height="2.9" fill="#f2c8d0" opacity="0.60"/>
<rect x="1879.8" y="1206.0" width="2.5" height="2.5" fill="#f2c8d0" opacity="0.52"/>
<rect x="1993.5" y="1193.6" width="2.6" height="2.6" fill="#f2c8d0" opacity="0.65"/>
<rect x="1679.9" y="1202.2" width="1.5" height="1.5" fill="#f2c8d0" opacity="0.48"/>
<rect x="1696.3" y="1200.7" width="2.4" height="2.4" fill="#f2c8d0" opacity="0.59"/>
<rect x="1819.8" y="1194.6" width="2.5" height="2.5" fill="#f2c8d0" opacity="0.69"/>
<rect x="1874.3" y="1194.5" width="2.6" height="2.6" fill="#f2c8d0" opacity="0.46"/>
<rect x="1833.8" y="1195.0" width="2.1" height="2.1" fill="#f2c8d0" opacity="0.67"/>
<rect x="2016.6" y="1191.0" width="2.6" height="2.6" fill="#f2c8d0" opacity="0.62"/>
<rect x="1757.0" y="1195.0" width="3.4" height="3.4" fill="#f2c8d0" opacity="0.51"/>
<rect x="1921.0" y="1196.7" width="3.1" height="3.1" fill="#f2c8d0" opacity="0.37"/>
<rect x="1792.3" y="1200.3" width="3.4" height="3.4" fill="#f2c8d0" opacity="0.37"/>
<rect x="1684.0" y="1201.3" width="3.4" height="3.4" fill="#f2c8d0" opacity="0.43"/>
<rect x="1903.4" y="1200.5" width="3.3" height="3.3" fill="#f2c8d0" opacity="0.27"/>
<rect x="1791.1" y="1185.9" width="2.0" height="2.0" fill="#f2c8d0" opacity="0.54"/>
<rect x="1868.7" y="1194.0" width="2.4" height="2.4" fill="#f2c8d0" opacity="0.69"/>
<rect x="1966.9" y="1252.3" width="2.7" height="2.7" fill="#f2c8d0" opacity="0.30"/>
<rect x="1709.6" y="1252.5" width="3.0" height="3.0" fill="#f2c8d0" opacity="0.28"/>
<rect x="1973.1" y="1260.1" width="3.1" height="3.1" fill="#f2c8d0" opacity="0.58"/>
<rect x="1928.4" y="1254.6" width="1.9" height="1.9" fill="#f2c8d0" opacity="0.59"/>
<rect x="1951.7" y="1252.2" width="1.5" height="1.5" fill="#f2c8d0" opacity="0.58"/>
<rect x="1870.7" y="1259.9" width="1.5" height="1.5" fill="#f2c8d0" opacity="0.41"/>
<rect x="1800.4" y="1256.6" width="3.0" height="3.0" fill="#f2c8d0" opacity="0.49"/>
<rect x="1850.8" y="1249.7" width="2.8" height="2.8" fill="#f2c8d0" opacity="0.50"/>
<rect x="1763.6" y="1253.0" width="3.0" height="3.0" fill="#f2c8d0" opacity="0.56"/>
<rect x="1801.6" y="1255.3" width="1.6" height="1.6" fill="#f2c8d0" opacity="0.57"/>
<rect x="1928.2" y="1250.2" width="2.2" height="2.2" fill="#f2c8d0" opacity="0.65"/>
<rect x="1825.0" y="1259.8" width="1.7" height="1.7" fill="#f2c8d0" opacity="0.40"/>
<rect x="1764.7" y="1261.7" width="3.2" height="3.2" fill="#f2c8d0" opacity="0.49"/>
<rect x="1740.4" y="1248.2" width="2.3" height="2.3" fill="#f2c8d0" opacity="0.41"/>
<rect x="1886.3" y="1256.1" width="2.1" height="2.1" fill="#f2c8d0" opacity="0.62"/>
<rect x="1836.8" y="1253.1" width="3.0" height="3.0" fill="#f2c8d0" opacity="0.58"/>
<rect x="1707.9" y="1257.0" width="1.8" height="1.8" fill="#f2c8d0" opacity="0.30"/>
<rect x="1912.0" y="1251.7" width="2.6" height="2.6" fill="#f2c8d0" opacity="0.26"/>
<rect x="1942.8" y="1255.5" width="3.1" height="3.1" fill="#f2c8d0" opacity="0.34"/>
<rect x="1856.2" y="1253.7" width="3.3" height="3.3" fill="#f2c8d0" opacity="0.64"/>
<rect x="1771.8" y="1250.4" width="3.0" height="3.0" fill="#f2c8d0" opacity="0.66"/>
<rect x="1652.6" y="1252.6" width="1.9" height="1.9" fill="#f2c8d0" opacity="0.41"/>
<rect x="1967.0" y="1259.9" width="3.4" height="3.4" fill="#f2c8d0" opacity="0.45"/>
<rect x="1855.9" y="1258.2" width="3.3" height="3.3" fill="#f2c8d0" opacity="0.56"/>
<rect x="1979.1" y="1254.3" width="2.9" height="2.9" fill="#f2c8d0" opacity="0.64"/>
<rect x="1710.8" y="1249.4" width="2.8" height="2.8" fill="#f2c8d0" opacity="0.64"/>
<rect x="2006.4" y="1253.2" width="3.3" height="3.3" fill="#f2c8d0" opacity="0.52"/>
<rect x="1692.6" y="1250.1" width="2.5" height="2.5" fill="#f2c8d0" opacity="0.42"/>
<rect x="1901.9" y="1256.3" width="1.5" height="1.5" fill="#f2c8d0" opacity="0.50"/>
<rect x="1918.3" y="1247.0" width="1.9" height="1.9" fill="#f2c8d0" opacity="0.58"/>
<rect x="1883.2" y="1254.4" width="1.9" height="1.9" fill="#f2c8d0" opacity="0.25"/>
<rect x="1818.0" y="1261.7" width="2.3" height="2.3" fill="#f2c8d0" opacity="0.67"/>
<rect x="1995.4" y="1254.2" width="2.6" height="2.6" fill="#f2c8d0" opacity="0.51"/>
<rect x="1798.9" y="1253.0" width="1.6" height="1.6" fill="#f2c8d0" opacity="0.46"/>
<rect x="1822.4" y="1259.7" width="3.3" height="3.3" fill="#f2c8d0" opacity="0.29"/>
<rect x="1701.6" y="1252.4" width="2.6" height="2.6" fill="#f2c8d0" opacity="0.53"/>
<rect x="1766.4" y="1246.0" width="2.3" height="2.3" fill="#f2c8d0" opacity="0.65"/>
<rect x="1676.0" y="1253.5" width="1.6" height="1.6" fill="#f2c8d0" opacity="0.54"/>
<rect x="1680.8" y="1249.5" width="3.1" height="3.1" fill="#f2c8d0" opacity="0.49"/>
<rect x="1904.1" y="1252.2" width="2.8" height="2.8" fill="#f2c8d0" opacity="0.53"/>
<rect x="1814.5" y="1251.8" width="1.9" height="1.9" fill="#f2c8d0" opacity="0.33"/>
<rect x="1832.5" y="1250.0" width="3.2" height="3.2" fill="#f2c8d0" opacity="0.34"/>
<rect x="1904.9" y="1253.5" width="3.5" height="3.5" fill="#f2c8d0" opacity="0.53"/>
<rect x="1681.1" y="1248.8" width="2.5" height="2.5" fill="#f2c8d0" opacity="0.55"/>
<rect x="1681.6" y="1254.5" width="3.5" height="3.5" fill="#f2c8d0" opacity="0.29"/>
<rect x="1748.6" y="1261.3" width="2.1" height="2.1" fill="#f2c8d0" opacity="0.38"/>
<rect x="1827.9" y="1251.2" width="1.9" height="1.9" fill="#f2c8d0" opacity="0.29"/>
<rect x="1665.7" y="1252.5" width="2.9" height="2.9" fill="#f2c8d0" opacity="0.60"/>
<rect x="1727.0" y="1246.4" width="3.3" height="3.3" fill="#f2c8d0" opacity="0.51"/>
<rect x="1725.9" y="1260.7" width="3.0" height="3.0" fill="#f2c8d0" opacity="0.59"/>
<rect x="1678.7" y="1255.2" width="3.0" height="3.0" fill="#f2c8d0" opacity="0.55"/>
<rect x="1698.6" y="1254.2" width="3.3" height="3.3" fill="#f2c8d0" opacity="0.61"/>
<rect x="1669.7" y="1251.8" width="2.0" height="2.0" fill="#f2c8d0" opacity="0.31"/>
<rect x="1933.6" y="1252.0" width="3.2" height="3.2" fill="#f2c8d0" opacity="0.26"/>
<rect x="1787.6" y="1255.1" width="3.4" height="3.4" fill="#f2c8d0" opacity="0.55"/>
<rect x="1820.4" y="1255.8" width="2.7" height="2.7" fill="#f2c8d0" opacity="0.59"/>
<rect x="1920.2" y="1251.1" width="1.5" height="1.5" fill="#f2c8d0" opacity="0.49"/>
<rect x="1772.7" y="1259.6" width="2.6" height="2.6" fill="#f2c8d0" opacity="0.41"/>
<rect x="1943.8" y="1260.0" width="2.0" height="2.0" fill="#f2c8d0" opacity="0.40"/>
<rect x="1678.5" y="1254.1" width="1.8" height="1.8" fill="#f2c8d0" opacity="0.27"/>
<rect x="1956.5" y="1251.2" width="1.6" height="1.6" fill="#f2c8d0" opacity="0.30"/>
<rect x="1814.9" y="1255.4" width="1.9" height="1.9" fill="#f2c8d0" opacity="0.27"/>
<rect x="1888.9" y="1254.2" width="3.4" height="3.4" fill="#f2c8d0" opacity="0.48"/>
<rect x="1929.5" y="1261.9" width="2.8" height="2.8" fill="#f2c8d0" opacity="0.54"/>
<rect x="1728.5" y="1254.2" width="2.9" height="2.9" fill="#f2c8d0" opacity="0.44"/>
<rect x="1692.6" y="1246.7" width="3.4" height="3.4" fill="#f2c8d0" opacity="0.52"/>
<rect x="1871.1" y="1258.3" width="2.1" height="2.1" fill="#f2c8d0" opacity="0.43"/>
<rect x="1773.0" y="1261.4" width="3.4" height="3.4" fill="#f2c8d0" opacity="0.29"/>
<rect x="1961.8" y="1250.9" width="2.8" height="2.8" fill="#f2c8d0" opacity="0.58"/>
<rect x="1701.1" y="1250.2" width="1.6" height="1.6" fill="#f2c8d0" opacity="0.28"/>
<rect x="1790.8" y="1259.0" width="2.6" height="2.6" fill="#f2c8d0" opacity="0.28"/>
<rect x="1676.8" y="1256.7" width="2.6" height="2.6" fill="#f2c8d0" opacity="0.58"/>
<rect x="1883.4" y="1246.8" width="3.3" height="3.3" fill="#f2c8d0" opacity="0.45"/>
<rect x="1974.0" y="1253.5" width="2.0" height="2.0" fill="#f2c8d0" opacity="0.43"/>
<rect x="1900.8" y="1258.9" width="3.3" height="3.3" fill="#f2c8d0" opacity="0.64"/>
<rect x="1815.8" y="1262.0" width="2.1" height="2.1" fill="#f2c8d0" opacity="0.34"/>
<rect x="1789.7" y="1254.4" width="1.9" height="1.9" fill="#f2c8d0" opacity="0.41"/>
<rect x="1770.8" y="1252.4" width="2.7" height="2.7" fill="#f2c8d0" opacity="0.63"/>
<rect x="1676.2" y="1259.2" width="2.8" height="2.8" fill="#f2c8d0" opacity="0.39"/>
<rect x="1744.7" y="1257.3" width="1.6" height="1.6" fill="#f2c8d0" opacity="0.47"/>
<rect x="1951.3" y="1256.5" width="1.7" height="1.7" fill="#f2c8d0" opacity="0.51"/>
<rect x="1672.3" y="1254.9" width="2.1" height="2.1" fill="#f2c8d0" opacity="0.37"/>
<rect x="1985.1" y="1257.0" width="2.6" height="2.6" fill="#f2c8d0" opacity="0.33"/>
<rect x="1783.0" y="1252.7" width="3.0" height="3.0" fill="#f2c8d0" opacity="0.42"/>
<rect x="1709.8" y="1250.3" width="3.3" height="3.3" fill="#f2c8d0" opacity="0.32"/>
<rect x="1923.9" y="1247.9" width="3.4" height="3.4" fill="#f2c8d0" opacity="0.26"/>
<rect x="1883.5" y="1258.5" width="3.2" height="3.2" fill="#f2c8d0" opacity="0.36"/>
<rect x="1971.4" y="1250.1" width="2.0" height="2.0" fill="#f2c8d0" opacity="0.25"/>
<rect x="1685.9" y="1251.6" width="2.1" height="2.1" fill="#f2c8d0" opacity="0.46"/>
<rect x="1825.5" y="1256.4" width="1.7" height="1.7" fill="#f2c8d0" opacity="0.50"/>
<rect x="1827.2" y="1250.7" width="3.3" height="3.3" fill="#f2c8d0" opacity="0.66"/>
<rect x="1803.3" y="1256.3" width="1.6" height="1.6" fill="#f2c8d0" opacity="0.34"/>
<rect x="1745.8" y="1251.6" width="2.2" height="2.2" fill="#f2c8d0" opacity="0.28"/>
<rect x="1833.4" y="1254.9" width="2.5" height="2.5" fill="#f2c8d0" opacity="0.35"/>
<rect x="1870.0" y="1262.0" width="2.3" height="2.3" fill="#f2c8d0" opacity="0.28"/>
<rect x="1805.5" y="1254.0" width="1.6" height="1.6" fill="#f2c8d0" opacity="0.48"/>
<rect x="1833.8" y="1253.3" width="2.5" height="2.5" fill="#f2c8d0" opacity="0.46"/>
<rect x="1990.6" y="1255.5" width="3.1" height="3.1" fill="#f2c8d0" opacity="0.31"/>
<rect x="1940.4" y="1252.9" width="2.1" height="2.1" fill="#f2c8d0" opacity="0.61"/>
<rect x="1674.5" y="1252.8" width="2.9" height="2.9" fill="#f2c8d0" opacity="0.46"/>
<rect x="1742.6" y="1249.1" width="3.1" height="3.1" fill="#f2c8d0" opacity="0.66"/>
<rect x="1881.7" y="1253.7" width="2.9" height="2.9" fill="#f2c8d0" opacity="0.26"/>
<rect x="1883.4" y="1254.7" width="1.8" height="1.8" fill="#f2c8d0" opacity="0.41"/>
<rect x="1789.4" y="1248.9" width="3.3" height="3.3" fill="#f2c8d0" opacity="0.39"/>
<rect x="1665.0" y="1257.2" width="2.8" height="2.8" fill="#f2c8d0" opacity="0.56"/>
<rect x="1655.6" y="1250.0" width="2.4" height="2.4" fill="#f2c8d0" opacity="0.58"/>
<rect x="1811.8" y="1255.7" width="3.5" height="3.5" fill="#f2c8d0" opacity="0.63"/>
<rect x="1759.6" y="1251.7" width="2.1" height="2.1" fill="#f2c8d0" opacity="0.34"/>
<rect x="1673.8" y="1256.1" width="2.2" height="2.2" fill="#f2c8d0" opacity="0.47"/>
<rect x="1673.7" y="1254.3" width="2.2" height="2.2" fill="#f2c8d0" opacity="0.63"/>
<rect x="1917.3" y="1252.9" width="3.3" height="3.3" fill="#f2c8d0" opacity="0.34"/>
<rect x="1819.4" y="1251.9" width="2.1" height="2.1" fill="#f2c8d0" opacity="0.60"/>
<rect x="1747.6" y="1259.8" width="1.6" height="1.6" fill="#f2c8d0" opacity="0.33"/>
<rect x="1798.7" y="1253.1" width="2.9" height="2.9" fill="#f2c8d0" opacity="0.51"/>
<rect x="1927.2" y="1254.5" width="1.8" height="1.8" fill="#f2c8d0" opacity="0.62"/>
<rect x="1868.4" y="1260.7" width="2.5" height="2.5" fill="#f2c8d0" opacity="0.50"/>
<rect x="1789.2" y="1253.7" width="2.0" height="2.0" fill="#f2c8d0" opacity="0.44"/>
<rect x="1977.7" y="1258.5" width="3.5" height="3.5" fill="#f2c8d0" opacity="0.31"/>
<rect x="1765.6" y="1254.0" width="2.3" height="2.3" fill="#f2c8d0" opacity="0.29"/>
<rect x="1945.0" y="1251.9" width="3.1" height="3.1" fill="#f2c8d0" opacity="0.36"/>
<rect x="1855.3" y="1254.3" width="3.0" height="3.0" fill="#f2c8d0" opacity="0.69"/>
<rect x="1906.3" y="1256.0" width="1.7" height="1.7" fill="#f2c8d0" opacity="0.45"/>
<rect x="1945.1" y="1261.5" width="1.6" height="1.6" fill="#f2c8d0" opacity="0.59"/>
<rect x="1713.1" y="1252.5" width="1.8" height="1.8" fill="#f2c8d0" opacity="0.28"/>
<rect x="1785.7" y="1252.4" width="2.9" height="2.9" fill="#f2c8d0" opacity="0.51"/>
<rect x="1810.7" y="1258.9" width="2.5" height="2.5" fill="#f2c8d0" opacity="0.49"/>
<rect x="1894.7" y="1251.1" width="2.6" height="2.6" fill="#f2c8d0" opacity="0.45"/>
<rect x="1863.2" y="1257.1" width="2.0" height="2.0" fill="#f2c8d0" opacity="0.42"/>
<rect x="1959.4" y="1258.9" width="2.3" height="2.3" fill="#f2c8d0" opacity="0.68"/>
<rect x="1742.7" y="1252.6" width="3.1" height="3.1" fill="#f2c8d0" opacity="0.57"/>
<rect x="1670.5" y="1253.0" width="2.2" height="2.2" fill="#f2c8d0" opacity="0.66"/>
<rect x="1810.2" y="1251.8" width="2.2" height="2.2" fill="#f2c8d0" opacity="0.59"/>
<rect x="1994.2" y="1257.0" width="2.1" height="2.1" fill="#f2c8d0" opacity="0.69"/>
<rect x="2002.2" y="1251.5" width="1.7" height="1.7" fill="#f2c8d0" opacity="0.69"/>
<rect x="1845.3" y="1252.5" width="3.0" height="3.0" fill="#f2c8d0" opacity="0.42"/>
<rect x="1905.0" y="1255.1" width="2.3" height="2.3" fill="#f2c8d0" opacity="0.47"/>
<rect x="1781.4" y="1259.0" width="3.3" height="3.3" fill="#f2c8d0" opacity="0.30"/>
<rect x="1833.6" y="1253.9" width="3.3" height="3.3" fill="#f2c8d0" opacity="0.53"/>
<rect x="1882.7" y="1250.2" width="2.2" height="2.2" fill="#f2c8d0" opacity="0.49"/>
<rect x="1774.2" y="1254.7" width="3.0" height="3.0" fill="#f2c8d0" opacity="0.39"/>
<rect x="1942.1" y="1252.2" width="3.1" height="3.1" fill="#f2c8d0" opacity="0.43"/>
<rect x="1692.2" y="1249.0" width="2.8" height="2.8" fill="#f2c8d0" opacity="0.38"/>
<rect x="1848.1" y="1254.8" width="2.7" height="2.7" fill="#f2c8d0" opacity="0.60"/>
<rect x="1782.9" y="1256.6" width="3.2" height="3.2" fill="#f2c8d0" opacity="0.54"/>
<rect x="1708.8" y="1257.6" width="2.8" height="2.8" fill="#f2c8d0" opacity="0.60"/>
<rect x="1666.4" y="1255.5" width="3.3" height="3.3" fill="#f2c8d0" opacity="0.52"/>
<rect x="1798.4" y="1253.2" width="3.1" height="3.1" fill="#f2c8d0" opacity="0.63"/>
<rect x="1680.9" y="1253.7" width="2.0" height="2.0" fill="#f2c8d0" opacity="0.33"/>
<rect x="1712.8" y="1259.0" width="2.0" height="2.0" fill="#f2c8d0" opacity="0.26"/>
<rect x="1679.7" y="1250.4" width="1.7" height="1.7" fill="#f2c8d0" opacity="0.34"/>
<rect x="1819.2" y="1256.9" width="2.1" height="2.1" fill="#f2c8d0" opacity="0.59"/>
<rect x="1964.9" y="1255.5" width="2.2" height="2.2" fill="#f2c8d0" opacity="0.67"/>
<rect x="1745.0" y="1253.9" width="1.6" height="1.6" fill="#f2c8d0" opacity="0.69"/>
<rect x="1697.4" y="1255.3" width="3.2" height="3.2" fill="#f2c8d0" opacity="0.40"/>
<rect x="1830.6" y="1257.0" width="3.5" height="3.5" fill="#f2c8d0" opacity="0.61"/>
<rect x="1920.5" y="1257.7" width="3.2" height="3.2" fill="#f2c8d0" opacity="0.44"/>
<rect x="1756.3" y="1257.0" width="1.6" height="1.6" fill="#f2c8d0" opacity="0.46"/>
<rect x="1673.6" y="1254.3" width="1.8" height="1.8" fill="#f2c8d0" opacity="0.61"/>
<rect x="1812.8" y="1247.7" width="2.7" height="2.7" fill="#f2c8d0" opacity="0.62"/>
<rect x="1819.9" y="1255.3" width="2.4" height="2.4" fill="#f2c8d0" opacity="0.26"/>
<rect x="1986.1" y="1255.4" width="2.4" height="2.4" fill="#f2c8d0" opacity="0.59"/>
<rect x="1830.5" y="1260.6" width="2.5" height="2.5" fill="#f2c8d0" opacity="0.40"/>
<rect x="1670.5" y="1254.1" width="2.5" height="2.5" fill="#f2c8d0" opacity="0.35"/>
<rect x="1908.4" y="1254.8" width="2.4" height="2.4" fill="#f2c8d0" opacity="0.34"/>
<rect x="1716.2" y="1262.0" width="3.3" height="3.3" fill="#f2c8d0" opacity="0.31"/>
<rect x="1672.3" y="1253.0" width="2.4" height="2.4" fill="#f2c8d0" opacity="0.40"/>
<rect x="1903.5" y="1251.7" width="3.1" height="3.1" fill="#f2c8d0" opacity="0.43"/>
<rect x="1838.2" y="1249.0" width="2.1" height="2.1" fill="#f2c8d0" opacity="0.60"/>
<rect x="1763.6" y="1253.2" width="2.0" height="2.0" fill="#f2c8d0" opacity="0.33"/>
<rect x="1876.6" y="1257.0" width="2.0" height="2.0" fill="#f2c8d0" opacity="0.26"/>
<rect x="1765.4" y="1255.2" width="3.2" height="3.2" fill="#f2c8d0" opacity="0.56"/>
<rect x="1821.5" y="1248.5" width="2.1" height="2.1" fill="#f2c8d0" opacity="0.28"/>
<rect x="1887.2" y="1251.3" width="1.6" height="1.6" fill="#f2c8d0" opacity="0.61"/>
<rect x="1834.9" y="1251.4" width="2.4" height="2.4" fill="#f2c8d0" opacity="0.63"/>
<rect x="1987.7" y="1249.2" width="2.6" height="2.6" fill="#f2c8d0" opacity="0.60"/>
<rect x="1910.9" y="1256.7" width="2.1" height="2.1" fill="#f2c8d0" opacity="0.27"/>
<rect x="1926.9" y="1260.8" width="1.8" height="1.8" fill="#f2c8d0" opacity="0.64"/>
<rect x="1989.6" y="1258.2" width="2.6" height="2.6" fill="#f2c8d0" opacity="0.28"/>
<rect x="1896.3" y="1259.0" width="3.2" height="3.2" fill="#f2c8d0" opacity="0.55"/>
<rect x="1772.7" y="1255.1" width="2.5" height="2.5" fill="#f2c8d0" opacity="0.32"/>
<rect x="1901.1" y="1252.8" width="1.6" height="1.6" fill="#f2c8d0" opacity="0.66"/>
<rect x="1891.3" y="1248.4" width="2.6" height="2.6" fill="#f2c8d0" opacity="0.57"/>
<rect x="1763.8" y="1256.0" width="2.3" height="2.3" fill="#f2c8d0" opacity="0.36"/>
<rect x="1789.3" y="1249.6" width="3.1" height="3.1" fill="#f2c8d0" opacity="0.57"/>
<rect x="1780.5" y="1257.0" width="2.6" height="2.6" fill="#f2c8d0" opacity="0.29"/>
<rect x="1989.5" y="1251.5" width="3.4" height="3.4" fill="#f2c8d0" opacity="0.57"/>
<rect x="1789.2" y="1254.3" width="3.1" height="3.1" fill="#f2c8d0" opacity="0.59"/>
<rect x="1791.6" y="1256.2" width="1.9" height="1.9" fill="#f2c8d0" opacity="0.60"/>
<rect x="1919.6" y="1257.5" width="3.2" height="3.2" fill="#f2c8d0" opacity="0.48"/>
<rect x="1938.8" y="1251.9" width="1.6" height="1.6" fill="#f2c8d0" opacity="0.48"/>
<rect x="1943.1" y="1250.8" width="2.7" height="2.7" fill="#f2c8d0" opacity="0.39"/>
<rect x="1912.6" y="1246.0" width="3.2" height="3.2" fill="#f2c8d0" opacity="0.56"/>
<rect x="1887.5" y="1254.1" width="2.0" height="2.0" fill="#f2c8d0" opacity="0.40"/>
<rect x="1933.5" y="1254.0" width="2.0" height="2.0" fill="#f2c8d0" opacity="0.27"/>
<rect x="1663.5" y="1256.5" width="2.1" height="2.1" fill="#f2c8d0" opacity="0.65"/>
<rect x="1991.9" y="1254.0" width="2.1" height="2.1" fill="#f2c8d0" opacity="0.53"/>
<rect x="1792.0" y="1252.2" width="1.5" height="1.5" fill="#f2c8d0" opacity="0.55"/>
<rect x="1922.3" y="1262.0" width="3.0" height="3.0" fill="#f2c8d0" opacity="0.51"/>
<rect x="1978.3" y="1256.1" width="1.6" height="1.6" fill="#f2c8d0" opacity="0.65"/>
<rect x="1711.7" y="1249.4" width="1.8" height="1.8" fill="#f2c8d0" opacity="0.39"/>
<rect x="1831.6" y="1252.3" width="2.1" height="2.1" fill="#f2c8d0" opacity="0.36"/>
<rect x="1906.8" y="1257.4" width="2.8" height="2.8" fill="#f2c8d0" opacity="0.27"/>
<rect x="1972.5" y="1255.4" width="3.0" height="3.0" fill="#f2c8d0" opacity="0.64"/>
<rect x="1993.7" y="1256.7" width="3.2" height="3.2" fill="#f2c8d0" opacity="0.49"/>
<rect x="1978.0" y="1255.8" width="3.5" height="3.5" fill="#f2c8d0" opacity="0.68"/>
<rect x="1819.3" y="1247.5" width="2.4" height="2.4" fill="#f2c8d0" opacity="0.59"/>
<rect x="1951.4" y="1253.6" width="1.6" height="1.6" fill="#f2c8d0" opacity="0.30"/>
<rect x="1969.2" y="1250.7" width="3.3" height="3.3" fill="#f2c8d0" opacity="0.26"/>
<rect x="1783.2" y="1250.9" width="1.6" height="1.6" fill="#f2c8d0" opacity="0.64"/>
<rect x="1880.4" y="1251.3" width="2.1" height="2.1" fill="#f2c8d0" opacity="0.46"/>
<rect x="1786.1" y="1249.3" width="2.7" height="2.7" fill="#f2c8d0" opacity="0.39"/>
<rect x="1774.2" y="1248.4" width="3.2" height="3.2" fill="#f2c8d0" opacity="0.58"/>
<rect x="1776.8" y="1258.1" width="3.5" height="3.5" fill="#f2c8d0" opacity="0.65"/>
<rect x="1674.6" y="1251.6" width="2.4" height="2.4" fill="#f2c8d0" opacity="0.26"/>
<rect x="1994.1" y="1254.3" width="2.6" height="2.6" fill="#f2c8d0" opacity="0.67"/>
<rect x="1887.2" y="1256.4" width="3.2" height="3.2" fill="#f2c8d0" opacity="0.54"/>
<rect x="1854.6" y="1249.6" width="1.5" height="1.5" fill="#f2c8d0" opacity="0.31"/>
<rect x="2009.5" y="1255.1" width="1.9" height="1.9" fill="#f2c8d0" opacity="0.38"/>
<rect x="1835.5" y="1253.9" width="3.1" height="3.1" fill="#f2c8d0" opacity="0.52"/>
<rect x="1670.8" y="1252.4" width="2.2" height="2.2" fill="#f2c8d0" opacity="0.67"/>
<rect x="1915.5" y="1256.7" width="1.7" height="1.7" fill="#f2c8d0" opacity="0.44"/>
<rect x="1767.8" y="1258.2" width="3.5" height="3.5" fill="#f2c8d0" opacity="0.48"/>
<rect x="2000.1" y="1248.1" width="1.5" height="1.5" fill="#f2c8d0" opacity="0.64"/>
<rect x="1867.8" y="1254.3" width="2.3" height="2.3" fill="#f2c8d0" opacity="0.62"/>
<rect x="1974.0" y="1254.3" width="2.8" height="2.8" fill="#f2c8d0" opacity="0.65"/>
<rect x="1690.6" y="1254.6" width="2.6" height="2.6" fill="#f2c8d0" opacity="0.27"/>
<rect x="1670.0" y="1246.4" width="3.2" height="3.2" fill="#f2c8d0" opacity="0.57"/>
<rect x="1906.5" y="1253.8" width="1.9" height="1.9" fill="#f2c8d0" opacity="0.46"/>
<rect x="1705.6" y="1254.5" width="2.4" height="2.4" fill="#f2c8d0" opacity="0.26"/>
<rect x="1699.1" y="1256.0" width="2.9" height="2.9" fill="#f2c8d0" opacity="0.52"/>
<rect x="1734.2" y="1255.0" width="1.6" height="1.6" fill="#f2c8d0" opacity="0.60"/>
<rect x="1939.0" y="1258.8" width="3.3" height="3.3" fill="#f2c8d0" opacity="0.32"/>
<rect x="1931.8" y="1251.5" width="3.1" height="3.1" fill="#f2c8d0" opacity="0.35"/>
<rect x="1713.0" y="1253.4" width="3.2" height="3.2" fill="#f2c8d0" opacity="0.69"/>
<rect x="1909.8" y="1257.0" width="2.7" height="2.7" fill="#f2c8d0" opacity="0.35"/>
<rect x="1951.0" y="1256.5" width="2.3" height="2.3" fill="#f2c8d0" opacity="0.48"/>
<rect x="1825.8" y="1261.1" width="3.2" height="3.2" fill="#f2c8d0" opacity="0.65"/>
<rect x="1851.4" y="1254.1" width="2.3" height="2.3" fill="#f2c8d0" opacity="0.39"/>
<rect x="1711.8" y="1254.9" width="2.3" height="2.3" fill="#f2c8d0" opacity="0.57"/>
<rect x="2008.7" y="1258.3" width="2.0" height="2.0" fill="#f2c8d0" opacity="0.64"/>
<rect x="1778.4" y="1251.2" width="2.8" height="2.8" fill="#f2c8d0" opacity="0.45"/>
<rect x="1701.3" y="1255.2" width="2.7" height="2.7" fill="#f2c8d0" opacity="0.31"/>
<rect x="1756.6" y="1248.1" width="3.0" height="3.0" fill="#f2c8d0" opacity="0.52"/>
<rect x="1820.3" y="1257.3" width="2.1" height="2.1" fill="#f2c8d0" opacity="0.48"/>
<rect x="1819.9" y="1249.9" width="2.0" height="2.0" fill="#f2c8d0" opacity="0.41"/>
<rect x="1788.0" y="1253.8" width="1.6" height="1.6" fill="#f2c8d0" opacity="0.30"/>
<rect x="1914.3" y="1251.2" width="3.2" height="3.2" fill="#f2c8d0" opacity="0.54"/>
<rect x="1817.5" y="1258.7" width="3.2" height="3.2" fill="#f2c8d0" opacity="0.50"/>
<rect x="1665.0" y="1254.9" width="2.5" height="2.5" fill="#f2c8d0" opacity="0.57"/>
<rect x="1894.2" y="1250.1" width="3.4" height="3.4" fill="#f2c8d0" opacity="0.53"/>
<rect x="1706.3" y="1250.6" width="1.5" height="1.5" fill="#f2c8d0" opacity="0.56"/>
<rect x="1875.6" y="1249.2" width="2.9" height="2.9" fill="#f2c8d0" opacity="0.43"/>
<rect x="1767.6" y="1251.8" width="3.1" height="3.1" fill="#f2c8d0" opacity="0.32"/>
<rect x="1848.7" y="1252.9" width="2.8" height="2.8" fill="#f2c8d0" opacity="0.38"/>
<rect x="1699.0" y="1261.9" width="2.7" height="2.7" fill="#f2c8d0" opacity="0.61"/>
<rect x="1808.7" y="1248.6" width="2.0" height="2.0" fill="#f2c8d0" opacity="0.48"/>
<rect x="1657.1" y="1248.1" width="2.2" height="2.2" fill="#f2c8d0" opacity="0.67"/>
<rect x="1691.9" y="1252.1" width="2.0" height="2.0" fill="#f2c8d0" opacity="0.52"/>
<rect x="1853.5" y="1254.4" width="3.1" height="3.1" fill="#f2c8d0" opacity="0.28"/>
<rect x="1941.7" y="1253.5" width="2.8" height="2.8" fill="#f2c8d0" opacity="0.26"/>
<rect x="1593.5" y="1214.8" width="3.4" height="3.4" fill="#f2c8d0" opacity="0.31"/>
<rect x="1544.5" y="1228.7" width="1.9" height="1.9" fill="#f2c8d0" opacity="0.42"/>
<rect x="1548.4" y="1214.9" width="2.4" height="2.4" fill="#f2c8d0" opacity="0.24"/>
<rect x="1598.3" y="1224.0" width="3.3" height="3.3" fill="#f2c8d0" opacity="0.23"/>
<rect x="1548.6" y="1195.0" width="3.0" height="3.0" fill="#f2c8d0" opacity="0.24"/>
<rect x="1590.3" y="1209.1" width="1.6" height="1.6" fill="#f2c8d0" opacity="0.35"/>
<rect x="1583.8" y="1205.2" width="2.9" height="2.9" fill="#f2c8d0" opacity="0.25"/>
<rect x="1547.6" y="1224.0" width="2.1" height="2.1" fill="#f2c8d0" opacity="0.23"/>
<rect x="1549.6" y="1226.1" width="2.9" height="2.9" fill="#f2c8d0" opacity="0.25"/>
<rect x="1567.8" y="1219.6" width="1.7" height="1.7" fill="#f2c8d0" opacity="0.26"/>
<rect x="1561.5" y="1223.6" width="1.7" height="1.7" fill="#f2c8d0" opacity="0.46"/>
<rect x="1559.5" y="1215.1" width="2.3" height="2.3" fill="#f2c8d0" opacity="0.33"/>
<rect x="1569.0" y="1232.1" width="3.3" height="3.3" fill="#f2c8d0" opacity="0.25"/>
<rect x="1593.6" y="1219.8" width="3.1" height="3.1" fill="#f2c8d0" opacity="0.39"/>
<rect x="1579.3" y="1204.5" width="3.3" height="3.3" fill="#f2c8d0" opacity="0.43"/>
<rect x="1572.8" y="1222.1" width="3.3" height="3.3" fill="#f2c8d0" opacity="0.20"/>
<rect x="1566.3" y="1231.4" width="2.8" height="2.8" fill="#f2c8d0" opacity="0.35"/>
<rect x="1548.8" y="1219.5" width="1.6" height="1.6" fill="#f2c8d0" opacity="0.44"/>
<rect x="1571.0" y="1202.4" width="1.8" height="1.8" fill="#f2c8d0" opacity="0.39"/>
<rect x="1570.0" y="1217.8" width="3.3" height="3.3" fill="#f2c8d0" opacity="0.41"/>
<rect x="1596.3" y="1222.7" width="2.9" height="2.9" fill="#f2c8d0" opacity="0.26"/>
<rect x="1562.8" y="1209.7" width="2.8" height="2.8" fill="#f2c8d0" opacity="0.30"/>
<rect x="1568.8" y="1195.0" width="1.8" height="1.8" fill="#f2c8d0" opacity="0.47"/>
<rect x="1551.5" y="1204.2" width="3.5" height="3.5" fill="#f2c8d0" opacity="0.26"/>
<rect x="1579.8" y="1216.8" width="2.7" height="2.7" fill="#f2c8d0" opacity="0.30"/>
<rect x="1894.0" y="1190.6" width="4.1" height="4.1" fill="#50b0a0" opacity="0.41"/>
<rect x="2051.1" y="1172.1" width="3.1" height="3.1" fill="#5a70c8" opacity="0.52"/>
<rect x="2029.9" y="1057.1" width="3.4" height="3.4" fill="#5a70c8" opacity="0.55"/>
<rect x="2087.3" y="1197.5" width="3.4" height="3.4" fill="#5a70c8" opacity="0.38"/>
<rect x="1992.3" y="1071.8" width="3.1" height="3.1" fill="#5a70c8" opacity="0.56"/>
<rect x="1742.8" y="1274.5" width="4.1" height="4.1" fill="#5a70c8" opacity="0.61"/>
<rect x="1898.6" y="1070.4" width="3.5" height="3.5" fill="#4a8ad0" opacity="0.45"/>
<rect x="1472.5" y="1112.1" width="4.1" height="4.1" fill="#7a60c0" opacity="0.67"/>
<rect x="2113.4" y="1304.5" width="3.4" height="3.4" fill="#8070b0" opacity="0.59"/>
<rect x="1897.7" y="1117.2" width="3.8" height="3.8" fill="#50b0a0" opacity="0.49"/>
<rect x="2118.5" y="1167.9" width="2.7" height="2.7" fill="#4a8ad0" opacity="0.64"/>
<rect x="2017.3" y="1121.7" width="3.7" height="3.7" fill="#8070b0" opacity="0.61"/>
<rect x="2109.4" y="1136.4" width="4.2" height="4.2" fill="#7a60c0" opacity="0.44"/>
<rect x="1794.7" y="1160.7" width="2.6" height="2.6" fill="#5a70c8" opacity="0.65"/>
<rect x="2077.1" y="1053.9" width="3.4" height="3.4" fill="#60c060" opacity="0.66"/>
<rect x="1483.8" y="1120.7" width="4.2" height="4.2" fill="#8070b0" opacity="0.41"/>
<rect x="1524.7" y="1256.8" width="2.7" height="2.7" fill="#7a60c0" opacity="0.64"/>
<rect x="1615.0" y="1087.7" width="4.3" height="4.3" fill="#7a60c0" opacity="0.52"/>
<rect x="1998.7" y="1110.0" width="4.3" height="4.3" fill="#7a60c0" opacity="0.41"/>
<rect x="2152.6" y="1123.5" width="4.5" height="4.5" fill="#5a70c8" opacity="0.57"/>
<rect x="1814.1" y="1267.3" width="3.4" height="3.4" fill="#5a70c8" opacity="0.50"/>
<rect x="1767.8" y="1126.3" width="2.6" height="2.6" fill="#60c060" opacity="0.43"/>
<rect x="1763.2" y="1259.0" width="4.4" height="4.4" fill="#50b0a0" opacity="0.41"/>
<rect x="1924.2" y="1189.1" width="3.3" height="3.3" fill="#7a60c0" opacity="0.67"/>
<rect x="2081.2" y="1167.1" width="4.4" height="4.4" fill="#8070b0" opacity="0.48"/>
<rect x="1829.4" y="1243.1" width="3.7" height="3.7" fill="#7a60c0" opacity="0.47"/>
<rect x="1494.6" y="1143.7" width="2.7" height="2.7" fill="#7a60c0" opacity="0.52"/>
<rect x="1631.3" y="1130.9" width="3.7" height="3.7" fill="#7a60c0" opacity="0.46"/>
<rect x="1445.9" y="1098.2" width="2.7" height="2.7" fill="#50b0a0" opacity="0.51"/>
<rect x="1694.7" y="1247.3" width="4.4" height="4.4" fill="#4a8ad0" opacity="0.48"/>
<rect x="2118.1" y="1209.8" width="3.6" height="3.6" fill="#4a8ad0" opacity="0.58"/>
<rect x="1688.1" y="1202.3" width="3.1" height="3.1" fill="#4a8ad0" opacity="0.44"/>
<rect x="2135.2" y="1061.7" width="2.5" height="2.5" fill="#8070b0" opacity="0.37"/>
<rect x="1800.9" y="1217.3" width="4.0" height="4.0" fill="#7a60c0" opacity="0.58"/>
<rect x="1924.5" y="1285.9" width="4.5" height="4.5" fill="#4a8ad0" opacity="0.55"/>
<rect x="1912.3" y="1114.3" width="4.4" height="4.4" fill="#5a70c8" opacity="0.69"/>
<rect x="1653.5" y="1192.8" width="2.5" height="2.5" fill="#60c060" opacity="0.47"/>
<rect x="1943.4" y="1183.5" width="2.9" height="2.9" fill="#8070b0" opacity="0.42"/>
<rect x="1555.8" y="1261.4" width="2.7" height="2.7" fill="#5a70c8" opacity="0.44"/>
<rect x="2067.8" y="1179.0" width="3.1" height="3.1" fill="#60c060" opacity="0.49"/>
<rect x="1770.2" y="1118.5" width="5.6" height="13.5" fill="#0a0a0a"/>
<rect x="1770.2" y="1138" width="5.6" height="16.0" fill="#0a0a0a"/>
<rect x="1770.2" y="1160" width="5.6" height="16.0" fill="#0a0a0a"/>
<rect x="1770.2" y="1181.6" width="5.6" height="16.1" fill="#0a0a0a"/>
<rect x="1770.2" y="1204" width="5.6" height="16.2" fill="#0a0a0a"/>
<text transform="translate(1428.26,1083.70) scale(0.9383,1)" font-size="46" font-family='"Liberation Sans", Arial, sans-serif' fill="#050505">Type-</text>
<text transform="translate(1595.64,1083.70) scale(0.9503,1)" font-size="46" font-family='"Liberation Sans", Arial, sans-serif' fill="#050505">0620</text>
<text transform="translate(2013.65,1281.40) scale(0.9573,1)" font-size="46" font-family='"Liberation Sans", Arial, sans-serif' fill="#050505">100μm</text>
<rect x="2042.8" y="1296" width="79.5" height="12.3" fill="#050505"/>
<text transform="translate(1541.40,1083.70) scale(0.8761,1)" font-size="43.5" font-family='"Liberation Serif", "Noto Serif CJK SC", serif' font-weight="700" fill="#050505">Ⅲ</text>
</g>
<defs>
<filter id="cm" x="0" y="0" width="1" height="1" color-interpolation-filters="sRGB"><feComponentTransfer><feFuncR type="table" tableValues="0.373 0.424 0.475 0.525 0.576 0.627 0.673 0.718 0.764 0.809 0.855 0.808 0.761 0.714 0.667 0.554 0.441 0.328 0.216 0.193 0.171 0.148 0.125 0.127 0.129 0.131 0.133 0.133 0.133 0.133 0.133 0.133 0.133 0.133 0.133 0.133 0.133 0.132 0.131 0.129 0.128 0.127 0.125 0.176 0.227 0.278 0.329 0.380 0.431 0.482 0.533 0.573 0.612 0.651 0.690 0.729 0.769 0.808 0.847 0.848 0.849 0.850 0.851 0.852 0.853 0.854 0.855 0.857 0.859 0.861 0.863 0.865 0.867 0.869 0.871 0.871 0.871 0.871 0.871 0.871 0.871 0.871 0.871 0.872 0.873 0.874 0.875 0.875 0.876 0.877 0.878 0.880 0.882 0.883 0.885 0.886 0.888 0.889 0.891 0.893 0.894"/><feFuncG type="table" tableValues="0.047 0.055 0.063 0.071 0.078 0.086 0.096 0.107 0.117 0.127 0.137 0.142 0.147 0.152 0.157 0.157 0.157 0.157 0.157 0.211 0.265 0.319 0.373 0.461 0.549 0.637 0.725 0.764 0.802 0.840 0.878 0.873 0.868 0.863 0.858 0.852 0.847 0.851 0.855 0.859 0.863 0.867 0.871 0.870 0.870 0.869 0.869 0.868 0.868 0.867 0.867 0.865 0.864 0.862 0.861 0.859 0.858 0.856 0.855 0.834 0.813 0.792 0.771 0.750 0.728 0.707 0.686 0.667 0.647 0.627 0.608 0.588 0.569 0.549 0.529 0.511 0.493 0.475 0.457 0.439 0.421 0.402 0.384 0.365 0.345 0.325 0.306 0.286 0.267 0.247 0.227 0.217 0.207 0.197 0.187 0.176 0.166 0.156 0.146 0.136 0.125"/><feFuncB type="table" tableValues="0.255 0.298 0.341 0.384 0.427 0.471 0.547 0.624 0.701 0.778 0.855 0.872 0.888 0.905 0.922 0.919 0.916 0.913 0.910 0.908 0.906 0.904 0.902 0.902 0.902 0.902 0.902 0.896 0.890 0.884 0.878 0.830 0.782 0.733 0.685 0.637 0.588 0.516 0.444 0.373 0.301 0.229 0.157 0.153 0.149 0.145 0.141 0.137 0.133 0.129 0.125 0.125 0.125 0.125 0.125 0.125 0.125 0.125 0.125 0.125 0.125 0.125 0.125 0.125 0.125 0.125 0.125 0.126 0.126 0.127 0.127 0.128 0.128 0.129 0.129 0.129 0.128 0.128 0.127 0.127 0.126 0.126 0.125 0.126 0.127 0.128 0.129 0.130 0.131 0.132 0.133 0.134 0.135 0.136 0.136 0.137 0.138 0.139 0.140 0.140 0.141"/></feComponentTransfer></filter>
<filter id="f0" filterUnits="userSpaceOnUse" x="1347" y="44" width="217" height="137" color-interpolation-filters="sRGB"><feGaussianBlur stdDeviation="12"/></filter>
<filter id="f1" filterUnits="userSpaceOnUse" x="1352" y="339" width="197" height="113" color-interpolation-filters="sRGB"><feGaussianBlur stdDeviation="12"/></filter>
<filter id="f2" filterUnits="userSpaceOnUse" x="1484" y="86" width="677" height="337" color-interpolation-filters="sRGB"><feGaussianBlur stdDeviation="12"/></filter>
<filter id="f3" filterUnits="userSpaceOnUse" x="1576" y="161" width="469" height="174" color-interpolation-filters="sRGB"><feGaussianBlur stdDeviation="14"/></filter>
<filter id="f4" filterUnits="userSpaceOnUse" x="1467" y="108" width="97" height="105" color-interpolation-filters="sRGB"><feGaussianBlur stdDeviation="8"/></filter>
<filter id="f5" filterUnits="userSpaceOnUse" x="1467" y="282" width="97" height="113" color-interpolation-filters="sRGB"><feGaussianBlur stdDeviation="8"/></filter>
<filter id="f6" filterUnits="userSpaceOnUse" x="1494" y="115" width="428" height="53" color-interpolation-filters="sRGB"><feGaussianBlur stdDeviation="6"/></filter>
<filter id="f7" filterUnits="userSpaceOnUse" x="1491" y="141" width="439" height="79" color-interpolation-filters="sRGB"><feGaussianBlur stdDeviation="8"/></filter>
<filter id="f8" filterUnits="userSpaceOnUse" x="1644" y="150" width="273" height="73" color-interpolation-filters="sRGB"><feGaussianBlur stdDeviation="8"/></filter>
<filter id="f9" filterUnits="userSpaceOnUse" x="1486" y="279" width="444" height="79" color-interpolation-filters="sRGB"><feGaussianBlur stdDeviation="8"/></filter>
<filter id="f10" filterUnits="userSpaceOnUse" x="1608" y="282" width="315" height="65" color-interpolation-filters="sRGB"><feGaussianBlur stdDeviation="7"/></filter>
<filter id="f11" filterUnits="userSpaceOnUse" x="1489" y="324" width="428" height="73" color-interpolation-filters="sRGB"><feGaussianBlur stdDeviation="8"/></filter>
<filter id="f12" filterUnits="userSpaceOnUse" x="1869" y="141" width="283" height="83" color-interpolation-filters="sRGB"><feGaussianBlur stdDeviation="9"/></filter>
<filter id="f13" filterUnits="userSpaceOnUse" x="1869" y="277" width="283" height="83" color-interpolation-filters="sRGB"><feGaussianBlur stdDeviation="9"/></filter>
<filter id="f14" filterUnits="userSpaceOnUse" x="2106" y="80" width="67" height="341" color-interpolation-filters="sRGB"><feGaussianBlur stdDeviation="6"/></filter>
<filter id="f15" filterUnits="userSpaceOnUse" x="1421" y="117" width="23" height="110" color-interpolation-filters="sRGB"><feGaussianBlur stdDeviation="2"/></filter>
<filter id="f16" filterUnits="userSpaceOnUse" x="1422" y="259" width="22" height="157" color-interpolation-filters="sRGB"><feGaussianBlur stdDeviation="2"/></filter>
<filter id="f17" filterUnits="userSpaceOnUse" x="2148" y="93" width="15" height="322" color-interpolation-filters="sRGB"><feGaussianBlur stdDeviation="1"/></filter>
<filter id="f18" filterUnits="userSpaceOnUse" x="1425" y="400" width="738" height="15" color-interpolation-filters="sRGB"><feGaussianBlur stdDeviation="1"/></filter>
<filter id="f19" filterUnits="userSpaceOnUse" x="1487" y="141" width="422" height="37" color-interpolation-filters="sRGB"><feGaussianBlur stdDeviation="2.5"/></filter>
<filter id="f20" filterUnits="userSpaceOnUse" x="1494" y="148" width="408" height="23" color-interpolation-filters="sRGB"><feGaussianBlur stdDeviation="1.5"/></filter>
<filter id="f21" filterUnits="userSpaceOnUse" x="1868" y="129" width="63" height="63" color-interpolation-filters="sRGB"><feGaussianBlur stdDeviation="3"/></filter>
<filter id="f22" filterUnits="userSpaceOnUse" x="1862" y="139" width="74" height="44" color-interpolation-filters="sRGB"><feGaussianBlur stdDeviation="1.5"/></filter>
<filter id="f23" filterUnits="userSpaceOnUse" x="1877" y="139" width="44" height="44" color-interpolation-filters="sRGB"><feGaussianBlur stdDeviation="1.5"/></filter>
<filter id="f24" filterUnits="userSpaceOnUse" x="1881" y="143" width="36" height="36" color-interpolation-filters="sRGB"><feGaussianBlur stdDeviation="2.5"/></filter>
<filter id="f25" filterUnits="userSpaceOnUse" x="1938" y="130" width="63" height="63" color-interpolation-filters="sRGB"><feGaussianBlur stdDeviation="3"/></filter>
<filter id="f26" filterUnits="userSpaceOnUse" x="1948" y="139" width="44" height="44" color-interpolation-filters="sRGB"><feGaussianBlur stdDeviation="1.5"/></filter>
<filter id="f27" filterUnits="userSpaceOnUse" x="1952" y="143" width="36" height="36" color-interpolation-filters="sRGB"><feGaussianBlur stdDeviation="2.5"/></filter>
<filter id="f28" filterUnits="userSpaceOnUse" x="2006" y="130" width="63" height="63" color-interpolation-filters="sRGB"><feGaussianBlur stdDeviation="3"/></filter>
<filter id="f29" filterUnits="userSpaceOnUse" x="2015" y="139" width="44" height="44" color-interpolation-filters="sRGB"><feGaussianBlur stdDeviation="1.5"/></filter>
<filter id="f30" filterUnits="userSpaceOnUse" x="2019" y="143" width="36" height="36" color-interpolation-filters="sRGB"><feGaussianBlur stdDeviation="2.5"/></filter>
<filter id="f31" filterUnits="userSpaceOnUse" x="2074" y="130" width="63" height="63" color-interpolation-filters="sRGB"><feGaussianBlur stdDeviation="3"/></filter>
<filter id="f32" filterUnits="userSpaceOnUse" x="2084" y="139" width="44" height="44" color-interpolation-filters="sRGB"><feGaussianBlur stdDeviation="1.5"/></filter>
<filter id="f33" filterUnits="userSpaceOnUse" x="2088" y="143" width="36" height="36" color-interpolation-filters="sRGB"><feGaussianBlur stdDeviation="2.5"/></filter>
<filter id="f34" filterUnits="userSpaceOnUse" x="1672" y="229" width="442" height="39" color-interpolation-filters="sRGB"><feGaussianBlur stdDeviation="2.5"/></filter>
<filter id="f35" filterUnits="userSpaceOnUse" x="1679" y="236" width="428" height="25" color-interpolation-filters="sRGB"><feGaussianBlur stdDeviation="1.5"/></filter>
<filter id="f36" filterUnits="userSpaceOnUse" x="1660" y="217" width="63" height="63" color-interpolation-filters="sRGB"><feGaussianBlur stdDeviation="3"/></filter>
<filter id="f37" filterUnits="userSpaceOnUse" x="1654" y="227" width="74" height="44" color-interpolation-filters="sRGB"><feGaussianBlur stdDeviation="1.5"/></filter>
<filter id="f38" filterUnits="userSpaceOnUse" x="1669" y="227" width="44" height="44" color-interpolation-filters="sRGB"><feGaussianBlur stdDeviation="1.5"/></filter>
<filter id="f39" filterUnits="userSpaceOnUse" x="1673" y="231" width="36" height="36" color-interpolation-filters="sRGB"><feGaussianBlur stdDeviation="2.5"/></filter>
<filter id="f40" filterUnits="userSpaceOnUse" x="1460" y="218" width="61" height="61" color-interpolation-filters="sRGB"><feGaussianBlur stdDeviation="3"/></filter>
<filter id="f41" filterUnits="userSpaceOnUse" x="1470" y="228" width="42" height="42" color-interpolation-filters="sRGB"><feGaussianBlur stdDeviation="1.5"/></filter>
<filter id="f42" filterUnits="userSpaceOnUse" x="1473" y="231" width="36" height="36" color-interpolation-filters="sRGB"><feGaussianBlur stdDeviation="2.5"/></filter>
<filter id="f43" filterUnits="userSpaceOnUse" x="1559" y="218" width="61" height="61" color-interpolation-filters="sRGB"><feGaussianBlur stdDeviation="3"/></filter>
<filter id="f44" filterUnits="userSpaceOnUse" x="1569" y="228" width="42" height="42" color-interpolation-filters="sRGB"><feGaussianBlur stdDeviation="1.5"/></filter>
<filter id="f45" filterUnits="userSpaceOnUse" x="1572" y="231" width="36" height="36" color-interpolation-filters="sRGB"><feGaussianBlur stdDeviation="2.5"/></filter>
<filter id="f46" filterUnits="userSpaceOnUse" x="1483" y="320" width="426" height="37" color-interpolation-filters="sRGB"><feGaussianBlur stdDeviation="2.5"/></filter>
<filter id="f47" filterUnits="userSpaceOnUse" x="1490" y="327" width="412" height="23" color-interpolation-filters="sRGB"><feGaussianBlur stdDeviation="1.5"/></filter>
<filter id="f48" filterUnits="userSpaceOnUse" x="1867" y="308" width="63" height="63" color-interpolation-filters="sRGB"><feGaussianBlur stdDeviation="3"/></filter>
<filter id="f49" filterUnits="userSpaceOnUse" x="1861" y="317" width="74" height="44" color-interpolation-filters="sRGB"><feGaussianBlur stdDeviation="1.5"/></filter>
<filter id="f50" filterUnits="userSpaceOnUse" x="1876" y="317" width="44" height="44" color-interpolation-filters="sRGB"><feGaussianBlur stdDeviation="1.5"/></filter>
<filter id="f51" filterUnits="userSpaceOnUse" x="1880" y="321" width="36" height="36" color-interpolation-filters="sRGB"><feGaussianBlur stdDeviation="2.5"/></filter>
<filter id="f52" filterUnits="userSpaceOnUse" x="1936" y="308" width="63" height="63" color-interpolation-filters="sRGB"><feGaussianBlur stdDeviation="3"/></filter>
<filter id="f53" filterUnits="userSpaceOnUse" x="1946" y="317" width="44" height="44" color-interpolation-filters="sRGB"><feGaussianBlur stdDeviation="1.5"/></filter>
<filter id="f54" filterUnits="userSpaceOnUse" x="1950" y="321" width="36" height="36" color-interpolation-filters="sRGB"><feGaussianBlur stdDeviation="2.5"/></filter>
<filter id="f55" filterUnits="userSpaceOnUse" x="2005" y="308" width="63" height="63" color-interpolation-filters="sRGB"><feGaussianBlur stdDeviation="3"/></filter>
<filter id="f56" filterUnits="userSpaceOnUse" x="2014" y="317" width="44" height="44" color-interpolation-filters="sRGB"><feGaussianBlur stdDeviation="1.5"/></filter>
<filter id="f57" filterUnits="userSpaceOnUse" x="2018" y="321" width="36" height="36" color-interpolation-filters="sRGB"><feGaussianBlur stdDeviation="2.5"/></filter>
<filter id="f58" filterUnits="userSpaceOnUse" x="2073" y="308" width="63" height="63" color-interpolation-filters="sRGB"><feGaussianBlur stdDeviation="3"/></filter>
<filter id="f59" filterUnits="userSpaceOnUse" x="2083" y="317" width="44" height="44" color-interpolation-filters="sRGB"><feGaussianBlur stdDeviation="1.5"/></filter>
<filter id="f60" filterUnits="userSpaceOnUse" x="2087" y="321" width="36" height="36" color-interpolation-filters="sRGB"><feGaussianBlur stdDeviation="2.5"/></filter>
<filter id="f61" filterUnits="userSpaceOnUse" x="1374" y="59" width="833" height="402" color-interpolation-filters="sRGB"><feGaussianBlur stdDeviation="2.5"/></filter>
<filter id="f62" filterUnits="userSpaceOnUse" x="1375" y="60" width="831" height="399" color-interpolation-filters="sRGB"><feGaussianBlur stdDeviation="2"/></filter>
<filter id="f63" filterUnits="userSpaceOnUse" x="1366" y="105" width="45" height="91" color-interpolation-filters="sRGB"><feGaussianBlur stdDeviation="5"/></filter>
<filter id="f64" filterUnits="userSpaceOnUse" x="1363" y="407" width="57" height="64" color-interpolation-filters="sRGB"><feGaussianBlur stdDeviation="6"/></filter>
<filter id="f65" filterUnits="userSpaceOnUse" x="1949" y="57" width="223" height="30" color-interpolation-filters="sRGB"><feGaussianBlur stdDeviation="3"/></filter>
<filter id="f66" filterUnits="userSpaceOnUse" x="1562" y="60" width="77" height="22" color-interpolation-filters="sRGB"><feGaussianBlur stdDeviation="2"/></filter>
<filter id="f67" filterUnits="userSpaceOnUse" x="1450" y="593" width="706" height="294" color-interpolation-filters="sRGB"><feGaussianBlur stdDeviation="6"/></filter>
<filter id="f68" filterUnits="userSpaceOnUse" x="1470" y="601" width="456" height="282" color-interpolation-filters="sRGB"><feGaussianBlur stdDeviation="6"/></filter>
<filter id="f69" filterUnits="userSpaceOnUse" x="1836" y="578" width="169" height="327" color-interpolation-filters="sRGB"><feGaussianBlur stdDeviation="14"/></filter>
<filter id="f70" filterUnits="userSpaceOnUse" x="1906" y="576" width="179" height="331" color-interpolation-filters="sRGB"><feGaussianBlur stdDeviation="14"/></filter>
<filter id="f71" filterUnits="userSpaceOnUse" x="1482" y="614" width="497" height="37" color-interpolation-filters="sRGB"><feGaussianBlur stdDeviation="3"/></filter>
<filter id="f72" filterUnits="userSpaceOnUse" x="1436" y="637" width="173" height="201" color-interpolation-filters="sRGB"><feGaussianBlur stdDeviation="12"/></filter>
<filter id="f73" filterUnits="userSpaceOnUse" x="1992" y="580" width="173" height="323" color-interpolation-filters="sRGB"><feGaussianBlur stdDeviation="12"/></filter>
<filter id="f74" filterUnits="userSpaceOnUse" x="2090" y="585" width="79" height="301" color-interpolation-filters="sRGB"><feGaussianBlur stdDeviation="6"/></filter>
<filter id="f75" filterUnits="userSpaceOnUse" x="1416" y="584" width="69" height="303" color-interpolation-filters="sRGB"><feGaussianBlur stdDeviation="4"/></filter>
<filter id="f76" filterUnits="userSpaceOnUse" x="1429" y="585" width="733" height="39" color-interpolation-filters="sRGB"><feGaussianBlur stdDeviation="3"/></filter>
<filter id="f77" filterUnits="userSpaceOnUse" x="1439" y="647" width="30" height="76" color-interpolation-filters="sRGB"><feGaussianBlur stdDeviation="3"/></filter>
<filter id="f78" filterUnits="userSpaceOnUse" x="1445" y="785" width="30" height="92" color-interpolation-filters="sRGB"><feGaussianBlur stdDeviation="3"/></filter>
<filter id="f79" filterUnits="userSpaceOnUse" x="1446" y="849" width="99" height="31" color-interpolation-filters="sRGB"><feGaussianBlur stdDeviation="3"/></filter>
<filter id="f80" filterUnits="userSpaceOnUse" x="2138" y="597" width="30" height="118" color-interpolation-filters="sRGB"><feGaussianBlur stdDeviation="3"/></filter>
<filter id="f81" filterUnits="userSpaceOnUse" x="1466" y="857" width="684" height="20" color-interpolation-filters="sRGB"><feGaussianBlur stdDeviation="1.5"/></filter>
<filter id="f82" filterUnits="userSpaceOnUse" x="1412" y="864" width="762" height="31" color-interpolation-filters="sRGB"><feGaussianBlur stdDeviation="2"/></filter>
<filter id="f83" filterUnits="userSpaceOnUse" x="1430" y="877" width="705" height="28" color-interpolation-filters="sRGB"><feGaussianBlur stdDeviation="2.5"/></filter>
<filter id="f84" filterUnits="userSpaceOnUse" x="1412" y="889" width="762" height="22" color-interpolation-filters="sRGB"><feGaussianBlur stdDeviation="2"/></filter>
<filter id="f85" filterUnits="userSpaceOnUse" x="1624" y="701" width="503" height="73" color-interpolation-filters="sRGB"><feGaussianBlur stdDeviation="5"/></filter>
<filter id="f86" filterUnits="userSpaceOnUse" x="1477" y="635" width="467" height="38" color-interpolation-filters="sRGB"><feGaussianBlur stdDeviation="2.5"/></filter>
<filter id="f87" filterUnits="userSpaceOnUse" x="1483" y="641" width="455" height="26" color-interpolation-filters="sRGB"><feGaussianBlur stdDeviation="1.5"/></filter>
<filter id="f88" filterUnits="userSpaceOnUse" x="1904" y="616" width="69" height="69" color-interpolation-filters="sRGB"><feGaussianBlur stdDeviation="3"/></filter>
<filter id="f89" filterUnits="userSpaceOnUse" x="1899" y="627" width="78" height="46" color-interpolation-filters="sRGB"><feGaussianBlur stdDeviation="1.5"/></filter>
<filter id="f90" filterUnits="userSpaceOnUse" x="1915" y="627" width="46" height="46" color-interpolation-filters="sRGB"><feGaussianBlur stdDeviation="1.5"/></filter>
<filter id="f91" filterUnits="userSpaceOnUse" x="1919" y="631" width="38" height="38" color-interpolation-filters="sRGB"><feGaussianBlur stdDeviation="2.5"/></filter>
<filter id="f92" filterUnits="userSpaceOnUse" x="2041" y="615" width="71" height="71" color-interpolation-filters="sRGB"><feGaussianBlur stdDeviation="3"/></filter>
<filter id="f93" filterUnits="userSpaceOnUse" x="2052" y="625" width="50" height="50" color-interpolation-filters="sRGB"><feGaussianBlur stdDeviation="1.5"/></filter>
<filter id="f94" filterUnits="userSpaceOnUse" x="2057" y="630" width="40" height="40" color-interpolation-filters="sRGB"><feGaussianBlur stdDeviation="2.5"/></filter>
<filter id="f95" filterUnits="userSpaceOnUse" x="1646" y="723" width="456" height="27" color-interpolation-filters="sRGB"><feGaussianBlur stdDeviation="1.5"/></filter>
<filter id="f96" filterUnits="userSpaceOnUse" x="1611" y="689" width="97" height="97" color-interpolation-filters="sRGB"><feGaussianBlur stdDeviation="5"/></filter>
<filter id="f97" filterUnits="userSpaceOnUse" x="1611" y="709" width="98" height="56" color-interpolation-filters="sRGB"><feGaussianBlur stdDeviation="1.5"/></filter>
<filter id="f98" filterUnits="userSpaceOnUse" x="1632" y="709" width="56" height="56" color-interpolation-filters="sRGB"><feGaussianBlur stdDeviation="1.5"/></filter>
<filter id="f99" filterUnits="userSpaceOnUse" x="1637" y="714" width="46" height="46" color-interpolation-filters="sRGB"><feGaussianBlur stdDeviation="2.5"/></filter>
<filter id="f100" filterUnits="userSpaceOnUse" x="1477" y="689" width="97" height="97" color-interpolation-filters="sRGB"><feGaussianBlur stdDeviation="5"/></filter>
<filter id="f101" filterUnits="userSpaceOnUse" x="1498" y="709" width="56" height="56" color-interpolation-filters="sRGB"><feGaussianBlur stdDeviation="1.5"/></filter>
<filter id="f102" filterUnits="userSpaceOnUse" x="1503" y="714" width="46" height="46" color-interpolation-filters="sRGB"><feGaussianBlur stdDeviation="2.5"/></filter>
<filter id="f103" filterUnits="userSpaceOnUse" x="1479" y="804" width="465" height="38" color-interpolation-filters="sRGB"><feGaussianBlur stdDeviation="2.5"/></filter>
<filter id="f104" filterUnits="userSpaceOnUse" x="1485" y="810" width="453" height="26" color-interpolation-filters="sRGB"><feGaussianBlur stdDeviation="1.5"/></filter>
<filter id="f105" filterUnits="userSpaceOnUse" x="1906" y="786" width="69" height="69" color-interpolation-filters="sRGB"><feGaussianBlur stdDeviation="3"/></filter>
<filter id="f106" filterUnits="userSpaceOnUse" x="1901" y="797" width="78" height="46" color-interpolation-filters="sRGB"><feGaussianBlur stdDeviation="1.5"/></filter>
<filter id="f107" filterUnits="userSpaceOnUse" x="1917" y="797" width="46" height="46" color-interpolation-filters="sRGB"><feGaussianBlur stdDeviation="1.5"/></filter>
<filter id="f108" filterUnits="userSpaceOnUse" x="1921" y="801" width="38" height="38" color-interpolation-filters="sRGB"><feGaussianBlur stdDeviation="2.5"/></filter>
<filter id="f109" filterUnits="userSpaceOnUse" x="2043" y="785" width="71" height="71" color-interpolation-filters="sRGB"><feGaussianBlur stdDeviation="3"/></filter>
<filter id="f110" filterUnits="userSpaceOnUse" x="2054" y="795" width="50" height="50" color-interpolation-filters="sRGB"><feGaussianBlur stdDeviation="1.5"/></filter>
<filter id="f111" filterUnits="userSpaceOnUse" x="2059" y="800" width="40" height="40" color-interpolation-filters="sRGB"><feGaussianBlur stdDeviation="2.5"/></filter>
<filter id="f112" filterUnits="userSpaceOnUse" x="1389" y="570" width="803" height="343" color-interpolation-filters="sRGB"><feGaussianBlur stdDeviation="2.5"/></filter>
<filter id="f113" filterUnits="userSpaceOnUse" x="1390" y="571" width="801" height="340" color-interpolation-filters="sRGB"><feGaussianBlur stdDeviation="2"/></filter>
<filter id="f114" filterUnits="userSpaceOnUse" x="1384" y="565" width="42" height="41" color-interpolation-filters="sRGB"><feGaussianBlur stdDeviation="4"/></filter>
<filter id="f115" filterUnits="userSpaceOnUse" x="2161" y="568" width="33" height="33" color-interpolation-filters="sRGB"><feGaussianBlur stdDeviation="3"/></filter>
<filter id="f116" filterUnits="userSpaceOnUse" x="1421" y="1081" width="72" height="209" color-interpolation-filters="sRGB"><feGaussianBlur stdDeviation="5"/></filter>
<filter id="f117" filterUnits="userSpaceOnUse" x="1448" y="1104" width="695" height="183" color-interpolation-filters="sRGB"><feGaussianBlur stdDeviation="4"/></filter>
<filter id="f118" filterUnits="userSpaceOnUse" x="1450" y="1106" width="689" height="183" color-interpolation-filters="sRGB"><feGaussianBlur stdDeviation="6"/></filter>
<filter id="f119" filterUnits="userSpaceOnUse" x="1459" y="1113" width="505" height="173" color-interpolation-filters="sRGB"><feGaussianBlur stdDeviation="7"/></filter>
<filter id="f120" filterUnits="userSpaceOnUse" x="1876" y="1090" width="179" height="219" color-interpolation-filters="sRGB"><feGaussianBlur stdDeviation="14"/></filter>
<filter id="f121" filterUnits="userSpaceOnUse" x="1951" y="1086" width="154" height="225" color-interpolation-filters="sRGB"><feGaussianBlur stdDeviation="14"/></filter>
<filter id="f122" filterUnits="userSpaceOnUse" x="2012" y="1088" width="145" height="219" color-interpolation-filters="sRGB"><feGaussianBlur stdDeviation="12"/></filter>
<filter id="f123" filterUnits="userSpaceOnUse" x="2041" y="1078" width="109" height="205" color-interpolation-filters="sRGB"><feGaussianBlur stdDeviation="10"/></filter>
<filter id="f124" filterUnits="userSpaceOnUse" x="2004" y="1069" width="141" height="98" color-interpolation-filters="sRGB"><feGaussianBlur stdDeviation="8"/></filter>
<filter id="f125" filterUnits="userSpaceOnUse" x="1448" y="1103" width="560" height="35" color-interpolation-filters="sRGB"><feGaussianBlur stdDeviation="4"/></filter>
<filter id="f126" filterUnits="userSpaceOnUse" x="1429" y="1264" width="718" height="46" color-interpolation-filters="sRGB"><feGaussianBlur stdDeviation="3"/></filter>
<filter id="f127" filterUnits="userSpaceOnUse" x="1516" y="1270" width="289" height="39" color-interpolation-filters="sRGB"><feGaussianBlur stdDeviation="4"/></filter>
<filter id="f128" filterUnits="userSpaceOnUse" x="1746" y="1265" width="309" height="39" color-interpolation-filters="sRGB"><feGaussianBlur stdDeviation="4"/></filter>
<filter id="f129" filterUnits="userSpaceOnUse" x="1489" y="1279" width="143" height="31" color-interpolation-filters="sRGB"><feGaussianBlur stdDeviation="3"/></filter>
<filter id="f130" filterUnits="userSpaceOnUse" x="1439" y="1042" width="243" height="33" color-interpolation-filters="sRGB"><feGaussianBlur stdDeviation="3"/></filter>
<filter id="f131" filterUnits="userSpaceOnUse" x="1649" y="1040" width="143" height="31" color-interpolation-filters="sRGB"><feGaussianBlur stdDeviation="3"/></filter>
<filter id="f132" filterUnits="userSpaceOnUse" x="1779" y="1040" width="243" height="33" color-interpolation-filters="sRGB"><feGaussianBlur stdDeviation="3"/></filter>
<filter id="f133" filterUnits="userSpaceOnUse" x="1999" y="1042" width="143" height="33" color-interpolation-filters="sRGB"><feGaussianBlur stdDeviation="3"/></filter>
<filter id="f134" filterUnits="userSpaceOnUse" x="1493" y="1066" width="531" height="67" color-interpolation-filters="sRGB"><feGaussianBlur stdDeviation="5"/></filter>
<filter id="f135" filterUnits="userSpaceOnUse" x="1508" y="1081" width="486" height="37" color-interpolation-filters="sRGB"><feGaussianBlur stdDeviation="3"/></filter>
<filter id="f136" filterUnits="userSpaceOnUse" x="1948" y="1071" width="81" height="87" color-interpolation-filters="sRGB"><feGaussianBlur stdDeviation="4"/></filter>
<filter id="f137" filterUnits="userSpaceOnUse" x="1956" y="1081" width="61" height="67" color-interpolation-filters="sRGB"><feGaussianBlur stdDeviation="4"/></filter>
<filter id="f138" filterUnits="userSpaceOnUse" x="1601" y="1202" width="487" height="55" color-interpolation-filters="sRGB"><feGaussianBlur stdDeviation="4"/></filter>
<filter id="f139" filterUnits="userSpaceOnUse" x="1615" y="1216" width="459" height="27" color-interpolation-filters="sRGB"><feGaussianBlur stdDeviation="1.5"/></filter>
<filter id="f140" filterUnits="userSpaceOnUse" x="1589" y="1193" width="79" height="79" color-interpolation-filters="sRGB"><feGaussianBlur stdDeviation="3"/></filter>
<filter id="f141" filterUnits="userSpaceOnUse" x="1577" y="1203" width="102" height="58" color-interpolation-filters="sRGB"><feGaussianBlur stdDeviation="1.5"/></filter>
<filter id="f142" filterUnits="userSpaceOnUse" x="1599" y="1203" width="58" height="58" color-interpolation-filters="sRGB"><feGaussianBlur stdDeviation="1.5"/></filter>
<filter id="f143" filterUnits="userSpaceOnUse" x="1603" y="1207" width="50" height="50" color-interpolation-filters="sRGB"><feGaussianBlur stdDeviation="2.5"/></filter>
<filter id="f144" filterUnits="userSpaceOnUse" x="1478" y="1195" width="77" height="77" color-interpolation-filters="sRGB"><feGaussianBlur stdDeviation="3"/></filter>
<filter id="f145" filterUnits="userSpaceOnUse" x="1489" y="1205" width="56" height="56" color-interpolation-filters="sRGB"><feGaussianBlur stdDeviation="1.5"/></filter>
<filter id="f146" filterUnits="userSpaceOnUse" x="1492" y="1208" width="50" height="50" color-interpolation-filters="sRGB"><feGaussianBlur stdDeviation="2.5"/></filter>
<filter id="f147" filterUnits="userSpaceOnUse" x="1405" y="1022" width="771" height="307" color-interpolation-filters="sRGB"><feGaussianBlur stdDeviation="2.5"/></filter>
<filter id="f148" filterUnits="userSpaceOnUse" x="1407" y="1023" width="768" height="305" color-interpolation-filters="sRGB"><feGaussianBlur stdDeviation="2"/></filter>
<filter id="f149" filterUnits="userSpaceOnUse" x="1666" y="1017" width="289" height="41" color-interpolation-filters="sRGB"><feGaussianBlur stdDeviation="4"/></filter>
<filter id="f150" filterUnits="userSpaceOnUse" x="1404" y="1020" width="34" height="36" color-interpolation-filters="sRGB"><feGaussianBlur stdDeviation="3"/></filter>
<filter id="f151" filterUnits="userSpaceOnUse" x="2137" y="1020" width="41" height="38" color-interpolation-filters="sRGB"><feGaussianBlur stdDeviation="3"/></filter>
<filter id="f152" filterUnits="userSpaceOnUse" x="1606" y="1295" width="575" height="39" color-interpolation-filters="sRGB"><feGaussianBlur stdDeviation="4"/></filter>
<filter id="f153" filterUnits="userSpaceOnUse" x="1404" y="1297" width="40" height="34" color-interpolation-filters="sRGB"><feGaussianBlur stdDeviation="3"/></filter>
<filter id="f154" filterUnits="userSpaceOnUse" x="2125" y="1281" width="59" height="56" color-interpolation-filters="sRGB"><feGaussianBlur stdDeviation="5"/></filter>
<filter id="f155" filterUnits="userSpaceOnUse" x="1630" y="1164" width="421" height="67" color-interpolation-filters="sRGB"><feGaussianBlur stdDeviation="6"/></filter>
<filter id="f156" filterUnits="userSpaceOnUse" x="1646" y="1234" width="379" height="41" color-interpolation-filters="sRGB"><feGaussianBlur stdDeviation="4"/></filter>
</defs>
<defs><linearGradient id="cbg" x1="0" y1="0" x2="0" y2="1">
<stop offset="0%" stop-color="#dd1f22"/>
<stop offset="6.8%" stop-color="#dc3b22"/>
<stop offset="14%" stop-color="#dd6020"/>
<stop offset="21.3%" stop-color="#dd8521"/>
<stop offset="28.7%" stop-color="#d8ac20"/>
<stop offset="36%" stop-color="#d8d820"/>
<stop offset="43.3%" stop-color="#b0d520"/>
<stop offset="50.7%" stop-color="#88dd20"/>
<stop offset="57.9%" stop-color="#50d820"/>
<stop offset="64.9%" stop-color="#20dd20"/>
<stop offset="71.5%" stop-color="#20d850"/>
<stop offset="78.8%" stop-color="#22d890"/>
<stop offset="86.1%" stop-color="#22e0e0"/>
<stop offset="93.4%" stop-color="#2090dd"/>
<stop offset="100%" stop-color="#2050dd"/>
</linearGradient></defs>
<rect x="2231" y="57" width="78" height="1256" fill="url(#cbg)"/>
<rect x="2302" y="57" width="7" height="1256" fill="#fff" opacity="0.4"/>
<rect x="2231" y="55" width="78" height="3" fill="#e02a30" opacity="0.35"/>
<rect x="2231" y="1313" width="78" height="3" fill="#3050e0" opacity="0.3"/>
</svg>
</body></html>
